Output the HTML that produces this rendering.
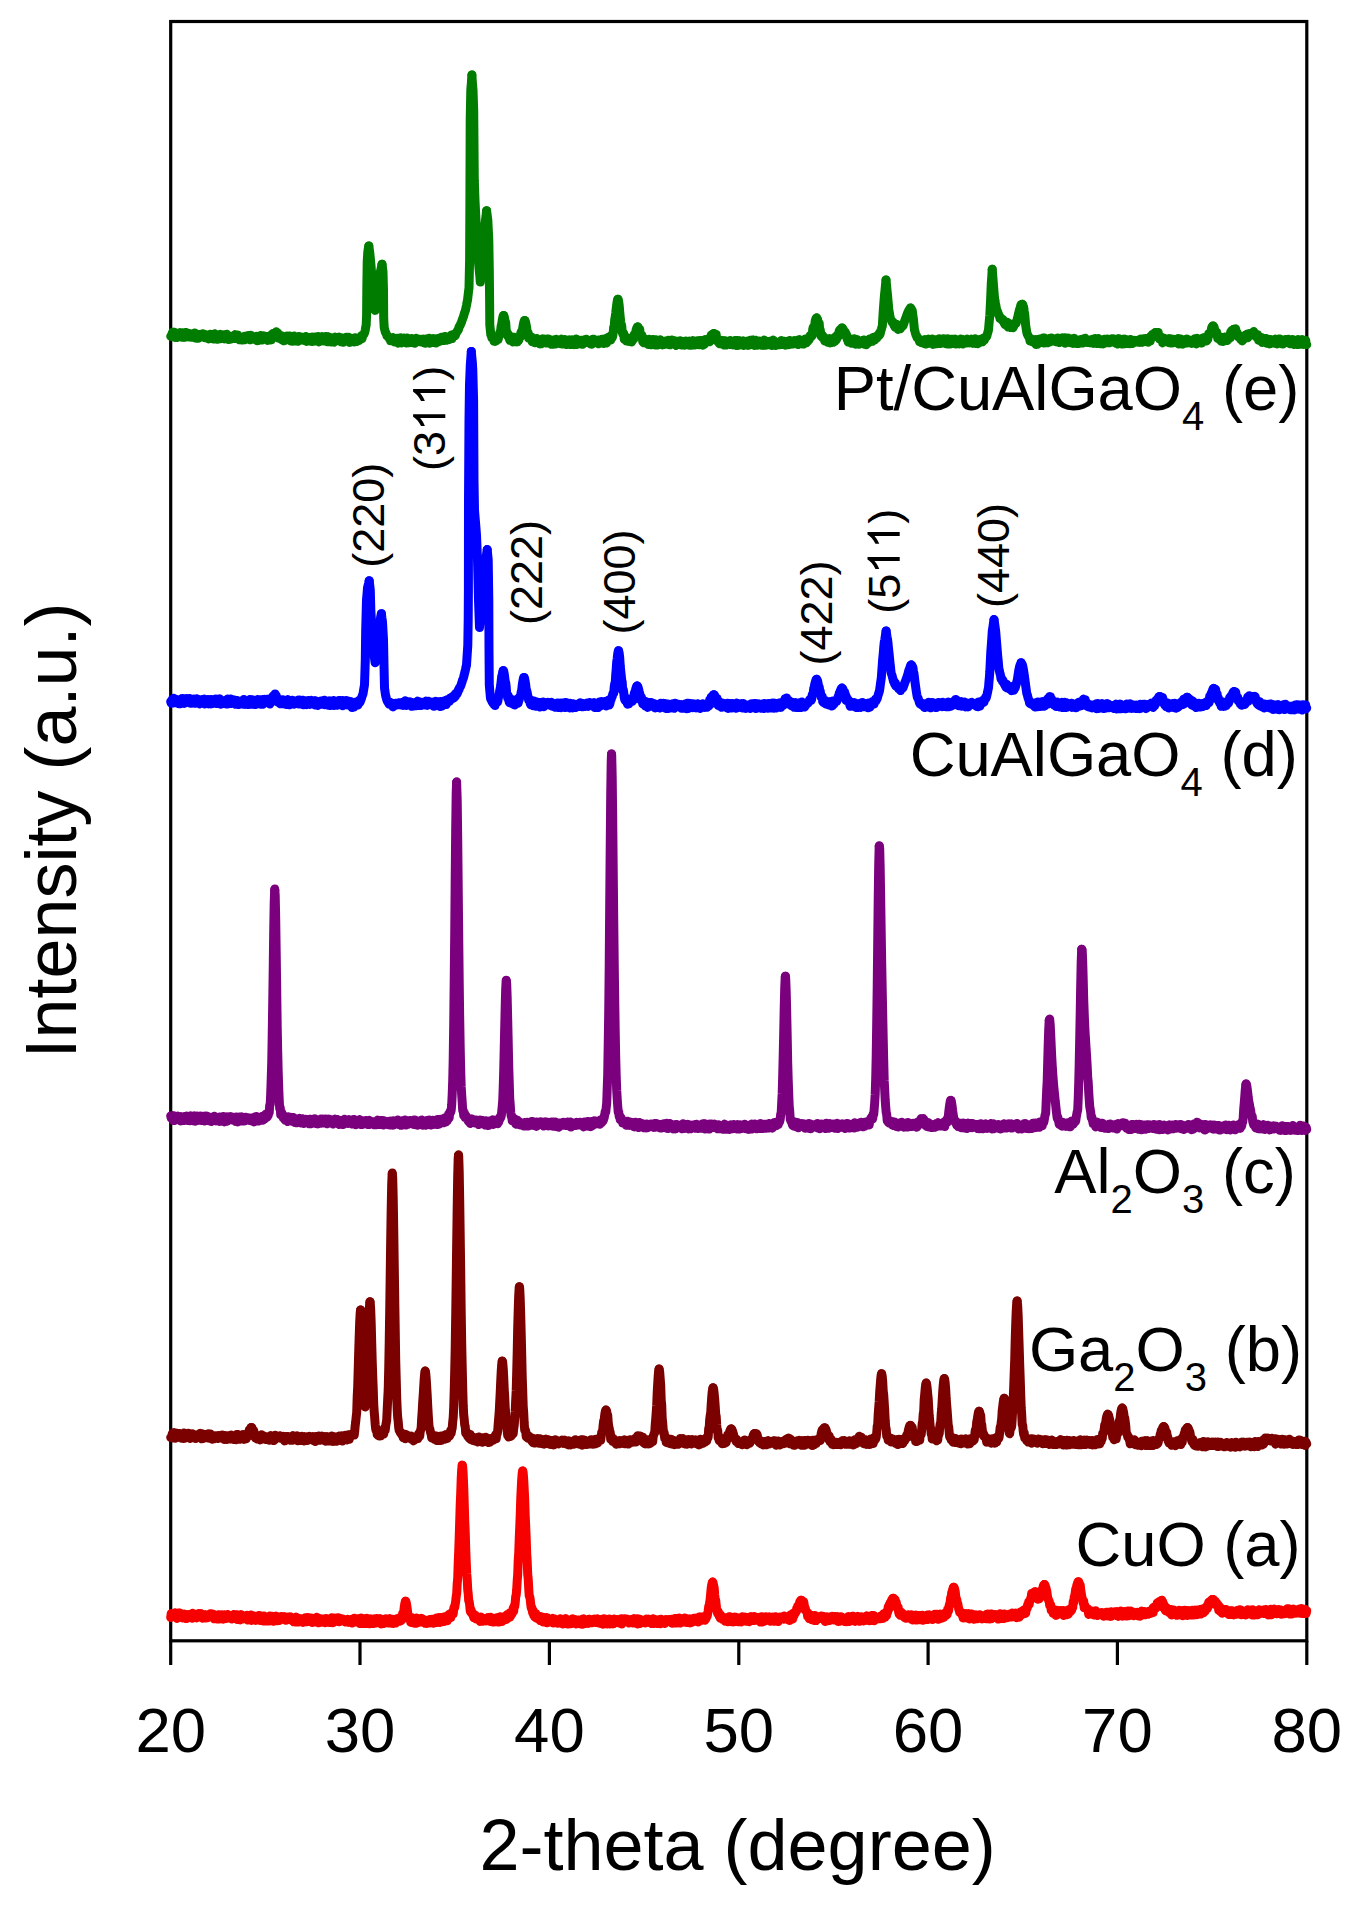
<!DOCTYPE html>
<html><head><meta charset="utf-8"><style>
html,body{margin:0;padding:0;background:#fff;}
svg{display:block;}
text{font-family:'Liberation Sans',sans-serif;fill:#000;font-kerning:none;}
</style></head><body>
<svg width="1363" height="1911" viewBox="0 0 1363 1911">
<rect width="1363" height="1911" fill="#fff"/>
<g stroke="#000" stroke-width="3.2" fill="none">
<rect x="170.7" y="21.5" width="1136.1" height="1619.3"/>
<line x1="170.7" y1="1640.8" x2="170.7" y2="1665"/><line x1="360.0" y1="1640.8" x2="360.0" y2="1665"/><line x1="549.4" y1="1640.8" x2="549.4" y2="1665"/><line x1="738.8" y1="1640.8" x2="738.8" y2="1665"/><line x1="928.1" y1="1640.8" x2="928.1" y2="1665"/><line x1="1117.4" y1="1640.8" x2="1117.4" y2="1665"/><line x1="1306.8" y1="1640.8" x2="1306.8" y2="1665"/>
</g>
<g fill="none" stroke-width="9.0" stroke-linejoin="round" stroke-linecap="round">
<path d="M170.7 336.3 171.2 336.4 171.7 334.7 172.2 333.5 172.7 332.2 173.2 334.1 173.7 334.2 174.2 332.2 174.7 332.3 175.2 337.6 175.7 335.7 176.2 333.4 176.7 334.5 177.2 337.5 177.7 337.1 178.2 336.9 178.7 334.3 179.2 334.9 179.7 336.0 180.2 332.6 180.7 335.3 181.2 333.8 181.7 337.2 182.2 332.7 182.7 336.1 183.2 337.2 183.7 333.6 184.2 337.4 184.7 337.3 185.2 332.5 185.7 336.4 186.2 332.5 186.7 335.3 187.2 335.0 187.7 333.7 188.2 334.4 188.7 337.1 189.2 334.4 189.7 333.5 190.2 336.6 190.7 335.2 191.2 337.2 191.7 334.0 192.2 334.5 192.7 337.2 193.2 335.6 193.7 335.6 194.2 334.1 194.7 332.9 195.2 338.1 195.7 333.4 196.2 337.6 196.7 335.0 197.2 338.3 197.7 335.2 198.2 338.2 198.7 336.1 199.2 334.4 199.7 337.2 200.2 336.8 200.7 336.9 201.2 335.7 201.7 334.4 202.2 336.7 202.7 333.8 203.2 337.1 203.7 336.8 204.2 335.3 204.7 337.7 205.2 334.4 205.7 335.5 206.2 337.8 206.7 335.5 207.2 337.4 207.7 336.8 208.2 338.7 208.7 339.0 209.2 337.5 209.7 338.0 210.2 334.3 210.7 337.5 211.2 338.3 211.7 335.8 212.2 336.7 212.7 336.3 213.2 339.0 213.7 335.4 214.2 335.9 214.7 333.7 215.2 336.1 215.7 337.3 216.2 339.0 216.7 338.9 217.2 335.6 217.7 339.3 218.2 334.9 218.7 338.5 219.2 334.8 219.7 336.2 220.2 334.3 220.7 338.7 221.2 338.6 221.7 334.8 222.2 337.0 222.7 335.5 223.2 336.8 223.7 337.2 224.2 334.7 224.7 338.9 225.2 335.7 225.7 336.7 226.2 334.5 226.7 334.2 227.2 335.3 227.7 336.1 228.2 339.5 228.7 339.3 229.2 337.0 229.7 336.9 230.2 338.1 230.7 339.2 231.2 336.3 231.7 338.8 232.2 336.7 232.7 337.8 233.2 338.6 233.7 337.3 234.2 338.4 234.7 338.4 235.2 334.6 235.7 334.8 236.2 335.4 236.7 335.8 237.2 335.8 237.7 334.9 238.2 335.9 238.7 338.1 239.2 339.7 239.7 336.7 240.2 336.8 240.7 337.1 241.2 338.6 241.7 339.2 242.2 340.1 242.7 337.0 243.2 338.8 243.7 336.8 244.2 339.5 244.7 336.2 245.2 339.8 245.7 337.8 246.2 339.1 246.7 338.0 247.2 336.8 247.7 337.8 248.2 335.4 248.7 335.4 249.2 338.1 249.7 337.8 250.2 339.8 250.7 335.3 251.2 338.3 251.7 337.9 252.2 338.5 252.7 339.3 253.2 338.1 253.7 338.4 254.2 338.0 254.7 338.7 255.2 336.6 255.7 338.3 256.2 339.0 256.7 336.3 257.2 340.8 257.7 339.4 258.2 340.6 258.7 336.9 259.2 337.8 259.7 336.8 260.2 335.6 260.7 335.4 261.2 336.7 261.7 340.1 262.2 336.2 262.7 339.2 263.2 336.7 263.7 335.7 264.2 336.4 264.7 339.1 265.2 338.1 265.7 338.4 266.2 337.8 266.7 336.8 267.2 338.0 267.7 340.4 268.2 336.3 268.7 339.3 269.2 336.5 269.7 336.1 270.2 336.8 270.7 335.3 271.2 339.9 271.7 336.4 272.2 335.0 272.7 333.6 273.2 333.3 273.7 333.5 274.2 333.9 274.7 334.3 275.2 335.9 275.7 335.2 276.2 331.8 276.7 334.4 277.2 336.8 277.7 333.0 278.2 337.9 278.7 335.9 279.2 338.5 279.7 336.3 280.2 338.3 280.7 337.8 281.2 335.7 281.7 339.5 282.2 339.9 282.7 338.1 283.2 337.6 283.7 340.8 284.2 337.6 284.7 340.5 285.2 337.9 285.7 337.7 286.2 337.7 286.7 336.0 287.2 337.2 287.7 337.0 288.2 336.1 288.7 338.8 289.2 338.2 289.7 335.9 290.2 336.7 290.7 340.9 291.2 336.6 291.7 337.9 292.2 341.2 292.7 336.5 293.2 338.2 293.7 340.4 294.2 336.0 294.7 336.3 295.2 341.1 295.7 339.8 296.2 337.4 296.7 338.6 297.2 337.3 297.7 341.0 298.2 341.3 298.7 336.4 299.2 338.9 299.7 337.0 300.2 338.3 300.7 340.2 301.2 340.0 301.7 337.1 302.2 337.9 302.7 338.4 303.2 338.2 303.7 339.9 304.2 340.5 304.7 338.0 305.2 338.6 305.7 336.5 306.2 338.2 306.7 341.4 307.2 339.0 307.7 339.3 308.2 339.6 308.7 339.3 309.2 340.7 309.7 337.6 310.2 338.0 310.7 341.2 311.2 339.0 311.7 341.6 312.2 337.0 312.7 340.6 313.2 338.9 313.7 338.9 314.2 341.2 314.7 337.0 315.2 339.2 315.7 337.7 316.2 338.2 316.7 340.9 317.2 338.6 317.7 340.7 318.2 336.4 318.7 341.9 319.2 341.7 319.7 340.2 320.2 337.5 320.7 340.1 321.2 337.5 321.7 338.5 322.2 336.6 322.7 336.8 323.2 337.3 323.7 337.5 324.2 341.1 324.7 337.8 325.2 341.1 325.7 336.5 326.2 336.8 326.7 336.8 327.2 341.7 327.7 341.1 328.2 336.6 328.7 341.7 329.2 337.8 329.7 338.0 330.2 339.8 330.7 337.7 331.2 342.0 331.7 338.6 332.2 339.8 332.7 339.8 333.2 338.2 333.7 340.7 334.2 342.2 334.7 340.0 335.2 337.1 335.7 341.2 336.2 340.4 336.7 339.4 337.2 340.3 337.7 338.1 338.2 338.4 338.7 339.6 339.2 337.1 339.7 340.0 340.2 337.7 340.7 338.1 341.2 341.8 341.7 340.0 342.2 338.1 342.7 340.7 343.2 342.3 343.7 341.8 344.2 341.3 344.7 338.7 345.2 340.1 345.7 340.1 346.2 337.3 346.7 340.7 347.2 339.8 347.7 339.8 348.2 341.0 348.7 337.3 349.2 338.1 349.7 342.4 350.0 342.3 350.5 341.5 351.0 338.9 351.5 338.3 352.0 339.7 352.5 341.7 353.0 341.5 353.5 339.7 354.0 341.0 354.5 341.9 355.0 337.7 355.5 340.3 356.0 341.3 356.5 341.5 357.0 338.3 357.5 339.5 358.0 338.8 358.5 338.1 359.0 340.7 359.5 339.2 360.0 338.8 360.5 337.2 361.0 338.6 361.5 335.6 362.0 338.8 362.5 336.5 363.0 335.0 363.4 334.6 363.9 334.2 364.3 333.5 364.8 332.2 365.3 329.8 365.7 327.3 366.2 324.9 366.6 315.1 366.8 290.0 367.2 262.0 367.8 252.2 368.3 248.7 368.8 245.9 369.4 250.1 370.0 254.8 370.6 261.4 371.2 267.9 371.6 273.9 372.1 279.3 372.5 284.9 372.9 289.9 373.4 295.1 373.8 300.0 374.2 303.1 374.7 306.8 375.1 310.4 375.6 307.0 376.0 303.7 376.5 299.9 377.0 296.5 377.5 292.6 378.0 288.5 378.5 285.1 378.9 282.1 379.4 278.4 379.9 275.2 380.3 271.9 380.9 269.6 381.4 267.1 382.0 264.2 382.5 267.9 383.0 271.9 383.5 290.2 383.7 318.3 384.2 327.3 384.6 329.2 385.1 331.1 385.5 332.5 386.0 333.2 386.5 334.2 387.0 336.0 387.5 336.3 388.0 336.7 388.5 336.9 389.0 338.2 389.5 338.7 390.0 338.5 390.5 340.7 391.0 340.7 391.5 339.1 392.0 338.6 392.5 339.4 393.0 337.6 393.5 339.9 394.0 338.1 394.5 341.9 395.0 339.8 395.5 339.1 396.0 340.2 396.2 340.6 396.7 340.5 397.2 338.2 397.7 340.8 398.2 343.2 398.7 341.7 399.2 340.3 399.7 340.1 400.2 342.5 400.7 337.7 401.2 338.8 401.7 343.0 402.2 341.4 402.7 342.3 403.2 340.7 403.7 337.9 404.2 340.7 404.7 341.3 405.2 338.2 405.7 340.4 406.2 343.0 406.7 338.1 407.2 338.0 407.7 338.4 408.2 341.6 408.7 342.8 409.2 338.7 409.7 342.5 410.2 339.1 410.7 340.8 411.2 342.1 411.7 338.5 412.2 340.5 412.7 342.7 413.2 339.8 413.7 342.3 414.2 340.4 414.7 343.2 415.2 340.1 415.7 342.5 416.2 338.3 416.7 339.8 417.2 338.7 417.7 340.2 418.2 340.2 418.7 339.3 419.2 340.3 419.7 341.8 420.2 341.2 420.7 339.3 421.2 342.0 421.7 341.9 422.2 340.3 422.7 340.6 423.2 339.0 423.7 342.7 424.2 340.0 424.7 339.6 425.2 343.2 425.7 339.7 426.2 339.1 426.7 340.2 427.2 340.9 427.7 341.5 428.2 340.3 428.7 341.9 429.2 338.2 429.7 343.2 430.2 340.6 430.7 340.6 431.2 340.6 431.7 339.6 432.2 342.6 432.7 340.6 433.2 338.6 433.7 340.0 434.2 340.8 434.7 340.1 435.2 338.7 435.7 343.1 436.2 338.9 436.7 342.2 437.2 340.5 437.7 340.9 438.2 341.9 438.7 338.2 439.2 340.9 439.7 340.7 440.0 341.3 440.5 340.4 441.0 337.8 441.5 337.3 442.0 338.5 442.5 340.5 443.0 340.3 443.5 338.5 444.0 339.7 444.5 340.5 445.0 336.4 445.5 338.9 446.0 340.0 446.5 340.3 447.0 337.0 447.5 338.3 448.0 337.6 448.5 337.0 449.0 339.7 449.5 338.4 450.0 338.3 450.5 336.6 451.0 338.1 451.5 335.0 452.0 338.5 452.5 336.1 453.0 334.4 453.5 335.2 454.0 335.9 454.5 336.0 455.0 335.8 455.5 335.0 456.0 333.2 456.5 332.1 457.0 332.0 457.5 330.6 458.0 329.8 458.5 329.6 459.0 327.1 459.5 326.0 460.0 325.8 460.5 324.6 461.0 323.2 461.5 322.3 462.0 320.6 462.5 319.2 463.0 317.9 463.5 316.5 464.0 314.8 464.5 312.9 465.0 311.6 465.5 310.2 466.0 307.7 466.5 305.3 467.0 302.4 467.5 300.2 468.0 296.1 468.5 291.7 469.0 288.1 469.6 260.3 469.9 199.9 470.2 119.9 470.8 89.9 471.4 82.7 471.9 75.0 472.4 82.8 473.0 89.8 473.7 109.9 474.3 180.2 475.0 200.3 475.5 210.3 476.0 220.2 476.5 230.1 477.0 237.9 477.5 245.8 478.0 253.9 478.5 262.2 478.9 267.0 479.4 272.0 479.9 276.9 480.3 282.1 480.9 275.4 481.4 268.7 482.0 262.3 482.5 256.3 483.0 250.0 483.5 243.9 484.0 238.0 484.5 231.7 485.0 226.0 485.5 219.8 486.1 215.6 486.6 210.8 487.2 215.3 487.8 219.8 488.3 230.0 488.8 239.8 489.3 269.7 489.6 300.0 489.8 325.0 490.3 329.8 490.8 334.7 491.4 335.8 491.9 337.9 492.4 338.1 493.0 338.7 493.5 338.4 494.0 341.3 494.5 340.6 495.0 341.4 495.2 339.3 495.7 341.0 496.2 340.9 496.7 337.0 497.2 336.9 497.7 337.5 498.2 339.5 498.7 336.6 499.2 335.7 499.7 332.7 500.2 332.2 500.7 330.1 501.2 325.8 501.7 324.2 502.2 320.5 502.7 317.8 503.2 316.0 503.6 315.5 504.2 316.6 504.7 318.8 505.2 321.7 505.7 322.5 506.2 330.0 506.7 331.7 507.2 333.1 507.7 336.1 508.2 334.0 508.7 336.1 509.2 338.2 509.7 340.3 510.2 339.0 510.7 337.0 511.2 336.7 511.7 336.9 512.2 341.0 512.7 341.9 513.2 337.8 513.7 341.6 514.2 337.3 514.7 341.7 515.2 341.0 515.7 339.7 516.2 339.6 516.7 338.1 517.2 341.9 517.7 338.1 518.2 337.8 518.7 340.3 519.2 338.7 519.7 337.7 520.2 337.1 520.7 333.3 521.2 331.8 521.7 334.8 522.2 331.1 522.7 328.2 523.2 325.0 523.7 322.7 524.2 321.1 524.7 320.5 525.2 321.1 525.7 322.8 526.2 325.1 526.7 328.1 527.2 332.5 527.7 332.1 528.2 333.1 528.7 338.3 529.2 335.8 529.7 337.8 530.2 338.5 530.7 336.6 531.2 337.4 531.7 337.1 532.2 341.7 532.7 339.6 533.2 341.5 533.7 340.3 534.2 340.6 534.7 342.8 535.2 340.3 535.7 338.7 536.2 341.9 536.7 338.4 537.2 341.2 537.7 340.4 538.2 340.8 538.7 342.5 539.2 343.2 539.7 343.9 540.2 342.9 540.7 343.1 541.2 343.8 541.7 340.8 542.2 340.5 542.7 338.8 543.2 341.2 543.7 339.0 544.2 339.9 544.7 341.0 545.2 341.0 545.7 343.0 546.2 341.4 546.7 342.7 547.2 338.9 547.7 342.8 548.2 343.1 548.7 338.9 549.2 340.8 549.7 342.4 550.2 339.6 550.7 343.4 551.2 344.3 551.7 343.3 552.2 342.4 552.7 343.3 553.2 344.2 553.7 344.3 554.2 340.8 554.7 342.6 555.2 339.5 555.7 344.1 556.2 339.3 556.7 340.6 557.2 342.2 557.7 340.2 558.2 341.3 558.7 341.0 559.2 342.7 559.7 341.9 560.2 343.7 560.7 342.5 561.2 343.1 561.7 339.1 562.2 342.8 562.7 344.1 563.2 339.8 563.7 343.4 564.2 343.4 564.7 339.5 565.2 342.5 565.7 340.8 566.2 341.1 566.7 344.6 567.2 342.3 567.7 341.7 568.2 343.5 568.7 341.3 569.2 339.8 569.7 344.6 570.2 340.0 570.7 344.1 571.2 344.6 571.7 341.7 572.2 339.8 572.7 341.7 573.2 342.1 573.7 343.5 574.2 344.7 574.7 340.5 575.2 339.3 575.7 344.6 576.2 339.1 576.7 344.5 577.2 344.1 577.7 344.2 578.2 341.4 578.7 340.2 579.2 342.5 579.7 341.5 580.2 343.1 580.7 340.2 581.2 341.8 581.7 344.2 582.2 342.4 582.7 344.3 583.2 343.3 583.7 339.9 584.2 342.7 584.7 340.1 585.2 339.5 585.7 342.5 586.2 339.2 586.7 339.4 587.2 341.3 587.7 340.1 588.2 342.8 588.7 340.6 589.2 340.4 589.7 342.2 590.2 342.0 590.7 343.8 591.2 343.7 591.7 344.3 592.2 339.7 592.7 339.3 593.2 343.2 593.7 341.2 594.2 339.3 594.7 341.9 595.2 340.8 595.7 340.1 596.2 342.7 596.7 343.0 597.2 340.3 597.7 342.6 598.2 340.1 598.7 343.8 599.2 341.0 599.7 341.4 600.2 339.7 600.7 341.3 601.2 340.2 601.7 343.0 602.2 339.3 602.7 341.5 603.2 340.7 603.7 343.5 604.2 341.9 604.7 341.3 605.2 338.9 605.7 338.6 606.2 341.3 606.7 342.9 607.2 338.0 607.7 339.8 608.2 339.3 608.7 337.1 609.2 340.2 609.7 338.9 610.2 338.6 610.7 340.0 611.2 338.1 611.7 335.0 612.2 337.9 612.7 336.1 613.2 332.8 613.7 327.0 614.2 326.8 614.7 319.6 615.2 317.0 615.7 313.3 616.2 308.8 616.7 304.7 617.2 301.3 617.7 299.5 617.9 299.3 618.2 299.7 618.7 301.8 619.2 305.5 619.7 311.8 620.2 316.9 620.7 321.6 621.2 324.7 621.7 325.5 622.2 331.9 622.7 333.7 623.2 333.7 623.7 333.1 624.2 339.2 624.7 335.8 625.2 336.2 625.7 338.8 626.2 340.9 626.7 337.9 627.2 337.8 627.7 341.2 628.2 340.1 628.7 340.2 629.2 340.4 629.7 341.6 630.2 341.3 630.7 338.4 631.2 338.7 631.7 342.0 632.2 340.7 632.7 338.5 633.2 336.5 633.7 338.9 634.2 334.3 634.7 334.0 635.2 333.3 635.7 332.6 636.2 329.6 636.7 328.2 637.2 327.2 637.7 326.9 638.2 327.3 638.7 328.3 639.2 329.8 639.7 329.0 640.2 335.8 640.7 334.6 641.2 334.9 641.7 335.0 642.2 335.8 642.7 341.7 643.2 341.2 643.7 342.8 644.2 342.5 644.7 340.4 645.2 339.3 645.7 341.4 646.2 339.9 646.7 339.6 647.2 341.9 647.7 342.1 648.2 344.5 648.7 343.5 649.2 339.2 649.7 340.1 650.2 342.3 650.7 343.2 651.2 344.8 651.7 342.4 652.2 342.0 652.7 339.5 653.2 341.9 653.7 344.3 654.2 339.8 654.7 342.4 655.2 344.9 655.7 344.9 656.2 339.7 656.7 341.3 657.2 340.7 657.7 345.1 658.2 344.1 658.7 341.2 659.2 341.8 659.7 343.5 660.2 339.8 660.7 340.7 661.2 344.2 661.7 341.5 662.2 341.1 662.7 344.9 663.2 343.8 663.7 344.6 664.2 344.2 664.7 342.7 665.2 340.9 665.7 343.7 666.2 342.9 666.7 343.9 667.2 343.6 667.7 344.3 668.2 340.2 668.7 340.8 669.2 344.8 669.7 343.7 670.2 344.8 670.7 340.2 671.2 342.8 671.7 340.0 672.2 340.8 672.7 340.2 673.2 341.0 673.7 341.4 674.2 340.4 674.7 343.6 675.2 343.3 675.7 343.8 676.2 345.5 676.7 341.6 677.2 341.4 677.7 341.7 678.2 344.6 678.7 343.7 679.2 344.2 679.7 341.3 680.2 340.8 680.7 342.7 681.2 345.1 681.7 341.5 682.2 344.3 682.7 344.0 683.2 342.1 683.7 343.9 684.2 345.2 684.7 341.2 685.2 341.5 685.7 342.2 686.2 341.1 686.7 342.3 687.2 344.1 687.7 344.8 688.2 343.7 688.7 343.1 689.2 345.2 689.7 341.1 690.2 343.9 690.7 342.1 691.2 345.2 691.7 341.1 692.2 341.4 692.7 340.6 693.2 342.5 693.7 343.8 694.2 341.6 694.7 345.0 695.2 344.4 695.7 341.5 696.2 343.3 696.7 343.6 697.2 340.7 697.7 343.6 698.2 343.4 698.7 344.8 699.2 341.6 699.7 340.6 700.2 342.9 700.7 344.6 701.2 340.5 701.7 341.0 702.2 340.4 702.7 345.3 703.2 344.0 703.7 340.2 704.2 344.4 704.7 342.0 705.2 339.6 705.7 339.8 706.2 340.7 706.7 339.4 707.2 340.0 707.7 339.2 708.2 339.3 708.7 338.7 709.2 340.1 709.7 341.7 710.2 340.8 710.7 338.6 711.2 335.0 711.7 339.0 712.2 335.4 712.7 334.5 713.2 333.8 713.7 333.5 714.2 333.6 714.7 334.2 715.2 335.0 715.7 338.1 716.2 334.5 716.7 340.6 717.2 340.4 717.7 341.6 718.2 340.2 718.7 342.4 719.2 343.5 719.7 343.7 720.2 340.5 720.7 340.1 721.2 342.9 721.7 341.9 722.2 344.3 722.7 342.1 723.2 340.5 723.7 341.8 724.2 345.1 724.7 343.6 725.2 340.7 725.7 340.8 726.2 342.0 726.7 345.1 727.2 342.8 727.7 341.4 728.2 341.1 728.7 341.3 729.2 342.9 729.7 341.1 730.2 340.5 730.7 344.6 731.2 343.6 731.7 343.3 732.2 341.4 732.7 342.3 733.2 344.9 733.7 341.5 734.2 342.4 734.7 340.6 735.2 342.2 735.7 340.5 736.2 344.3 736.7 345.6 737.2 340.5 737.7 342.1 738.2 345.4 738.7 340.7 739.2 344.6 739.7 340.7 740.2 342.6 740.7 344.4 741.2 344.5 741.7 344.6 742.2 341.9 742.7 343.1 743.2 340.8 743.7 345.6 744.2 344.2 744.7 342.3 745.2 342.8 745.7 343.3 746.2 342.1 746.7 341.9 747.2 345.2 747.7 341.0 748.2 345.4 748.7 343.2 749.2 342.7 749.7 342.7 750.2 340.2 750.7 341.9 751.2 342.7 751.7 340.3 752.2 340.1 752.7 340.1 753.2 343.5 753.7 340.1 754.2 345.4 754.7 343.6 755.2 344.1 755.7 340.3 756.2 342.9 756.7 341.2 757.2 345.2 757.7 342.1 758.2 341.2 758.7 342.5 759.2 341.9 759.7 340.9 760.2 344.4 760.7 341.3 761.2 345.2 761.7 344.2 762.2 344.9 762.7 344.2 763.2 345.0 763.7 345.4 764.2 340.1 764.7 341.5 765.2 345.1 765.7 343.1 766.2 345.2 766.7 342.7 767.2 342.0 767.7 344.7 768.2 341.5 768.7 342.3 769.2 344.7 769.7 342.2 770.2 343.7 770.7 340.9 771.2 341.2 771.7 345.5 772.2 341.1 772.7 341.0 773.2 340.1 773.7 340.5 774.2 342.3 774.7 343.5 775.2 345.0 775.7 345.6 776.2 342.0 776.7 342.8 777.2 342.3 777.7 342.6 778.2 344.8 778.7 342.3 779.2 344.2 779.7 344.8 780.2 342.3 780.7 341.9 781.2 340.5 781.7 343.7 782.2 344.4 782.7 343.5 783.2 341.5 783.7 343.9 784.2 341.2 784.7 344.4 785.2 345.2 785.7 341.7 786.2 343.3 786.7 342.4 787.2 341.7 787.7 344.8 788.2 341.6 788.7 344.3 789.2 344.0 789.7 340.4 790.2 344.4 790.7 341.9 791.2 341.8 791.7 342.2 792.2 341.9 792.7 342.1 793.2 343.9 793.7 341.4 794.2 340.5 794.7 343.8 795.2 342.0 795.7 342.6 796.2 340.5 796.7 343.3 797.2 342.9 797.7 343.0 798.2 344.6 798.7 339.8 799.2 342.3 799.7 339.6 800.2 341.3 800.7 342.8 801.2 343.7 801.7 340.7 802.2 344.1 802.7 344.1 803.2 344.1 803.7 341.3 804.2 342.2 804.7 341.3 805.2 338.9 805.7 339.9 806.2 342.9 806.7 339.1 807.2 340.4 807.7 341.4 808.2 339.6 808.7 340.2 809.2 339.6 809.7 336.6 810.2 335.4 810.7 337.2 811.2 336.8 811.7 335.0 812.2 335.9 812.7 329.5 813.2 327.2 813.7 329.3 814.2 327.4 814.7 325.6 815.2 320.9 815.7 319.3 816.2 318.3 816.6 318.0 817.2 318.6 817.7 319.8 818.2 323.5 818.7 325.3 819.2 323.3 819.7 330.4 820.2 329.7 820.7 333.3 821.2 336.3 821.7 335.9 822.2 334.9 822.7 337.8 823.2 337.6 823.7 336.8 824.2 337.2 824.7 341.0 825.2 339.4 825.7 339.7 826.2 339.5 826.7 341.0 827.2 341.3 827.7 342.3 828.2 339.6 828.7 341.3 829.2 340.9 829.7 338.6 830.2 342.9 830.7 341.5 831.2 340.7 831.7 340.9 832.2 340.9 832.7 340.2 833.2 340.6 833.7 342.2 834.2 339.5 834.7 341.4 835.2 336.9 835.7 338.2 836.2 340.1 836.7 338.9 837.2 335.1 837.7 335.7 838.2 335.1 838.7 336.1 839.2 330.9 839.7 329.9 840.2 329.5 840.7 329.4 841.2 328.6 841.7 328.1 842.0 328.0 842.2 328.0 842.7 328.5 843.2 329.3 843.7 330.0 844.2 331.7 844.7 332.5 845.2 331.9 845.7 335.4 846.2 333.8 846.7 335.4 847.2 339.4 847.7 340.1 848.2 342.0 848.7 341.2 849.2 339.6 849.7 338.8 850.2 339.0 850.7 339.5 851.2 343.3 851.7 340.7 852.2 341.4 852.7 341.4 853.2 339.2 853.7 342.0 854.2 338.7 854.7 342.3 855.2 340.1 855.7 344.2 856.2 342.4 856.7 341.7 857.2 339.6 857.7 340.5 858.2 340.5 858.7 344.2 859.2 341.9 859.7 341.9 860.2 341.7 860.7 341.0 861.2 342.8 861.7 341.7 862.2 342.2 862.7 343.1 863.2 342.7 863.7 340.1 864.2 344.2 864.7 340.1 865.2 342.3 865.7 344.3 866.2 344.7 866.7 341.2 867.2 342.3 867.7 342.8 868.0 343.1 868.5 342.2 869.0 339.7 869.5 339.1 870.0 340.1 870.5 341.7 871.0 341.4 871.5 339.7 872.0 340.6 872.5 341.3 873.0 337.6 873.5 339.4 874.0 340.0 874.5 340.0 875.0 337.0 875.5 337.9 876.0 337.0 876.5 336.3 877.0 338.1 877.5 336.7 878.0 336.2 878.5 334.6 879.0 335.7 879.5 332.9 880.0 334.3 880.5 332.4 880.9 330.6 881.4 329.2 881.8 327.7 882.3 326.2 882.8 318.2 883.3 310.2 883.9 302.4 884.5 294.9 885.0 290.1 885.5 284.9 886.0 279.9 886.5 285.0 887.0 290.2 887.5 294.7 887.9 299.7 888.4 304.8 888.8 309.9 889.4 312.9 889.9 316.3 890.5 318.9 891.0 319.6 891.5 320.5 892.0 321.9 892.5 322.5 893.0 322.0 893.5 323.9 894.0 325.3 894.5 325.8 895.0 327.1 895.5 325.3 896.0 327.4 896.5 327.3 897.0 324.4 897.5 327.7 898.0 329.4 898.5 325.9 899.0 326.6 899.5 326.2 900.0 328.5 900.5 328.8 901.0 326.1 901.5 325.9 902.0 326.5 902.5 326.2 903.0 325.8 903.5 324.5 904.0 323.1 904.5 321.5 905.0 320.0 905.5 318.7 906.0 317.6 906.5 316.0 907.0 314.6 907.5 313.2 908.0 312.0 908.5 311.0 909.0 310.0 909.5 310.7 910.0 309.9 910.5 307.9 911.0 308.6 911.4 309.0 911.8 310.1 912.3 310.7 912.9 315.5 913.5 319.8 914.0 325.2 914.5 329.9 915.0 331.6 915.5 333.5 916.0 335.1 916.5 335.7 917.0 337.6 917.5 338.0 918.0 337.9 918.5 338.8 919.0 339.2 919.5 341.7 920.0 340.2 920.5 340.3 921.0 339.9 921.5 342.8 922.0 342.1 922.5 342.8 923.0 340.6 923.5 340.0 924.0 340.4 924.5 343.7 925.0 339.6 925.2 341.3 925.7 340.2 926.2 344.1 926.7 342.9 927.2 339.5 927.7 339.8 928.2 339.1 928.7 343.3 929.2 343.0 929.7 340.7 930.2 339.8 930.7 340.3 931.2 342.1 931.7 339.6 932.2 339.0 932.7 340.4 933.2 344.4 933.7 339.6 934.2 342.5 934.7 344.0 935.2 343.7 935.7 342.4 936.2 341.4 936.7 342.9 937.2 343.7 937.7 340.9 938.2 341.9 938.7 341.7 939.2 338.8 939.7 343.6 940.2 343.5 940.7 343.6 941.2 339.7 941.7 340.0 942.2 341.5 942.7 340.4 943.2 339.6 943.7 338.7 944.2 339.7 944.7 339.6 945.2 341.5 945.7 343.7 946.2 339.0 946.7 338.9 947.2 344.1 947.7 338.7 948.2 339.8 948.7 342.8 949.2 342.0 949.7 341.0 950.2 344.0 950.7 339.3 951.2 341.9 951.7 343.3 952.2 343.6 952.7 339.2 953.2 341.8 953.7 340.0 954.2 340.6 954.7 339.3 955.2 339.1 955.7 344.1 956.2 340.6 956.7 341.2 957.2 342.4 957.7 343.6 958.2 343.2 958.7 342.0 959.2 343.9 959.7 340.1 960.2 343.2 960.7 339.0 961.2 342.7 961.7 342.8 962.2 342.5 962.7 342.2 963.2 344.0 963.7 339.6 964.2 341.3 964.7 340.2 965.2 341.2 965.7 342.8 966.2 343.0 966.7 341.0 967.2 339.0 967.7 339.5 968.2 342.0 968.7 342.2 969.2 342.9 969.7 340.6 970.2 341.8 970.7 340.1 971.2 342.7 971.7 339.1 972.2 340.7 972.7 343.4 973.2 342.3 973.7 341.3 974.2 341.2 974.7 339.1 975.2 338.7 975.7 343.4 976.2 339.7 976.7 341.7 977.2 339.6 977.7 343.7 978.0 343.6 978.5 342.7 979.0 340.2 979.5 339.6 980.0 340.6 980.5 342.2 981.0 341.9 981.5 340.2 982.0 341.1 982.5 341.8 983.0 338.3 983.5 339.7 984.0 340.2 984.5 340.0 985.0 337.2 985.5 337.8 986.0 336.9 986.5 336.8 987.0 335.5 987.5 333.5 988.0 331.8 988.5 329.8 988.9 325.1 989.4 319.7 989.8 315.3 990.2 307.5 990.6 299.8 991.3 283.0 991.8 276.3 992.2 269.3 992.8 276.4 993.3 283.2 993.9 290.7 994.5 297.9 995.0 300.6 995.5 303.6 996.0 306.2 996.5 309.0 997.0 310.6 997.5 311.5 998.0 312.9 998.5 314.4 999.0 315.7 999.5 316.0 1000.0 318.5 1000.5 317.8 1001.0 318.1 1001.5 318.8 1002.0 320.2 1002.5 320.4 1003.0 319.4 1003.5 321.4 1004.0 322.8 1004.5 323.3 1005.0 324.6 1005.5 322.7 1006.0 324.9 1006.5 324.7 1007.0 322.2 1007.5 325.3 1008.0 327.0 1008.5 323.8 1009.0 324.6 1009.5 324.3 1010.0 326.7 1010.5 327.6 1011.0 324.1 1011.5 324.7 1012.0 326.8 1012.5 327.3 1013.0 327.7 1013.5 326.6 1014.0 325.7 1014.5 323.7 1015.0 323.0 1015.5 322.7 1016.0 323.4 1016.5 322.0 1017.0 320.0 1017.5 317.9 1018.0 316.1 1018.5 313.8 1019.1 311.4 1019.6 309.3 1020.1 308.0 1020.5 306.5 1021.0 304.6 1021.6 304.5 1022.2 304.2 1022.7 304.3 1023.1 306.1 1023.6 306.8 1024.2 311.2 1024.8 314.9 1025.2 319.8 1025.6 325.0 1026.2 328.8 1026.8 332.4 1027.3 334.2 1027.9 335.3 1028.4 336.2 1029.0 337.6 1029.5 338.2 1030.0 341.0 1030.5 338.9 1031.0 339.2 1031.5 339.0 1032.0 341.7 1032.5 341.3 1033.0 342.1 1033.5 340.3 1034.0 339.7 1034.5 340.1 1035.0 343.4 1035.5 339.4 1036.0 344.4 1036.5 341.8 1037.0 342.7 1037.5 344.2 1038.0 343.8 1038.2 342.9 1038.7 342.6 1039.2 343.0 1039.7 338.9 1040.2 341.2 1040.7 339.0 1041.2 341.7 1041.7 342.4 1042.2 340.2 1042.7 339.3 1043.2 337.9 1043.7 343.1 1044.2 338.0 1044.7 341.6 1045.2 342.6 1045.7 339.7 1046.2 338.8 1046.7 339.8 1047.2 341.6 1047.7 342.8 1048.2 339.5 1048.7 340.4 1049.2 340.5 1049.7 338.8 1050.2 338.3 1050.7 341.7 1051.2 339.5 1051.7 338.0 1052.2 339.7 1052.7 338.7 1053.2 339.1 1053.7 338.9 1054.2 341.3 1054.7 339.6 1055.2 339.6 1055.7 341.8 1056.2 340.1 1056.7 341.3 1057.2 341.9 1057.7 337.9 1058.2 342.1 1058.7 341.8 1059.2 342.6 1059.7 340.5 1060.2 341.3 1060.7 338.8 1061.2 339.3 1061.7 338.1 1062.2 337.8 1062.7 339.0 1063.2 339.1 1063.7 339.1 1064.2 337.8 1064.7 337.8 1065.2 343.2 1065.7 341.9 1066.2 339.5 1066.7 338.8 1067.2 339.1 1067.7 339.4 1068.2 337.9 1068.7 341.3 1069.2 339.7 1069.7 338.6 1070.2 342.7 1070.7 342.4 1071.2 341.0 1071.7 342.2 1072.2 340.9 1072.7 339.1 1073.2 343.4 1073.7 341.0 1074.2 338.3 1074.7 338.7 1075.2 340.1 1075.7 342.3 1076.2 342.9 1076.7 343.6 1077.2 341.7 1077.7 342.9 1078.2 341.7 1078.7 343.2 1079.2 343.5 1079.7 340.7 1080.2 339.6 1080.7 340.7 1081.2 340.7 1081.7 339.3 1082.2 342.9 1082.7 343.1 1083.2 339.2 1083.7 340.2 1084.2 340.9 1084.7 338.5 1085.2 338.2 1085.7 341.5 1086.2 339.8 1086.7 342.5 1087.2 342.3 1087.7 340.1 1088.2 341.2 1088.7 340.8 1089.2 342.5 1089.7 340.1 1090.2 342.9 1090.7 342.1 1091.2 340.9 1091.7 340.1 1092.2 341.6 1092.7 343.1 1093.2 338.9 1093.7 343.4 1094.2 342.6 1094.7 339.6 1095.2 338.4 1095.7 341.4 1096.2 338.7 1096.7 343.6 1097.2 340.9 1097.7 340.6 1098.2 338.5 1098.7 341.3 1099.2 342.3 1099.7 341.6 1100.2 343.8 1100.7 342.6 1101.2 342.4 1101.7 341.0 1102.2 341.2 1102.7 341.6 1103.2 343.9 1103.7 343.3 1104.2 339.2 1104.7 339.3 1105.2 342.7 1105.7 340.2 1106.2 340.6 1106.7 339.5 1107.2 338.9 1107.7 339.8 1108.2 342.8 1108.7 342.0 1109.2 341.2 1109.7 342.7 1110.2 342.4 1110.7 339.8 1111.2 338.9 1111.7 338.8 1112.2 338.8 1112.7 341.8 1113.2 339.6 1113.7 342.4 1114.2 338.9 1114.7 342.1 1115.2 340.7 1115.7 340.4 1116.2 343.4 1116.7 342.9 1117.2 342.0 1117.7 344.1 1118.2 343.1 1118.7 338.6 1119.2 341.5 1119.7 341.6 1120.2 341.5 1120.7 343.1 1121.2 340.1 1121.7 342.3 1122.2 344.1 1122.7 339.3 1123.2 342.6 1123.7 342.3 1124.2 340.9 1124.7 343.8 1125.2 339.1 1125.7 340.2 1126.2 343.0 1126.7 343.6 1127.2 343.2 1127.7 340.5 1128.2 341.2 1128.7 340.0 1129.2 343.2 1129.7 343.8 1130.2 342.2 1130.7 339.5 1131.2 342.1 1131.7 343.3 1132.2 343.5 1132.7 341.3 1133.2 342.5 1133.7 342.7 1134.2 340.3 1134.7 342.4 1135.2 341.6 1135.7 341.4 1136.2 340.7 1136.7 341.0 1137.2 340.8 1137.7 342.2 1138.2 341.5 1138.7 341.7 1139.2 339.7 1139.7 342.4 1140.2 340.9 1140.7 339.0 1141.2 340.6 1141.7 339.6 1142.2 342.4 1142.7 339.0 1143.2 338.7 1143.7 340.2 1144.2 338.8 1144.7 341.6 1145.2 338.4 1145.7 338.5 1146.2 339.8 1146.7 339.8 1147.2 338.5 1147.7 341.8 1148.2 342.2 1148.7 339.8 1149.2 340.5 1149.7 337.9 1150.2 341.1 1150.7 336.3 1151.2 336.9 1151.7 338.1 1152.2 334.5 1152.7 336.4 1153.2 336.0 1153.7 333.9 1154.2 333.7 1154.7 333.1 1155.2 332.7 1155.7 332.5 1156.2 332.7 1156.7 333.1 1157.2 333.7 1157.7 334.9 1158.2 332.5 1158.7 335.8 1159.2 338.0 1159.7 339.2 1160.2 336.5 1160.7 338.6 1161.2 337.2 1161.7 339.8 1162.2 339.9 1162.7 342.9 1163.2 341.0 1163.7 341.8 1164.2 338.3 1164.7 341.2 1165.2 340.0 1165.7 341.3 1166.2 339.7 1166.7 339.8 1167.2 341.9 1167.7 340.7 1168.2 341.5 1168.7 342.7 1169.2 338.6 1169.7 339.3 1170.2 340.2 1170.7 338.7 1171.2 339.1 1171.7 343.1 1172.2 339.2 1172.7 341.3 1173.2 341.0 1173.7 341.5 1174.2 339.3 1174.7 340.2 1175.2 342.5 1175.7 339.5 1176.2 340.9 1176.7 342.6 1177.2 340.0 1177.7 339.2 1178.2 338.6 1178.7 344.1 1179.2 338.7 1179.7 339.8 1180.2 342.8 1180.7 339.3 1181.2 339.0 1181.7 342.9 1182.2 344.0 1182.7 344.1 1183.2 342.4 1183.7 341.7 1184.2 342.0 1184.7 342.8 1185.2 340.2 1185.7 342.5 1186.2 342.1 1186.7 338.9 1187.2 343.1 1187.7 341.8 1188.2 339.9 1188.7 342.8 1189.2 340.0 1189.7 341.1 1190.2 342.4 1190.7 340.8 1191.2 341.5 1191.7 343.5 1192.2 342.7 1192.7 340.8 1193.2 342.0 1193.7 341.5 1194.2 343.1 1194.7 338.7 1195.2 341.6 1195.7 343.1 1196.2 343.9 1196.7 339.4 1197.2 338.3 1197.7 343.1 1198.2 339.6 1198.7 339.7 1199.2 341.2 1199.7 341.7 1200.2 342.3 1200.7 340.1 1201.2 339.9 1201.7 343.0 1202.2 340.3 1202.7 338.0 1203.2 340.7 1203.7 340.1 1204.2 337.5 1204.7 338.8 1205.2 338.5 1205.7 341.1 1206.2 340.0 1206.7 340.9 1207.2 340.0 1207.7 339.5 1208.2 337.1 1208.7 333.7 1209.2 333.9 1209.7 333.0 1210.2 334.2 1210.7 332.2 1211.2 330.0 1211.7 327.6 1212.2 326.7 1212.7 326.1 1213.0 326.0 1213.2 326.0 1213.7 326.5 1214.2 327.4 1214.7 330.1 1215.2 331.1 1215.7 332.8 1216.2 332.3 1216.7 332.3 1217.2 334.7 1217.7 338.5 1218.2 335.8 1218.7 336.3 1219.2 339.3 1219.7 338.4 1220.2 337.2 1220.7 339.0 1221.2 341.3 1221.7 340.9 1222.2 339.5 1222.7 337.4 1223.2 341.5 1223.7 340.1 1224.2 338.3 1224.7 337.1 1225.2 337.6 1225.7 337.3 1226.2 339.4 1226.7 338.3 1227.2 340.6 1227.7 339.1 1228.2 339.5 1228.7 337.5 1229.2 337.3 1229.7 338.1 1230.2 337.9 1230.7 331.9 1231.2 334.9 1231.7 330.6 1232.2 332.2 1232.7 330.5 1233.2 329.7 1233.7 329.3 1234.0 329.2 1234.2 329.2 1234.7 329.6 1235.2 330.2 1235.7 328.7 1236.2 333.4 1236.7 335.2 1237.2 333.0 1237.7 336.4 1238.2 336.9 1238.7 335.8 1239.2 335.4 1239.7 336.7 1240.2 336.7 1240.7 339.4 1241.2 338.7 1241.7 339.8 1242.2 340.9 1242.7 340.2 1243.2 339.7 1243.7 338.2 1244.2 338.8 1244.7 336.7 1245.2 337.1 1245.7 334.9 1246.2 335.3 1246.7 336.5 1247.2 334.1 1247.7 337.7 1248.2 334.6 1248.7 335.2 1249.2 333.4 1249.7 334.6 1250.2 333.6 1250.7 333.4 1251.2 333.2 1251.7 333.2 1252.2 333.3 1252.7 333.4 1253.2 333.7 1253.7 331.5 1254.2 332.7 1254.7 335.4 1255.2 335.1 1255.7 336.5 1256.2 336.6 1256.7 337.3 1257.2 336.8 1257.7 334.7 1258.2 337.7 1258.7 340.4 1259.2 339.3 1259.7 337.5 1260.2 338.2 1260.7 338.8 1261.2 338.3 1261.7 337.5 1262.2 342.4 1262.7 342.1 1263.2 338.9 1263.7 341.6 1264.2 338.5 1264.7 338.9 1265.2 340.8 1265.7 342.4 1266.2 338.4 1266.7 343.3 1267.2 339.5 1267.7 339.4 1268.2 343.4 1268.7 339.6 1269.2 339.9 1269.7 343.9 1270.2 339.4 1270.7 339.8 1271.2 340.2 1271.7 341.1 1272.2 341.1 1272.7 340.1 1273.2 341.4 1273.7 340.0 1274.2 341.5 1274.7 342.1 1275.2 343.5 1275.7 339.1 1276.2 340.5 1276.7 341.9 1277.2 343.9 1277.7 339.2 1278.2 342.4 1278.7 341.4 1279.2 341.4 1279.7 339.0 1280.2 341.0 1280.7 340.4 1281.2 341.4 1281.7 340.4 1282.2 343.8 1282.7 343.2 1283.2 344.0 1283.7 340.6 1284.2 342.0 1284.7 342.4 1285.2 339.4 1285.7 339.8 1286.2 341.4 1286.7 341.7 1287.2 339.5 1287.7 341.3 1288.2 339.2 1288.7 339.7 1289.2 343.1 1289.7 342.7 1290.2 343.8 1290.7 343.2 1291.2 343.1 1291.7 342.3 1292.2 339.6 1292.7 343.0 1293.2 339.8 1293.7 342.9 1294.2 344.5 1294.7 343.8 1295.2 344.1 1295.7 340.9 1296.2 342.0 1296.7 341.9 1297.2 342.5 1297.7 344.6 1298.2 339.5 1298.7 341.2 1299.2 341.8 1299.7 342.3 1300.2 340.3 1300.7 341.9 1301.2 344.2 1301.7 340.5 1302.2 339.5 1302.7 341.9 1303.2 342.5 1303.7 344.4 1304.2 343.6 1304.7 341.9 1305.2 343.2 1305.7 340.4 1306.2 344.3 1306.7 344.6" stroke="#007d00"/>
<g fill="#007d00" stroke="none"><circle cx="503.6" cy="315.5" r="4.5"/><circle cx="524.7" cy="320.5" r="4.5"/><circle cx="617.9" cy="299.3" r="4.5"/><circle cx="637.7" cy="326.9" r="4.5"/><circle cx="713.8" cy="333.5" r="4.5"/><circle cx="816.6" cy="318.0" r="4.5"/><circle cx="842.0" cy="328.0" r="4.5"/><circle cx="1155.7" cy="332.5" r="4.5"/><circle cx="1213.0" cy="326.0" r="4.5"/><circle cx="1234.0" cy="329.2" r="4.5"/><circle cx="1251.7" cy="333.2" r="4.5"/><circle cx="368.8" cy="245.9" r="4.5"/><circle cx="382.0" cy="264.2" r="4.5"/><circle cx="471.9" cy="75.0" r="4.5"/><circle cx="486.6" cy="210.8" r="4.5"/><circle cx="886.0" cy="279.9" r="4.5"/><circle cx="910.5" cy="307.9" r="4.5"/><circle cx="992.2" cy="269.3" r="4.5"/><circle cx="1022.2" cy="304.2" r="4.5"/></g>
<path d="M170.7 701.6 171.2 703.2 171.7 702.5 172.2 699.4 172.7 699.8 173.2 703.1 173.7 698.2 174.2 702.8 174.7 702.6 175.2 700.8 175.7 699.9 176.2 699.8 176.7 699.6 177.2 700.7 177.7 701.0 178.2 701.3 178.7 703.8 179.2 702.7 179.7 701.7 180.2 703.8 180.7 699.5 181.2 699.2 181.7 701.7 182.2 698.5 182.7 698.5 183.2 701.2 183.7 700.9 184.2 703.4 184.7 701.8 185.2 701.2 185.7 701.1 186.2 699.7 186.7 698.4 187.2 699.4 187.7 702.2 188.2 699.5 188.7 700.4 189.2 698.4 189.7 703.0 190.2 699.3 190.7 699.9 191.2 703.3 191.7 701.3 192.2 703.2 192.7 702.0 193.2 702.6 193.7 698.9 194.2 701.5 194.7 701.3 195.2 703.3 195.7 700.5 196.2 701.8 196.7 698.8 197.2 700.7 197.7 700.3 198.2 699.3 198.7 703.1 199.2 700.6 199.7 704.0 200.2 701.8 200.7 701.9 201.2 702.1 201.7 702.3 202.2 699.4 202.7 701.0 203.2 699.9 203.7 700.8 204.2 699.1 204.7 704.0 205.2 699.8 205.7 702.4 206.2 700.3 206.7 703.5 207.2 702.3 207.7 699.4 208.2 703.4 208.7 703.9 209.2 703.7 209.7 701.8 210.2 699.5 210.7 699.7 211.2 703.9 211.7 701.8 212.2 699.7 212.7 703.6 213.2 702.3 213.7 701.9 214.2 700.8 214.7 701.0 215.2 700.1 215.7 698.9 216.2 703.6 216.7 701.4 217.2 701.8 217.7 700.6 218.2 703.0 218.7 698.9 219.2 700.9 219.7 698.9 220.2 699.5 220.7 704.2 221.2 702.5 221.7 701.2 222.2 701.7 222.7 703.7 223.2 700.8 223.7 702.1 224.2 702.7 224.7 700.8 225.2 701.8 225.7 703.1 226.2 704.0 226.7 699.7 227.2 704.1 227.7 698.9 228.2 703.1 228.7 703.4 229.2 699.7 229.7 701.3 230.2 703.5 230.7 699.0 231.2 702.4 231.7 703.4 232.2 701.8 232.7 703.0 233.2 700.2 233.7 700.1 234.2 701.0 234.7 700.0 235.2 700.9 235.7 704.3 236.2 702.2 236.7 700.9 237.2 700.5 237.7 704.3 238.2 701.5 238.7 704.5 239.2 701.9 239.7 702.0 240.2 704.1 240.7 703.2 241.2 702.3 241.7 701.5 242.2 704.0 242.7 701.4 243.2 704.2 243.7 699.5 244.2 701.5 244.7 702.0 245.2 704.4 245.7 700.5 246.2 703.6 246.7 702.9 247.2 703.1 247.7 702.7 248.2 704.6 248.7 701.0 249.2 701.4 249.7 700.3 250.2 699.4 250.7 700.4 251.2 704.3 251.7 703.9 252.2 699.8 252.7 702.6 253.2 701.9 253.7 702.5 254.2 702.9 254.7 700.9 255.2 704.6 255.7 701.8 256.2 702.7 256.7 702.8 257.2 700.2 257.7 699.6 258.2 701.5 258.7 703.5 259.2 703.8 259.7 703.3 260.2 699.8 260.7 704.3 261.2 703.7 261.7 704.1 262.2 702.1 262.7 704.3 263.2 699.5 263.7 699.4 264.2 699.3 264.7 700.6 265.2 700.6 265.7 700.2 266.2 702.3 266.7 699.3 267.2 702.4 267.7 700.0 268.2 702.8 268.7 699.1 269.2 700.6 269.7 704.0 270.2 701.6 270.7 702.9 271.2 701.7 271.7 701.0 272.2 698.1 272.7 699.6 273.2 695.9 273.7 699.4 274.2 699.6 274.7 698.6 275.0 694.0 275.2 695.6 275.7 695.9 276.2 695.4 276.7 699.1 277.2 700.8 277.7 698.8 278.2 702.4 278.7 702.5 279.2 699.1 279.7 702.9 280.2 703.8 280.7 700.1 281.2 702.3 281.7 702.7 282.2 702.6 282.7 699.8 283.2 703.0 283.7 702.9 284.2 704.0 284.7 703.9 285.2 701.2 285.7 703.5 286.2 704.3 286.7 704.5 287.2 700.4 287.7 699.6 288.2 703.1 288.7 700.7 289.2 702.7 289.7 704.8 290.2 701.7 290.7 701.0 291.2 702.1 291.7 703.3 292.2 700.2 292.7 701.7 293.2 700.4 293.7 703.3 294.2 704.3 294.7 701.7 295.2 701.7 295.7 702.7 296.2 700.9 296.7 701.1 297.2 701.5 297.7 702.2 298.2 700.1 298.7 703.9 299.2 702.9 299.7 701.4 300.2 700.1 300.7 704.0 301.2 700.5 301.7 700.5 302.2 700.5 302.7 700.2 303.2 704.8 303.7 701.3 304.2 701.5 304.7 704.4 305.2 703.3 305.7 700.8 306.2 702.2 306.7 704.7 307.2 701.9 307.7 703.8 308.2 700.4 308.7 703.9 309.2 704.2 309.7 704.5 310.2 703.6 310.7 701.9 311.2 700.2 311.7 702.8 312.2 704.1 312.7 700.9 313.2 701.4 313.7 702.9 314.2 704.1 314.7 704.9 315.2 700.6 315.7 700.9 316.2 704.4 316.7 703.5 317.2 704.0 317.7 705.5 318.2 705.2 318.7 704.7 319.2 704.3 319.7 702.2 320.2 703.5 320.7 701.0 321.2 704.2 321.7 704.2 322.2 704.0 322.7 702.5 323.2 702.1 323.7 702.3 324.2 700.2 324.7 704.7 325.2 703.0 325.7 702.2 326.2 703.1 326.7 704.1 327.2 702.2 327.7 704.7 328.2 705.2 328.7 702.2 329.2 700.8 329.7 704.3 330.2 705.6 330.7 700.9 331.2 704.1 331.7 704.7 332.2 705.2 332.7 700.8 333.2 700.6 333.7 705.6 334.2 700.8 334.7 701.1 335.2 703.3 335.7 702.6 336.2 704.3 336.7 701.2 337.2 705.3 337.7 701.4 338.2 704.5 338.7 700.5 339.2 702.8 339.7 700.4 340.2 701.9 340.7 701.9 341.2 704.2 341.7 702.7 342.2 700.5 342.7 705.8 343.2 705.2 343.7 705.3 344.2 701.6 344.7 702.4 345.2 701.5 345.7 700.9 346.2 700.4 346.7 703.0 347.2 700.9 347.7 701.2 348.2 705.1 348.7 703.0 349.2 701.3 349.7 704.0 350.2 701.7 350.7 703.2 351.2 701.8 351.7 703.2 352.0 707.5 352.5 702.5 353.0 702.8 353.5 704.5 354.0 707.0 354.5 702.6 355.0 703.5 355.5 702.7 356.0 703.3 356.5 701.8 357.0 704.5 357.5 701.8 358.0 705.0 358.5 701.3 359.0 701.5 359.5 700.1 360.0 702.3 360.5 700.9 361.0 699.6 361.5 698.3 362.0 696.5 362.5 695.2 363.0 693.9 363.5 690.7 364.0 687.7 364.5 684.7 364.9 672.6 365.3 660.0 365.7 630.3 366.1 614.8 366.5 599.9 367.0 594.3 367.5 587.8 368.1 585.5 368.6 583.5 369.2 580.8 369.8 585.7 370.3 590.3 370.8 609.8 371.4 620.3 372.0 629.8 372.5 636.7 373.0 643.5 373.5 650.2 374.0 654.1 374.6 658.9 375.1 662.7 375.6 659.9 376.1 656.7 376.5 652.9 377.0 649.9 377.5 645.5 378.0 641.1 378.5 636.3 379.0 632.2 379.5 627.7 380.0 622.4 380.5 618.3 380.9 615.8 381.4 613.7 381.9 617.9 382.5 621.9 383.0 631.1 383.5 639.8 384.0 665.2 384.5 687.9 385.0 691.4 385.5 695.0 386.0 697.1 386.5 698.8 387.0 700.7 387.5 701.2 388.0 702.6 388.5 702.7 389.0 704.2 389.5 702.8 390.0 702.3 390.5 704.0 391.0 703.7 391.5 703.1 392.0 704.0 392.5 705.8 393.0 706.9 393.5 704.9 394.0 705.6 394.2 703.7 394.7 705.1 395.2 703.2 395.7 704.1 396.2 705.2 396.7 704.4 397.2 704.2 397.7 702.9 398.2 703.7 398.7 702.8 399.2 704.8 399.7 702.7 400.2 703.2 400.7 704.9 401.2 703.4 401.7 702.5 402.2 705.3 402.7 702.8 403.2 705.4 403.7 705.0 404.2 703.1 404.7 704.6 405.2 700.8 405.7 702.8 406.2 705.5 406.7 703.9 407.2 703.8 407.7 704.4 408.2 704.5 408.7 703.9 409.2 703.0 409.7 701.7 410.2 702.3 410.7 702.3 411.2 703.1 411.7 706.3 412.2 702.7 412.7 703.2 413.2 702.8 413.7 704.0 414.2 706.0 414.7 705.7 415.2 702.8 415.7 702.2 416.2 705.7 416.7 703.5 417.2 704.6 417.7 701.1 418.2 705.6 418.7 702.5 419.2 703.5 419.7 701.9 420.2 703.1 420.7 705.4 421.2 705.4 421.7 703.4 422.2 705.1 422.7 703.3 423.2 702.9 423.7 703.9 424.2 701.9 424.7 702.6 425.2 704.8 425.7 705.1 426.2 701.1 426.7 704.9 427.2 705.4 427.7 703.3 428.2 701.2 428.7 704.7 429.2 702.2 429.7 704.5 430.2 703.0 430.7 704.4 431.2 702.3 431.7 703.6 432.2 703.8 432.7 704.4 433.2 702.0 433.7 706.3 434.2 702.5 434.7 702.6 435.2 702.4 435.7 701.3 436.2 703.3 436.7 705.3 437.2 704.9 437.7 702.0 438.2 701.7 438.7 702.8 439.2 705.3 439.7 703.7 440.0 706.5 440.5 701.5 441.0 701.8 441.5 703.5 442.0 706.0 442.5 701.6 443.0 702.5 443.5 701.7 444.0 702.3 444.5 700.8 445.0 703.6 445.5 700.8 446.0 704.6 446.5 700.6 447.0 700.9 447.5 699.5 448.0 702.3 448.5 700.5 449.0 700.8 449.5 701.3 450.0 698.1 450.5 698.8 451.0 699.2 451.5 697.4 452.0 697.6 452.5 696.7 453.0 698.5 453.5 697.0 454.0 697.9 454.5 694.8 455.0 695.0 455.5 696.4 456.0 693.2 456.5 693.0 457.0 693.9 457.5 692.7 458.0 691.7 458.5 689.5 459.0 689.8 459.5 687.6 460.0 687.1 460.5 686.3 461.0 685.2 461.5 683.3 462.0 682.2 462.5 680.2 463.0 679.1 463.5 677.7 464.0 675.7 464.5 673.7 465.0 671.6 465.5 669.5 466.0 667.0 466.5 665.2 466.9 658.7 467.4 651.4 467.8 645.3 468.2 619.9 468.4 590.0 468.5 499.9 469.0 420.1 469.5 384.8 469.9 375.2 470.3 364.9 470.8 358.3 471.3 351.5 471.8 357.1 472.3 361.8 472.8 370.0 473.2 385.3 473.6 400.2 474.0 480.3 474.5 510.1 475.0 516.4 475.5 522.4 476.0 528.6 476.5 535.1 477.0 547.5 477.5 559.9 478.0 580.0 478.5 600.2 479.0 614.1 479.5 627.5 480.0 622.7 480.5 618.1 481.0 612.9 481.5 607.8 482.0 602.2 482.5 596.3 483.0 590.6 483.5 585.0 484.0 579.5 484.5 573.3 485.0 568.0 485.5 562.2 486.1 557.5 486.6 553.8 487.2 549.6 487.7 554.9 488.2 559.7 488.8 600.3 489.0 649.7 489.3 684.9 489.9 691.8 490.5 698.3 491.0 699.6 491.5 700.1 492.0 701.7 492.5 702.2 493.0 703.2 493.5 702.7 494.0 704.7 494.5 702.6 495.0 705.5 495.2 703.5 495.7 700.4 496.2 703.0 496.7 700.0 497.2 700.5 497.7 701.9 498.2 698.5 498.7 696.2 499.2 694.4 499.7 690.8 500.2 688.6 500.7 685.5 501.2 681.0 501.7 676.3 502.2 675.0 502.7 672.0 503.2 670.6 503.7 671.2 504.2 673.6 504.7 677.2 505.2 681.2 505.7 682.8 506.2 686.7 506.7 694.1 507.2 694.3 507.7 698.2 508.2 695.7 508.7 699.8 509.2 702.2 509.7 702.8 510.2 698.5 510.7 701.7 511.2 701.1 511.7 703.5 512.2 699.8 512.7 701.0 513.2 704.1 513.7 702.2 514.2 702.1 514.7 705.0 515.2 701.3 515.7 699.7 516.2 701.5 516.7 700.0 517.2 699.3 517.7 701.7 518.2 703.3 518.7 700.5 519.2 699.9 519.7 696.8 520.2 696.5 520.7 695.4 521.2 691.9 521.7 690.2 522.2 685.5 522.7 682.1 523.2 679.4 523.7 677.8 524.0 677.5 524.2 677.6 524.7 679.0 525.2 681.6 525.7 685.0 526.2 689.3 526.7 690.5 527.2 692.5 527.7 695.3 528.2 698.1 528.7 700.3 529.2 700.7 529.7 699.0 530.2 703.6 530.7 704.7 531.2 700.4 531.7 701.5 532.2 701.3 532.7 705.3 533.2 705.8 533.7 701.0 534.2 702.8 534.7 702.1 535.2 703.7 535.7 706.3 536.2 701.7 536.7 702.3 537.2 704.1 537.7 704.4 538.2 705.7 538.7 704.0 539.2 702.4 539.7 703.6 540.2 707.1 540.7 705.9 541.2 702.4 541.7 706.3 542.2 703.5 542.7 706.2 543.2 701.9 543.7 706.7 544.2 702.8 544.7 704.4 545.2 705.6 545.7 704.8 546.2 702.9 546.7 702.7 547.2 703.6 547.7 702.3 548.2 703.2 548.7 702.7 549.2 704.6 549.7 704.0 550.2 705.3 550.7 703.6 551.2 702.3 551.7 703.9 552.2 706.3 552.7 703.5 553.2 704.4 553.7 706.4 554.2 704.4 554.7 707.1 555.2 707.3 555.7 703.9 556.2 706.3 556.7 703.6 557.2 703.0 557.7 704.7 558.2 705.6 558.7 707.5 559.2 703.1 559.7 706.2 560.2 704.9 560.7 703.0 561.2 707.7 561.7 706.2 562.2 703.0 562.7 707.3 563.2 702.9 563.7 702.8 564.2 704.1 564.7 707.5 565.2 702.5 565.7 707.4 566.2 705.7 566.7 702.7 567.2 705.5 567.7 704.9 568.2 705.5 568.7 706.4 569.2 706.1 569.7 707.9 570.2 703.2 570.7 706.9 571.2 704.6 571.7 706.7 572.2 707.3 572.7 707.9 573.2 703.8 573.7 704.9 574.2 707.6 574.7 707.6 575.2 704.4 575.7 707.6 576.2 704.6 576.7 704.4 577.2 706.6 577.7 705.0 578.2 704.9 578.7 704.5 579.2 704.8 579.7 703.1 580.2 702.7 580.7 706.6 581.2 705.5 581.7 706.1 582.2 706.8 582.7 703.6 583.2 703.6 583.7 703.9 584.2 704.0 584.7 706.6 585.2 704.4 585.7 704.1 586.2 705.9 586.7 703.4 587.2 702.9 587.7 706.2 588.2 706.5 588.7 703.9 589.2 705.8 589.7 702.5 590.2 704.5 590.7 705.5 591.2 703.7 591.7 704.2 592.2 705.6 592.7 705.5 593.2 703.0 593.7 706.1 594.2 702.6 594.7 707.6 595.2 703.2 595.7 703.5 596.2 703.2 596.7 707.6 597.2 703.6 597.7 705.4 598.2 707.5 598.7 707.3 599.2 702.1 599.7 704.8 600.2 705.2 600.7 705.7 601.2 703.6 601.7 703.5 602.2 701.6 602.7 701.7 603.2 704.6 603.7 701.8 604.2 702.4 604.7 703.1 605.2 701.5 605.7 701.2 606.2 706.0 606.7 703.1 607.2 701.7 607.7 704.3 608.2 700.2 608.7 701.2 609.2 705.0 609.7 704.2 610.2 702.4 610.7 698.8 611.2 699.4 611.7 696.9 612.2 696.8 612.7 694.3 613.2 692.9 613.7 693.3 614.2 687.2 614.7 683.7 615.2 683.4 615.7 675.0 616.2 669.3 616.7 661.9 617.2 658.6 617.7 653.9 618.2 651.2 618.5 650.7 618.7 650.9 619.2 653.2 619.7 657.5 620.2 665.5 620.7 670.7 621.2 675.5 621.7 680.1 622.2 681.9 622.7 690.7 623.2 689.3 623.7 692.2 624.2 697.3 624.7 699.5 625.2 700.5 625.7 699.5 626.2 698.6 626.7 698.3 627.2 703.2 627.7 704.2 628.2 700.3 628.7 703.9 629.2 701.4 629.7 700.8 630.2 701.8 630.7 698.9 631.2 701.0 631.7 699.1 632.2 701.3 632.7 699.3 633.2 700.2 633.7 699.0 634.2 694.1 634.7 692.0 635.2 693.7 635.7 689.3 636.2 687.5 636.7 686.3 637.2 685.9 637.7 686.4 638.2 687.7 638.7 689.5 639.2 691.6 639.7 693.4 640.2 698.2 640.7 700.0 641.2 696.8 641.7 698.2 642.2 700.7 642.7 703.9 643.2 703.3 643.7 704.4 644.2 703.9 644.7 702.2 645.2 705.8 645.7 701.5 646.2 705.5 646.7 702.8 647.2 704.4 647.7 707.4 648.2 705.0 648.7 702.4 649.2 704.5 649.7 705.9 650.2 702.6 650.7 703.7 651.2 702.5 651.7 705.4 652.2 704.6 652.7 705.3 653.2 704.2 653.7 706.2 654.2 703.6 654.7 707.7 655.2 708.0 655.7 705.4 656.2 705.3 656.7 707.5 657.2 704.4 657.7 707.2 658.2 704.4 658.7 706.8 659.2 704.7 659.7 706.2 660.2 708.0 660.7 703.2 661.2 707.4 661.7 705.9 662.2 705.0 662.7 704.9 663.2 703.3 663.7 704.4 664.2 706.4 664.7 703.5 665.2 706.7 665.7 708.4 666.2 708.5 666.7 708.0 667.2 707.5 667.7 704.0 668.2 708.5 668.7 704.2 669.2 707.9 669.7 708.0 670.2 706.5 670.7 706.0 671.2 704.2 671.7 706.0 672.2 704.7 672.7 703.8 673.2 703.8 673.7 707.6 674.2 708.3 674.7 703.9 675.2 703.2 675.7 704.6 676.2 703.9 676.7 704.2 677.2 706.4 677.7 705.5 678.2 705.6 678.7 704.3 679.2 706.9 679.7 704.8 680.2 705.4 680.7 705.8 681.2 708.2 681.7 704.6 682.2 707.2 682.7 704.9 683.2 708.2 683.7 705.4 684.2 706.0 684.7 708.1 685.2 706.9 685.7 703.7 686.2 703.9 686.7 708.7 687.2 703.3 687.7 704.8 688.2 708.5 688.7 703.2 689.2 704.1 689.7 704.3 690.2 703.6 690.7 705.8 691.2 706.5 691.7 704.9 692.2 703.7 692.7 707.7 693.2 707.6 693.7 706.3 694.2 703.9 694.7 706.1 695.2 706.6 695.7 705.5 696.2 707.9 696.7 705.2 697.2 705.9 697.7 703.7 698.2 706.2 698.7 707.3 699.2 707.1 699.7 704.4 700.2 708.5 700.7 706.9 701.2 705.3 701.7 705.2 702.2 707.2 702.7 703.8 703.2 706.3 703.7 706.7 704.2 705.5 704.7 707.5 705.2 705.1 705.7 705.0 706.2 703.9 706.7 707.3 707.2 703.7 707.7 705.6 708.2 703.6 708.7 706.1 709.2 705.6 709.7 699.8 710.2 704.4 710.7 701.2 711.2 697.1 711.7 698.2 712.2 697.0 712.7 695.9 713.2 695.1 713.7 694.7 714.2 694.9 714.7 695.5 715.2 696.6 715.7 700.2 716.2 698.0 716.7 700.5 717.2 698.4 717.7 701.4 718.2 705.4 718.7 701.3 719.2 706.0 719.7 705.2 720.2 703.5 720.7 706.4 721.2 703.8 721.7 707.3 722.2 702.9 722.7 703.2 723.2 706.8 723.7 705.2 724.2 703.5 724.7 705.6 725.2 704.4 725.7 705.9 726.2 707.0 726.7 707.7 727.2 703.2 727.7 706.2 728.2 708.4 728.7 705.5 729.2 707.3 729.7 703.5 730.2 707.9 730.7 706.3 731.2 708.0 731.7 707.4 732.2 707.9 732.7 703.4 733.2 707.0 733.7 704.2 734.2 704.5 734.7 704.9 735.2 706.4 735.7 706.6 736.2 708.3 736.7 703.1 737.2 704.2 737.7 705.1 738.2 707.7 738.7 706.2 739.2 706.0 739.7 707.3 740.2 706.8 740.7 704.7 741.2 703.6 741.7 705.7 742.2 708.0 742.7 706.4 743.2 703.4 743.7 705.6 744.2 705.3 744.7 706.4 745.2 706.4 745.7 708.4 746.2 705.0 746.7 705.4 747.2 706.5 747.7 708.1 748.2 707.1 748.7 705.7 749.2 707.7 749.7 705.8 750.2 708.5 750.7 704.7 751.2 703.8 751.7 707.7 752.2 704.8 752.7 707.8 753.2 706.5 753.7 705.9 754.2 703.6 754.7 707.5 755.2 703.4 755.7 708.5 756.2 708.0 756.7 704.8 757.2 703.8 757.7 708.0 758.2 705.8 758.7 703.8 759.2 705.9 759.7 704.4 760.2 705.3 760.7 706.6 761.2 708.2 761.7 707.5 762.2 703.9 762.7 705.7 763.2 705.8 763.7 708.6 764.2 703.5 764.7 705.9 765.2 708.1 765.7 705.2 766.2 704.5 766.7 706.1 767.2 704.8 767.7 708.2 768.2 703.4 768.7 704.1 769.2 703.4 769.7 706.9 770.2 704.6 770.7 708.0 771.2 707.9 771.7 708.1 772.2 704.3 772.7 702.9 773.2 705.0 773.7 708.2 774.2 707.1 774.7 703.1 775.2 706.7 775.7 707.9 776.2 708.1 776.7 706.7 777.2 707.5 777.7 707.3 778.2 704.5 778.7 703.0 779.2 706.4 779.7 703.0 780.2 704.2 780.7 707.4 781.2 704.7 781.7 704.2 782.2 706.1 782.7 701.9 783.2 705.4 783.7 704.3 784.2 700.7 784.7 699.9 785.2 698.4 785.7 702.6 786.2 698.6 786.7 697.9 787.2 703.3 787.7 702.3 788.2 703.2 788.7 704.1 789.2 700.7 789.7 701.4 790.2 704.1 790.7 701.8 791.2 704.6 791.7 706.0 792.2 705.7 792.7 705.6 793.2 702.4 793.7 703.6 794.2 707.3 794.7 703.0 795.2 705.3 795.7 702.6 796.2 707.5 796.7 703.2 797.2 704.6 797.7 705.3 798.2 706.3 798.7 707.5 799.2 706.3 799.7 704.1 800.2 702.5 800.7 706.0 801.2 707.5 801.7 702.1 802.2 706.3 802.7 702.9 803.2 704.4 803.7 704.6 804.2 705.1 804.7 707.1 805.2 705.3 805.7 703.5 806.2 705.1 806.7 703.6 807.2 703.1 807.7 702.5 808.2 702.9 808.7 701.3 809.2 700.6 809.7 699.5 810.2 700.3 810.7 698.6 811.2 700.4 811.7 699.1 812.2 694.7 812.7 694.4 813.2 693.9 813.7 688.6 814.2 687.3 814.7 684.3 815.2 682.4 815.7 680.7 816.2 679.6 816.6 679.3 817.2 679.9 817.7 681.3 818.2 684.0 818.7 687.5 819.2 686.8 819.7 691.3 820.2 691.0 820.7 694.4 821.2 697.1 821.7 695.9 822.2 696.4 822.7 701.5 823.2 702.4 823.7 702.3 824.2 700.9 824.7 703.2 825.2 700.4 825.7 703.9 826.2 703.6 826.7 704.0 827.2 703.2 827.7 702.0 828.2 704.9 828.7 703.5 829.2 705.1 829.7 703.0 830.2 701.5 830.7 704.0 831.2 704.4 831.7 706.0 832.2 705.8 832.7 701.0 833.2 704.9 833.7 701.8 834.2 704.0 834.7 702.0 835.2 701.2 835.7 701.7 836.2 701.3 836.7 701.4 837.2 700.2 837.7 699.4 838.2 696.5 838.7 696.8 839.2 693.4 839.7 693.3 840.2 691.0 840.7 689.9 841.2 688.8 841.7 688.2 842.0 688.1 842.2 688.2 842.7 688.7 843.2 689.7 843.7 693.2 844.2 691.7 844.7 691.9 845.2 696.3 845.7 694.9 846.2 700.5 846.7 697.3 847.2 699.6 847.7 701.2 848.2 699.8 848.7 701.4 849.2 701.6 849.7 704.4 850.2 706.3 850.7 703.0 851.2 705.6 851.7 702.1 852.2 704.7 852.7 704.0 853.2 703.2 853.7 706.3 854.2 706.0 854.7 702.6 855.2 703.5 855.7 706.5 856.2 707.5 856.7 705.4 857.2 706.9 857.7 707.6 858.2 706.3 858.7 705.8 859.2 703.4 859.7 704.3 860.2 705.7 860.7 707.4 861.2 703.9 861.7 704.5 862.2 702.4 862.7 706.2 863.2 704.8 863.7 706.8 864.2 703.6 864.7 706.0 865.2 706.1 865.7 705.0 866.2 703.4 866.7 704.6 867.2 706.6 867.7 703.5 868.0 707.8 868.5 703.1 869.0 703.3 869.5 704.7 870.0 707.0 870.5 702.7 871.0 703.5 871.5 702.6 872.0 703.0 872.5 701.5 873.0 704.0 873.5 701.4 874.0 704.0 874.5 700.6 875.0 700.5 875.5 699.1 876.0 700.9 876.5 699.2 877.0 699.0 877.5 697.5 878.0 695.5 878.5 694.0 879.0 692.5 879.5 690.7 880.0 687.5 880.4 684.2 880.8 681.4 881.3 678.0 881.7 672.3 882.2 665.8 882.6 659.9 883.2 654.3 883.7 647.8 884.3 641.9 884.8 639.6 885.2 636.8 885.6 634.0 886.1 631.0 886.5 633.6 887.0 636.8 887.5 639.1 887.9 642.0 888.4 647.5 889.0 652.8 889.5 657.8 890.0 662.9 890.5 667.1 891.0 672.1 891.5 674.0 892.0 675.3 892.5 677.3 893.0 679.2 893.5 681.4 894.0 681.1 894.5 683.6 895.0 684.7 895.5 683.1 896.0 686.2 896.5 685.4 897.0 686.8 897.5 686.4 898.0 687.9 898.5 686.4 899.0 689.1 899.5 687.8 900.0 688.8 900.5 690.6 901.0 687.2 901.5 687.8 902.0 688.8 902.5 687.7 903.0 687.9 903.5 686.3 904.0 685.2 904.5 683.6 905.0 682.2 905.5 681.1 906.0 679.6 906.5 678.2 907.0 677.0 907.5 675.4 908.0 673.7 908.5 671.6 909.0 669.9 909.5 669.1 910.1 667.1 910.6 665.4 911.2 665.0 911.7 665.5 912.1 665.6 912.5 666.8 913.0 668.0 913.4 670.9 913.9 673.2 914.3 676.2 914.9 681.2 915.5 685.7 916.0 689.4 916.5 692.7 917.0 695.6 917.5 697.7 918.0 697.9 918.5 699.4 919.0 701.2 919.5 702.8 920.0 703.9 920.5 702.7 921.0 704.5 921.5 703.1 922.0 703.9 922.5 703.9 923.0 706.0 923.5 703.8 924.0 706.6 924.5 707.5 925.0 705.9 925.5 705.5 926.0 703.4 926.5 705.2 927.0 706.0 927.2 707.1 927.7 704.2 928.2 703.3 928.7 702.3 929.2 703.0 929.7 707.0 930.2 705.8 930.7 707.8 931.2 702.6 931.7 704.3 932.2 706.7 932.7 705.9 933.2 702.6 933.7 704.5 934.2 705.8 934.7 706.1 935.2 704.7 935.7 703.3 936.2 707.6 936.7 704.8 937.2 706.2 937.7 705.2 938.2 702.6 938.7 703.5 939.2 702.5 939.7 703.2 940.2 703.3 940.7 704.5 941.2 703.9 941.7 704.2 942.2 706.7 942.7 702.2 943.2 702.7 943.7 706.6 944.2 705.1 944.7 704.5 945.2 703.5 945.7 705.1 946.2 703.2 946.7 706.8 947.2 706.6 947.7 703.7 948.2 702.0 948.7 706.8 949.2 703.4 949.7 705.4 950.2 706.4 950.7 705.9 951.2 706.1 951.7 703.8 952.2 705.5 952.7 703.0 953.2 701.6 953.7 702.4 954.2 701.2 954.7 703.3 955.2 703.4 955.7 699.4 956.2 699.6 956.7 701.0 957.2 701.8 957.7 704.9 958.2 705.2 958.7 705.7 959.2 704.7 959.7 704.7 960.2 702.6 960.7 703.4 961.2 701.5 961.7 706.2 962.2 703.2 962.7 702.2 963.2 703.5 963.7 703.6 964.2 705.9 964.7 701.9 965.2 703.2 965.7 706.9 966.2 706.7 966.7 705.5 967.2 705.1 967.7 703.2 968.2 706.9 968.7 706.2 969.2 704.8 969.7 702.9 970.2 703.2 970.7 704.1 971.2 703.8 971.7 702.3 972.2 704.3 972.7 704.5 973.2 703.6 973.7 704.1 974.2 703.8 974.7 704.1 975.2 705.5 975.7 704.8 976.2 703.1 976.7 706.4 977.2 704.9 977.7 704.5 978.0 706.8 978.5 702.1 979.0 702.3 979.5 703.7 980.0 706.0 980.5 701.7 981.0 702.5 981.5 701.6 982.0 702.0 982.5 700.5 983.0 702.9 983.5 700.6 984.0 702.2 984.5 699.2 985.0 698.8 985.5 697.4 986.0 698.4 986.5 696.9 987.0 694.8 987.5 692.6 988.0 689.9 988.5 687.8 988.9 682.6 989.4 677.1 989.8 671.7 990.3 661.7 990.8 652.1 991.3 645.0 991.8 638.3 992.3 630.8 992.9 627.1 993.4 623.7 994.0 619.6 994.6 623.2 995.1 627.1 995.7 631.3 996.2 637.6 996.7 643.9 997.2 649.8 997.7 656.3 998.3 661.8 998.8 668.0 999.3 670.6 999.9 673.2 1000.5 675.3 1001.0 678.9 1001.5 677.9 1002.0 680.2 1002.5 681.3 1003.0 680.3 1003.5 682.0 1004.0 683.1 1004.5 684.6 1005.0 683.5 1005.5 686.3 1006.0 687.3 1006.5 684.2 1007.0 688.0 1007.5 686.1 1008.0 687.3 1008.5 687.0 1009.0 688.5 1009.5 686.3 1010.0 689.3 1010.5 687.4 1011.0 688.3 1011.5 690.7 1012.0 686.5 1012.5 688.5 1013.0 690.3 1013.5 689.4 1014.0 690.1 1014.5 688.4 1015.0 688.4 1015.5 686.9 1016.0 685.1 1016.4 683.6 1016.8 681.7 1017.3 679.9 1017.8 676.6 1018.3 673.5 1018.8 670.3 1019.4 667.5 1020.0 665.2 1020.5 664.7 1021.1 662.7 1021.6 663.7 1022.1 664.0 1022.6 665.4 1023.1 667.8 1023.5 670.4 1024.0 673.0 1024.4 676.6 1024.9 679.5 1025.3 683.2 1025.8 686.5 1026.2 689.3 1026.7 693.0 1027.2 694.7 1027.6 695.9 1028.1 698.1 1028.5 699.1 1029.0 700.2 1029.5 703.0 1030.0 702.7 1030.5 703.8 1031.0 702.6 1031.5 704.4 1032.0 703.0 1032.5 703.8 1033.0 703.5 1033.5 705.6 1034.0 703.3 1034.5 706.1 1035.0 707.0 1035.5 705.3 1036.0 704.8 1036.5 702.6 1037.0 704.5 1037.2 706.8 1037.7 701.9 1038.2 702.6 1038.7 705.2 1039.2 704.7 1039.7 703.0 1040.2 706.6 1040.7 703.7 1041.2 704.7 1041.7 701.8 1042.2 706.3 1042.7 701.8 1043.2 703.4 1043.7 706.1 1044.2 706.3 1044.7 705.9 1045.2 705.3 1045.7 701.7 1046.2 700.3 1046.7 702.2 1047.2 699.6 1047.7 704.1 1048.2 698.2 1048.7 699.3 1049.2 698.1 1049.7 696.6 1050.2 699.1 1050.4 696.7 1050.7 701.4 1051.2 700.5 1051.7 699.2 1052.2 702.5 1052.7 702.8 1053.2 700.8 1053.7 704.3 1054.2 705.2 1054.7 703.9 1055.2 702.7 1055.7 706.0 1056.2 706.5 1056.7 703.3 1057.2 702.0 1057.7 706.5 1058.2 705.4 1058.7 703.1 1059.2 705.0 1059.7 703.6 1060.2 707.1 1060.7 703.9 1061.2 703.1 1061.7 702.3 1062.2 704.0 1062.7 707.6 1063.2 703.3 1063.7 704.7 1064.2 707.6 1064.7 702.2 1065.2 703.8 1065.7 706.8 1066.2 702.7 1066.7 707.4 1067.2 706.9 1067.7 703.1 1068.2 705.6 1068.7 705.4 1069.2 706.2 1069.7 704.0 1070.2 704.5 1070.7 703.7 1071.2 704.0 1071.7 703.3 1072.2 707.4 1072.7 707.3 1073.2 704.4 1073.7 706.2 1074.2 705.1 1074.7 703.9 1075.2 704.3 1075.7 707.7 1076.2 704.1 1076.7 705.4 1077.2 707.4 1077.7 703.7 1078.2 706.4 1078.7 702.3 1079.2 705.5 1079.7 705.7 1080.2 705.5 1080.7 705.9 1081.2 703.9 1081.7 705.0 1082.2 700.7 1082.7 701.7 1083.2 699.8 1083.4 699.1 1083.7 701.1 1084.2 702.9 1084.7 703.6 1085.2 699.8 1085.7 705.5 1086.2 702.0 1086.7 702.7 1087.2 706.1 1087.7 706.7 1088.2 706.1 1088.7 704.1 1089.2 705.0 1089.7 707.2 1090.2 704.6 1090.7 707.2 1091.2 707.1 1091.7 705.4 1092.2 707.9 1092.7 705.0 1093.2 707.1 1093.7 706.5 1094.2 704.8 1094.7 706.0 1095.2 706.4 1095.7 706.1 1096.2 703.7 1096.7 708.7 1097.2 708.6 1097.7 703.4 1098.2 708.5 1098.7 706.2 1099.2 703.9 1099.7 707.8 1100.2 705.7 1100.7 707.3 1101.2 707.9 1101.7 706.3 1102.2 703.6 1102.7 708.0 1103.2 707.3 1103.7 708.5 1104.2 704.9 1104.7 707.8 1105.2 708.3 1105.7 705.4 1106.2 705.8 1106.7 705.3 1107.2 703.5 1107.7 704.8 1108.2 705.4 1108.7 704.1 1109.2 707.8 1109.7 706.0 1110.2 706.8 1110.7 705.2 1111.2 705.6 1111.7 707.8 1112.2 706.2 1112.7 706.9 1113.2 706.0 1113.7 706.7 1114.2 708.6 1114.7 705.1 1115.2 706.5 1115.7 707.5 1116.2 704.1 1116.7 709.0 1117.2 706.4 1117.7 705.0 1118.2 707.9 1118.7 708.2 1119.2 707.1 1119.7 708.7 1120.2 704.1 1120.7 706.6 1121.2 707.8 1121.7 708.8 1122.2 707.2 1122.7 707.0 1123.2 705.8 1123.7 706.8 1124.2 706.7 1124.7 708.7 1125.2 708.3 1125.7 707.8 1126.2 708.8 1126.7 704.0 1127.2 707.9 1127.7 706.2 1128.2 707.8 1128.7 705.3 1129.2 706.2 1129.7 708.2 1130.2 703.8 1130.7 705.3 1131.2 706.4 1131.7 708.4 1132.2 705.1 1132.7 708.2 1133.2 705.0 1133.7 705.3 1134.2 706.7 1134.7 707.3 1135.2 708.5 1135.7 708.5 1136.2 705.0 1136.7 707.8 1137.2 707.1 1137.7 705.7 1138.2 707.9 1138.7 708.6 1139.2 706.2 1139.7 708.7 1140.2 704.3 1140.7 704.5 1141.2 707.8 1141.7 705.2 1142.2 706.8 1142.7 706.3 1143.2 704.3 1143.7 707.7 1144.2 707.6 1144.7 704.2 1145.2 704.9 1145.7 707.9 1146.2 708.5 1146.7 708.2 1147.2 706.1 1147.7 705.3 1148.2 705.7 1148.7 704.2 1149.2 705.9 1149.7 704.3 1150.2 703.9 1150.7 705.0 1151.2 703.1 1151.7 705.2 1152.2 706.3 1152.7 705.9 1153.2 707.4 1153.7 706.5 1154.2 704.7 1154.7 705.7 1155.2 702.5 1155.7 703.8 1156.2 700.2 1156.7 700.7 1157.2 702.3 1157.7 699.3 1158.2 697.9 1158.7 697.1 1159.2 696.7 1159.7 696.5 1160.2 696.7 1160.7 697.1 1161.2 697.8 1161.7 697.3 1162.2 702.1 1162.7 697.8 1163.2 700.2 1163.7 702.5 1164.2 703.9 1164.7 704.9 1165.2 703.2 1165.7 702.8 1166.2 706.6 1166.7 702.8 1167.2 702.7 1167.7 703.8 1168.2 705.4 1168.7 708.0 1169.2 706.9 1169.7 706.1 1170.2 705.9 1170.7 706.9 1171.2 706.6 1171.7 705.0 1172.2 703.6 1172.7 704.2 1173.2 707.5 1173.7 706.7 1174.2 707.6 1174.7 703.3 1175.2 708.1 1175.7 705.2 1176.2 708.2 1176.7 706.3 1177.2 706.0 1177.7 707.5 1178.2 706.3 1178.7 706.5 1179.2 703.5 1179.7 705.8 1180.2 704.2 1180.7 702.4 1181.2 702.4 1181.7 704.0 1182.2 702.3 1182.7 704.6 1183.2 700.3 1183.7 699.0 1184.2 703.7 1184.7 699.1 1185.2 699.4 1185.7 698.5 1186.2 697.9 1186.7 697.5 1187.2 697.3 1187.7 697.4 1188.2 697.9 1188.7 698.5 1189.2 699.6 1189.7 699.3 1190.2 699.4 1190.7 699.9 1191.2 701.4 1191.7 705.0 1192.2 700.8 1192.7 705.6 1193.2 705.3 1193.7 702.0 1194.2 702.5 1194.7 706.4 1195.2 706.2 1195.7 704.3 1196.2 707.5 1196.7 703.9 1197.2 705.2 1197.7 703.5 1198.2 706.4 1198.7 703.3 1199.2 703.8 1199.7 707.1 1200.2 705.6 1200.7 706.5 1201.2 706.9 1201.7 706.1 1202.2 703.8 1202.7 706.5 1203.2 703.2 1203.7 703.9 1204.2 704.8 1204.7 702.8 1205.2 702.5 1205.7 705.3 1206.2 705.5 1206.7 703.1 1207.2 702.7 1207.7 701.1 1208.2 702.1 1208.7 701.6 1209.2 702.5 1209.7 696.3 1210.2 699.8 1210.7 698.7 1211.2 693.5 1211.7 694.0 1212.2 691.1 1212.7 689.8 1213.2 688.8 1213.7 688.4 1214.2 688.6 1214.7 689.3 1215.2 690.5 1215.7 689.3 1216.2 695.5 1216.7 696.8 1217.2 694.2 1217.7 699.5 1218.2 700.5 1218.7 698.4 1219.2 701.5 1219.7 703.2 1220.2 701.9 1220.7 703.3 1221.2 706.3 1221.7 704.7 1222.2 704.1 1222.7 701.9 1223.2 702.3 1223.7 706.4 1224.2 705.8 1224.7 706.3 1225.2 704.8 1225.7 704.7 1226.2 704.3 1226.7 705.2 1227.2 702.6 1227.7 703.1 1228.2 702.5 1228.7 702.9 1229.2 699.7 1229.7 697.7 1230.2 697.0 1230.7 696.3 1231.2 698.9 1231.7 696.8 1232.2 695.7 1232.7 693.1 1233.2 692.2 1233.7 691.7 1234.0 691.6 1234.2 691.6 1234.7 692.0 1235.2 692.8 1235.7 692.0 1236.2 695.9 1236.7 696.3 1237.2 696.8 1237.7 697.4 1238.2 700.9 1238.7 699.6 1239.2 701.8 1239.7 700.6 1240.2 703.8 1240.7 701.9 1241.2 702.7 1241.7 705.3 1242.2 704.1 1242.7 704.2 1243.2 701.8 1243.7 704.4 1244.2 701.6 1244.7 704.6 1245.2 703.8 1245.7 702.0 1246.2 702.5 1246.7 700.5 1247.2 701.0 1247.7 697.1 1248.2 701.4 1248.7 699.9 1249.2 695.7 1249.7 695.9 1250.2 697.0 1250.7 696.7 1251.2 696.5 1251.7 696.5 1252.2 696.6 1252.7 696.8 1253.2 697.1 1253.7 697.4 1254.2 697.2 1254.7 696.2 1255.2 696.7 1255.7 700.4 1256.2 701.7 1256.7 703.0 1257.2 700.5 1257.7 704.3 1258.2 701.2 1258.7 705.2 1259.2 705.5 1259.7 701.6 1260.2 706.0 1260.7 705.4 1261.2 705.7 1261.7 706.7 1262.2 705.2 1262.7 705.3 1263.2 704.7 1263.7 707.6 1264.2 708.0 1264.7 703.9 1265.2 707.5 1265.7 704.8 1266.2 704.4 1266.7 704.5 1267.2 706.7 1267.7 705.1 1268.2 704.9 1268.7 704.2 1269.2 705.5 1269.7 708.1 1270.2 703.9 1270.7 706.5 1271.2 707.2 1271.7 704.1 1272.2 705.5 1272.7 709.0 1273.2 709.5 1273.7 708.7 1274.2 704.9 1274.7 708.3 1275.2 706.5 1275.7 705.0 1276.2 706.8 1276.7 709.2 1277.2 709.0 1277.7 706.3 1278.2 704.5 1278.7 709.2 1279.2 709.7 1279.7 707.0 1280.2 705.4 1280.7 707.2 1281.2 708.1 1281.7 706.9 1282.2 706.2 1282.7 705.6 1283.2 705.9 1283.7 704.5 1284.2 705.7 1284.7 709.6 1285.2 704.3 1285.7 708.4 1286.2 708.7 1286.7 706.6 1287.2 707.7 1287.7 705.6 1288.2 708.1 1288.7 708.3 1289.2 708.5 1289.7 707.1 1290.2 709.8 1290.7 709.2 1291.2 707.6 1291.7 708.2 1292.2 705.9 1292.7 709.7 1293.2 708.0 1293.7 709.4 1294.2 706.0 1294.7 709.9 1295.2 705.0 1295.7 707.4 1296.2 705.1 1296.7 705.5 1297.2 708.7 1297.7 704.8 1298.2 706.6 1298.7 705.6 1299.2 709.2 1299.7 705.0 1300.2 706.4 1300.7 709.3 1301.2 708.4 1301.7 708.4 1302.2 710.1 1302.7 704.7 1303.2 708.2 1303.7 708.7 1304.2 708.7 1304.7 708.5 1305.2 704.9 1305.7 705.0 1306.2 708.9 1306.7 708.0" stroke="#0000ff"/>
<g fill="#0000ff" stroke="none"><circle cx="503.3" cy="670.8" r="4.5"/><circle cx="524.0" cy="677.5" r="4.5"/><circle cx="618.5" cy="650.7" r="4.5"/><circle cx="637.2" cy="685.9" r="4.5"/><circle cx="713.8" cy="694.7" r="4.5"/><circle cx="816.6" cy="679.3" r="4.5"/><circle cx="842.0" cy="688.1" r="4.5"/><circle cx="1159.7" cy="696.5" r="4.5"/><circle cx="1187.2" cy="697.3" r="4.5"/><circle cx="1213.8" cy="688.4" r="4.5"/><circle cx="1234.0" cy="691.6" r="4.5"/><circle cx="1251.7" cy="696.5" r="4.5"/><circle cx="369.2" cy="580.8" r="4.5"/><circle cx="381.4" cy="613.7" r="4.5"/><circle cx="471.3" cy="351.5" r="4.5"/><circle cx="487.2" cy="549.6" r="4.5"/><circle cx="886.1" cy="631.0" r="4.5"/><circle cx="911.2" cy="665.0" r="4.5"/><circle cx="994.0" cy="619.6" r="4.5"/><circle cx="1021.1" cy="662.7" r="4.5"/></g>
<path d="M170.7 1115.9 171.2 1118.0 171.7 1118.6 172.2 1115.4 172.7 1116.1 173.2 1120.5 173.7 1115.7 174.2 1116.0 174.7 1120.6 175.2 1118.8 175.7 1117.4 176.2 1118.2 176.7 1119.1 177.2 1116.9 177.7 1116.1 178.2 1119.8 178.7 1119.1 179.2 1118.3 179.7 1120.0 180.2 1118.5 180.7 1120.9 181.2 1116.6 181.7 1118.6 182.2 1118.2 182.7 1117.5 183.2 1118.8 183.7 1116.8 184.2 1120.0 184.7 1120.4 185.2 1116.2 185.7 1118.2 186.2 1117.1 186.7 1116.0 187.2 1120.6 187.7 1118.0 188.2 1116.4 188.7 1119.4 189.2 1116.7 189.7 1120.7 190.2 1116.8 190.7 1115.8 191.2 1116.8 191.7 1117.6 192.2 1118.3 192.7 1120.8 193.2 1119.6 193.7 1117.6 194.2 1115.8 194.7 1116.6 195.2 1121.3 195.7 1118.3 196.2 1119.6 196.7 1116.1 197.2 1116.0 197.7 1120.5 198.2 1119.1 198.7 1117.5 199.2 1117.6 199.7 1116.3 200.2 1116.8 200.7 1116.0 201.2 1120.6 201.7 1118.5 202.2 1116.6 202.7 1120.0 203.2 1117.0 203.7 1116.3 204.2 1119.3 204.7 1120.9 205.2 1116.1 205.7 1120.5 206.2 1117.0 206.7 1116.5 207.2 1116.1 207.7 1117.6 208.2 1120.1 208.7 1118.8 209.2 1120.8 209.7 1117.2 210.2 1117.8 210.7 1117.5 211.2 1121.5 211.7 1121.3 212.2 1118.0 212.7 1118.5 213.2 1117.9 213.7 1120.3 214.2 1116.3 214.7 1116.5 215.2 1118.4 215.7 1117.5 216.2 1120.9 216.7 1120.3 217.2 1119.2 217.7 1119.9 218.2 1120.1 218.7 1120.6 219.2 1121.4 219.7 1117.1 220.2 1119.7 220.7 1117.0 221.2 1118.7 221.7 1120.7 222.2 1121.3 222.7 1120.5 223.2 1116.5 223.7 1118.3 224.2 1117.2 224.7 1121.9 225.2 1117.1 225.7 1117.7 226.2 1118.3 226.7 1116.7 227.2 1121.2 227.7 1119.9 228.2 1117.3 228.7 1119.2 229.2 1116.8 229.7 1119.8 230.2 1117.7 230.7 1116.6 231.2 1117.1 231.7 1119.5 232.2 1120.0 232.7 1118.2 233.2 1120.0 233.7 1118.4 234.2 1117.2 234.7 1118.2 235.2 1118.7 235.7 1121.6 236.2 1117.1 236.7 1117.0 237.2 1119.6 237.7 1121.9 238.2 1121.6 238.7 1120.4 239.2 1116.9 239.7 1121.0 240.2 1120.3 240.7 1117.3 241.2 1119.1 241.7 1116.8 242.2 1121.0 242.7 1120.5 243.2 1121.0 243.7 1120.8 244.2 1118.0 244.7 1120.9 245.2 1117.9 245.7 1117.3 246.2 1118.7 246.7 1119.3 247.2 1118.1 247.7 1119.9 248.2 1119.9 248.7 1117.8 249.2 1120.0 249.7 1118.5 250.2 1120.6 250.7 1118.1 251.2 1120.9 251.7 1118.8 252.2 1119.5 252.7 1120.2 253.2 1119.3 253.7 1117.8 254.2 1121.9 254.7 1116.9 255.2 1118.2 255.7 1119.4 256.2 1116.4 256.7 1117.1 257.2 1120.7 257.7 1120.5 258.2 1119.7 258.7 1121.1 259.2 1120.2 259.7 1117.6 260.2 1119.5 260.7 1117.7 261.2 1119.9 261.7 1117.7 262.2 1116.3 262.7 1120.2 263.2 1119.0 263.7 1119.1 264.2 1117.9 264.7 1118.9 265.2 1116.7 265.7 1117.1 266.2 1113.9 266.7 1116.2 267.2 1117.1 267.7 1115.8 268.2 1115.4 268.7 1112.4 269.2 1112.7 269.7 1105.3 270.2 1104.6 270.7 1093.6 271.2 1079.3 271.7 1063.3 272.2 1036.6 272.7 1004.1 273.2 969.9 273.7 931.7 274.2 902.9 274.7 889.1 275.2 895.2 275.7 918.9 276.2 953.1 276.7 990.4 277.2 1026.8 277.7 1051.5 278.2 1072.2 278.7 1087.7 279.2 1099.7 279.7 1108.7 280.2 1107.3 280.7 1114.9 281.2 1113.8 281.7 1112.5 282.2 1115.0 282.7 1114.4 283.2 1117.8 283.7 1117.3 284.2 1116.2 284.7 1116.4 285.2 1120.1 285.7 1119.8 286.2 1118.1 286.7 1118.2 287.2 1120.2 287.7 1121.6 288.2 1116.8 288.7 1117.4 289.2 1118.6 289.7 1119.6 290.2 1117.2 290.7 1117.2 291.2 1118.2 291.7 1119.2 292.2 1121.3 292.7 1120.6 293.2 1117.4 293.7 1117.6 294.2 1119.9 294.7 1122.3 295.2 1122.6 295.7 1119.6 296.2 1122.5 296.7 1122.8 297.2 1119.9 297.7 1121.9 298.2 1119.8 298.7 1118.6 299.2 1121.0 299.7 1118.3 300.2 1121.6 300.7 1122.4 301.2 1123.1 301.7 1120.5 302.2 1118.7 302.7 1123.1 303.2 1122.9 303.7 1123.5 304.2 1121.4 304.7 1121.9 305.2 1120.2 305.7 1119.2 306.2 1119.8 306.7 1122.3 307.2 1120.1 307.7 1122.1 308.2 1121.1 308.7 1120.8 309.2 1123.8 309.7 1119.3 310.2 1121.1 310.7 1119.3 311.2 1123.7 311.7 1121.2 312.2 1120.3 312.7 1119.4 313.2 1121.8 313.7 1120.7 314.2 1119.2 314.7 1118.7 315.2 1120.8 315.7 1121.9 316.2 1121.5 316.7 1123.7 317.2 1123.7 317.7 1123.9 318.2 1123.2 318.7 1121.4 319.2 1121.6 319.7 1120.9 320.2 1121.0 320.7 1119.0 321.2 1123.2 321.7 1120.2 322.2 1119.0 322.7 1121.4 323.2 1122.9 323.7 1121.3 324.2 1120.9 324.7 1122.6 325.2 1119.8 325.7 1119.0 326.2 1122.3 326.7 1121.9 327.2 1123.8 327.7 1121.3 328.2 1123.4 328.7 1119.1 329.2 1119.2 329.7 1122.4 330.2 1120.3 330.7 1119.4 331.2 1119.8 331.7 1121.2 332.2 1121.0 332.7 1122.2 333.2 1124.1 333.7 1121.2 334.2 1120.1 334.7 1122.4 335.2 1119.1 335.7 1121.3 336.2 1120.9 336.7 1121.3 337.2 1119.4 337.7 1122.3 338.2 1122.7 338.7 1123.4 339.2 1124.5 339.7 1121.2 340.2 1122.9 340.7 1121.7 341.2 1120.4 341.7 1124.2 342.2 1123.4 342.7 1124.5 343.2 1123.8 343.7 1124.4 344.2 1120.0 344.7 1119.3 345.2 1120.4 345.7 1121.6 346.2 1123.1 346.7 1121.7 347.2 1122.1 347.7 1123.5 348.2 1119.7 348.7 1123.1 349.2 1119.6 349.7 1120.7 350.2 1123.4 350.7 1123.1 351.2 1121.6 351.7 1121.0 352.2 1124.0 352.7 1120.9 353.2 1119.5 353.7 1120.7 354.2 1119.5 354.7 1123.9 355.2 1120.1 355.7 1124.8 356.2 1120.6 356.7 1121.1 357.2 1122.7 357.7 1121.1 358.2 1121.5 358.7 1120.0 359.2 1121.6 359.7 1119.6 360.2 1120.7 360.7 1124.5 361.2 1121.0 361.7 1121.0 362.2 1123.2 362.7 1124.4 363.2 1121.1 363.7 1121.6 364.2 1123.5 364.7 1123.9 365.2 1122.9 365.7 1120.5 366.2 1120.5 366.7 1123.7 367.2 1123.5 367.7 1124.5 368.2 1123.9 368.7 1121.9 369.2 1120.3 369.7 1124.5 370.2 1123.4 370.7 1122.8 371.2 1123.4 371.7 1121.7 372.2 1121.5 372.7 1122.8 373.2 1122.3 373.7 1123.5 374.2 1124.8 374.7 1124.3 375.2 1121.7 375.7 1121.7 376.2 1124.8 376.7 1121.8 377.2 1124.1 377.7 1120.1 378.2 1122.1 378.7 1122.5 379.2 1124.1 379.7 1124.5 380.2 1120.5 380.7 1123.1 381.2 1123.2 381.7 1120.5 382.2 1124.3 382.7 1122.7 383.2 1125.0 383.7 1120.7 384.2 1122.6 384.7 1121.5 385.2 1123.3 385.7 1123.1 386.2 1122.5 386.7 1121.5 387.2 1122.5 387.7 1121.8 388.2 1124.7 388.7 1122.3 389.2 1122.4 389.7 1121.2 390.2 1121.1 390.7 1125.1 391.2 1121.5 391.7 1124.6 392.2 1123.1 392.7 1125.2 393.2 1120.7 393.7 1125.0 394.2 1124.1 394.7 1122.9 395.2 1123.7 395.7 1123.8 396.2 1122.3 396.7 1123.3 397.2 1121.0 397.7 1119.9 398.2 1123.6 398.7 1122.4 399.2 1124.8 399.7 1121.3 400.2 1124.4 400.7 1125.3 401.2 1124.8 401.7 1125.2 402.2 1120.7 402.7 1120.7 403.2 1121.1 403.7 1121.8 404.2 1120.4 404.7 1120.6 405.2 1119.9 405.7 1125.0 406.2 1121.8 406.7 1123.3 407.2 1122.4 407.7 1124.0 408.2 1124.3 408.7 1122.0 409.2 1122.8 409.7 1120.4 410.2 1121.4 410.7 1121.1 411.2 1121.6 411.7 1121.6 412.2 1123.0 412.7 1121.7 413.2 1121.7 413.7 1124.5 414.2 1119.9 414.7 1119.9 415.2 1120.1 415.7 1124.7 416.2 1123.4 416.7 1123.9 417.2 1125.2 417.7 1121.0 418.2 1125.0 418.7 1121.2 419.2 1122.7 419.7 1123.6 420.2 1124.3 420.7 1121.2 421.2 1122.5 421.7 1120.0 422.2 1121.4 422.7 1125.3 423.2 1124.8 423.7 1123.0 424.2 1124.2 424.7 1124.8 425.2 1121.6 425.7 1125.2 426.2 1122.2 426.7 1120.6 427.2 1122.7 427.7 1123.0 428.2 1123.6 428.7 1123.4 429.2 1119.9 429.7 1123.2 430.2 1124.8 430.7 1123.3 431.2 1125.0 431.7 1122.4 432.2 1124.1 432.7 1120.3 433.2 1124.5 433.7 1121.9 434.2 1124.3 434.7 1121.2 435.2 1122.8 435.7 1124.0 436.2 1123.2 436.7 1122.7 437.2 1124.6 437.7 1119.6 438.2 1119.6 438.7 1122.0 439.2 1124.2 439.7 1122.6 440.2 1120.4 440.7 1119.2 441.2 1121.0 441.7 1121.1 442.2 1120.9 442.7 1121.6 443.2 1119.5 443.7 1122.7 444.2 1119.1 444.7 1117.9 445.2 1119.0 445.7 1122.0 446.2 1117.3 446.7 1117.5 447.2 1120.7 447.7 1116.9 448.2 1119.1 448.7 1113.9 449.2 1117.7 449.7 1112.9 450.2 1111.1 450.7 1112.0 451.2 1110.1 451.7 1104.5 452.2 1094.4 452.7 1080.9 453.2 1059.3 453.7 1025.3 454.2 981.3 454.7 934.9 455.2 878.6 455.7 828.2 456.2 792.8 456.6 782.1 457.2 799.8 457.7 838.5 458.2 887.3 458.7 936.7 459.2 981.2 459.5 1004.5 459.7 1018.5 460.2 1048.2 460.7 1070.6 461.2 1087.0 461.7 1095.0 462.2 1102.1 462.7 1110.6 463.2 1110.4 463.7 1115.6 464.2 1115.2 464.7 1113.6 465.2 1117.5 465.7 1117.5 466.2 1116.0 466.7 1117.6 467.2 1118.2 467.7 1118.8 468.2 1121.2 468.7 1118.4 469.2 1120.2 469.7 1121.4 470.2 1123.5 470.7 1119.0 471.2 1118.9 471.7 1119.7 472.2 1120.0 472.7 1119.8 473.2 1119.4 473.7 1120.3 474.2 1120.4 474.7 1121.9 475.2 1123.0 475.7 1121.4 476.2 1120.4 476.7 1120.1 477.2 1121.1 477.7 1120.6 478.2 1122.4 478.7 1124.6 479.2 1123.8 479.7 1120.9 480.2 1120.0 480.7 1120.2 481.2 1122.3 481.7 1121.9 482.2 1123.8 482.7 1120.4 483.2 1121.4 483.7 1123.8 484.2 1123.2 484.7 1122.9 485.2 1125.1 485.7 1120.7 486.2 1121.1 486.7 1123.2 487.2 1123.2 487.7 1125.5 488.2 1125.5 488.7 1123.3 489.2 1124.2 489.7 1123.9 490.2 1120.7 490.7 1123.3 491.2 1121.6 491.7 1121.9 492.2 1120.7 492.7 1119.8 493.2 1124.5 493.7 1123.6 494.2 1123.7 494.7 1121.1 495.2 1121.7 495.7 1120.2 496.2 1122.4 496.7 1123.6 497.2 1123.1 497.7 1123.7 498.2 1119.6 498.7 1121.8 499.2 1118.1 499.7 1119.9 500.2 1116.7 500.7 1117.9 501.2 1116.1 501.7 1111.9 502.2 1106.8 502.7 1100.9 503.2 1087.9 503.7 1071.4 504.2 1049.7 504.7 1027.9 505.2 1006.6 505.7 988.7 506.2 980.2 506.7 983.9 507.2 998.7 507.7 1019.9 508.2 1041.8 508.7 1065.5 509.2 1081.1 509.7 1098.2 510.2 1104.3 510.7 1112.4 511.2 1116.1 511.7 1115.7 512.2 1120.8 512.7 1118.7 513.2 1118.1 513.7 1118.3 514.2 1120.9 514.7 1122.2 515.2 1120.5 515.7 1123.9 516.2 1120.9 516.7 1124.3 517.2 1119.9 517.7 1121.3 518.2 1120.9 518.7 1122.6 519.2 1122.2 519.7 1122.5 520.2 1125.1 520.7 1123.7 521.2 1123.9 521.7 1122.7 522.2 1125.1 522.7 1123.5 523.2 1124.9 523.7 1125.9 524.2 1124.2 524.7 1123.3 525.2 1122.4 525.7 1126.0 526.2 1125.2 526.7 1125.4 527.2 1122.2 527.7 1123.5 528.2 1126.0 528.7 1122.5 529.2 1125.7 529.7 1124.1 530.2 1122.4 530.7 1123.3 531.2 1121.6 531.7 1125.0 532.2 1125.3 532.7 1121.4 533.2 1122.9 533.7 1125.6 534.2 1122.4 534.7 1124.3 535.2 1125.8 535.7 1124.5 536.2 1122.0 536.7 1126.4 537.2 1125.5 537.7 1124.5 538.2 1123.3 538.7 1124.7 539.2 1123.6 539.7 1122.1 540.2 1122.1 540.7 1121.7 541.2 1122.4 541.7 1122.8 542.2 1125.0 542.7 1124.7 543.2 1124.8 543.7 1126.1 544.2 1122.0 544.7 1123.7 545.2 1122.0 545.7 1123.9 546.2 1122.0 546.7 1121.9 547.2 1122.2 547.7 1123.8 548.2 1125.9 548.7 1123.2 549.2 1125.8 549.7 1122.9 550.2 1123.2 550.7 1124.3 551.2 1122.0 551.7 1124.1 552.2 1124.9 552.7 1126.3 553.2 1122.0 553.7 1126.1 554.2 1124.9 554.7 1124.9 555.2 1122.0 555.7 1126.6 556.2 1123.2 556.7 1124.8 557.2 1124.7 557.7 1126.8 558.2 1125.1 558.7 1127.3 559.2 1123.0 559.7 1125.4 560.2 1125.0 560.7 1124.6 561.2 1125.3 561.7 1124.8 562.2 1123.6 562.7 1125.3 563.2 1122.2 563.7 1124.4 564.2 1124.3 564.7 1123.0 565.2 1124.9 565.7 1125.5 566.2 1122.5 566.7 1123.4 567.2 1122.1 567.7 1125.1 568.2 1122.2 568.7 1123.1 569.2 1124.3 569.7 1124.3 570.2 1122.0 570.7 1127.1 571.2 1123.1 571.7 1125.2 572.2 1123.0 572.7 1125.1 573.2 1123.8 573.7 1123.6 574.2 1124.4 574.7 1125.1 575.2 1125.1 575.7 1125.6 576.2 1123.3 576.7 1122.3 577.2 1123.2 577.7 1123.6 578.2 1125.1 578.7 1124.1 579.2 1123.5 579.7 1122.3 580.2 1125.0 580.7 1122.3 581.2 1124.6 581.7 1125.5 582.2 1125.2 582.7 1122.5 583.2 1123.6 583.7 1126.9 584.2 1122.1 584.7 1125.4 585.2 1124.0 585.7 1125.0 586.2 1123.7 586.7 1122.2 587.2 1124.6 587.7 1121.5 588.2 1126.2 588.7 1125.8 589.2 1123.4 589.7 1124.3 590.2 1124.2 590.7 1126.7 591.2 1121.4 591.7 1122.8 592.2 1123.3 592.7 1125.4 593.2 1125.0 593.7 1123.2 594.2 1120.8 594.7 1124.3 595.2 1122.8 595.7 1121.1 596.2 1123.9 596.7 1122.7 597.2 1121.7 597.7 1121.4 598.2 1122.6 598.7 1120.9 599.2 1121.4 599.7 1124.2 600.2 1121.3 600.7 1119.8 601.2 1120.9 601.7 1122.6 602.2 1121.8 602.7 1120.2 603.2 1120.7 603.7 1119.1 604.2 1117.6 604.7 1114.9 605.2 1111.5 605.7 1112.2 606.2 1107.7 606.7 1103.0 607.2 1088.7 607.7 1074.8 608.2 1045.4 608.7 1013.1 609.2 966.1 609.7 904.9 610.2 848.6 610.7 796.0 611.2 761.5 611.5 753.9 611.7 755.0 612.2 777.1 612.7 818.9 613.2 868.6 613.7 917.4 614.2 961.1 614.5 984.5 614.7 999.0 615.2 1031.1 615.7 1057.2 616.2 1075.8 616.7 1090.5 617.2 1098.8 617.7 1105.8 618.2 1112.1 618.7 1111.8 619.2 1116.5 619.7 1115.6 620.2 1119.8 620.7 1117.1 621.2 1118.2 621.7 1119.1 622.2 1121.4 622.7 1123.1 623.2 1123.1 623.7 1123.4 624.2 1123.3 624.7 1122.8 625.2 1121.9 625.7 1121.2 626.2 1125.2 626.7 1122.9 627.2 1124.4 627.7 1121.2 628.2 1123.0 628.7 1121.7 629.2 1123.2 629.7 1125.4 630.2 1123.3 630.7 1125.3 631.2 1122.3 631.7 1123.8 632.2 1124.0 632.7 1124.6 633.2 1123.1 633.7 1125.8 634.2 1126.9 634.7 1126.5 635.2 1122.2 635.7 1124.8 636.2 1124.1 636.7 1125.4 637.2 1122.7 637.7 1126.3 638.2 1124.6 638.7 1127.6 639.2 1122.5 639.7 1124.7 640.2 1125.1 640.7 1127.1 641.2 1126.7 641.7 1123.5 642.2 1124.2 642.7 1126.7 643.2 1124.9 643.7 1124.1 644.2 1127.8 644.7 1127.4 645.2 1124.6 645.7 1125.7 646.2 1127.9 646.7 1123.9 647.2 1127.8 647.7 1127.7 648.2 1126.8 648.7 1126.6 649.2 1126.6 649.7 1125.9 650.2 1126.1 650.7 1123.9 651.2 1126.0 651.7 1126.6 652.2 1125.6 652.7 1126.7 653.2 1125.5 653.7 1127.4 654.2 1127.0 654.7 1123.4 655.2 1127.3 655.7 1124.6 656.2 1123.4 656.7 1123.7 657.2 1124.8 657.7 1126.0 658.2 1124.9 658.7 1124.2 659.2 1127.4 659.7 1125.2 660.2 1128.0 660.7 1124.5 661.2 1127.0 661.7 1125.1 662.2 1127.9 662.7 1126.7 663.2 1126.9 663.7 1123.7 664.2 1127.4 664.7 1125.2 665.2 1127.3 665.7 1127.9 666.2 1123.9 666.7 1123.3 667.2 1127.5 667.7 1128.6 668.2 1128.3 668.7 1125.7 669.2 1127.9 669.7 1123.4 670.2 1123.6 670.7 1126.5 671.2 1126.2 671.7 1127.9 672.2 1124.6 672.7 1125.9 673.2 1128.9 673.7 1125.0 674.2 1125.6 674.7 1126.7 675.2 1128.9 675.7 1124.4 676.2 1127.2 676.7 1125.7 677.2 1125.6 677.7 1124.8 678.2 1126.0 678.7 1126.6 679.2 1125.6 679.7 1126.3 680.2 1127.0 680.7 1128.2 681.2 1126.6 681.7 1125.6 682.2 1128.8 682.7 1124.4 683.2 1123.7 683.7 1128.6 684.2 1125.0 684.7 1124.3 685.2 1125.7 685.7 1125.4 686.2 1125.5 686.7 1128.3 687.2 1125.2 687.7 1124.3 688.2 1124.8 688.7 1128.9 689.2 1126.0 689.7 1125.6 690.2 1127.9 690.7 1128.8 691.2 1126.4 691.7 1128.2 692.2 1125.1 692.7 1125.6 693.2 1126.8 693.7 1124.9 694.2 1125.2 694.7 1124.7 695.2 1125.1 695.7 1128.3 696.2 1128.1 696.7 1124.3 697.2 1125.6 697.7 1127.7 698.2 1128.5 698.7 1126.8 699.2 1127.8 699.7 1125.0 700.2 1128.1 700.7 1128.3 701.2 1126.0 701.7 1125.0 702.2 1123.9 702.7 1127.3 703.2 1127.3 703.7 1123.8 704.2 1126.7 704.7 1129.0 705.2 1123.9 705.7 1124.5 706.2 1124.1 706.7 1126.2 707.2 1126.0 707.7 1128.7 708.2 1124.2 708.7 1124.9 709.2 1129.1 709.7 1123.9 710.2 1125.3 710.7 1126.0 711.2 1123.9 711.7 1125.5 712.2 1127.2 712.7 1127.3 713.2 1127.3 713.7 1127.5 714.2 1127.3 714.7 1124.1 715.2 1127.6 715.7 1127.2 716.2 1125.1 716.7 1126.3 717.2 1125.2 717.7 1128.8 718.2 1125.5 718.7 1124.8 719.2 1128.4 719.7 1128.2 720.2 1128.7 720.7 1127.8 721.2 1126.3 721.7 1126.6 722.2 1127.1 722.7 1127.3 723.2 1129.3 723.7 1125.5 724.2 1128.3 724.7 1124.1 725.2 1125.1 725.7 1129.3 726.2 1125.4 726.7 1126.9 727.2 1129.2 727.7 1127.7 728.2 1126.8 728.7 1128.0 729.2 1129.5 729.7 1129.3 730.2 1125.1 730.7 1124.8 731.2 1125.7 731.7 1124.9 732.2 1128.3 732.7 1128.7 733.2 1124.8 733.7 1124.4 734.2 1125.8 734.7 1127.9 735.2 1128.3 735.7 1126.6 736.2 1127.6 736.7 1129.1 737.2 1128.9 737.7 1124.6 738.2 1128.0 738.7 1128.3 739.2 1129.1 739.7 1126.3 740.2 1124.8 740.7 1126.6 741.2 1126.0 741.7 1126.1 742.2 1128.4 742.7 1127.6 743.2 1127.7 743.7 1127.6 744.2 1124.7 744.7 1124.2 745.2 1126.1 745.7 1128.7 746.2 1127.5 746.7 1128.3 747.2 1127.4 747.7 1128.3 748.2 1129.4 748.7 1127.8 749.2 1128.7 749.7 1129.3 750.2 1128.0 750.7 1128.4 751.2 1124.3 751.7 1124.0 752.2 1129.0 752.7 1125.1 753.2 1125.5 753.7 1124.5 754.2 1127.3 754.7 1123.9 755.2 1128.2 755.7 1125.4 756.2 1127.9 756.7 1128.8 757.2 1127.6 757.7 1126.1 758.2 1127.2 758.7 1128.4 759.2 1127.6 759.7 1125.0 760.2 1123.6 760.7 1128.5 761.2 1127.1 761.7 1123.9 762.2 1126.6 762.7 1126.8 763.2 1125.1 763.7 1128.4 764.2 1124.8 764.7 1124.2 765.2 1125.1 765.7 1125.3 766.2 1128.3 766.7 1127.0 767.2 1124.0 767.7 1125.4 768.2 1123.8 768.7 1127.1 769.2 1127.9 769.7 1123.6 770.2 1125.8 770.7 1124.3 771.2 1124.5 771.7 1127.0 772.2 1128.2 772.7 1124.2 773.2 1125.6 773.7 1124.1 774.2 1122.6 774.7 1125.5 775.2 1122.8 775.7 1125.6 776.2 1125.7 776.7 1122.1 777.2 1124.4 777.7 1121.8 778.2 1124.5 778.7 1121.3 779.2 1122.7 779.7 1121.4 780.2 1119.2 780.7 1114.2 781.2 1112.8 781.7 1102.5 782.2 1093.4 782.7 1075.9 783.2 1055.6 783.7 1033.7 784.2 1008.6 784.7 988.5 785.2 977.3 785.4 976.2 785.7 978.6 786.2 992.0 786.7 1013.2 787.2 1036.4 787.7 1063.0 788.2 1079.7 788.7 1094.0 789.2 1106.2 789.7 1110.7 790.2 1119.0 790.7 1120.5 791.2 1121.6 791.7 1120.6 792.2 1124.2 792.7 1125.3 793.2 1125.0 793.7 1126.1 794.2 1121.7 794.7 1125.6 795.2 1126.5 795.7 1124.5 796.2 1122.4 796.7 1125.2 797.2 1123.6 797.7 1122.5 798.2 1127.7 798.7 1127.2 799.2 1126.1 799.7 1126.8 800.2 1126.5 800.7 1125.4 801.2 1123.5 801.7 1124.5 802.2 1125.7 802.7 1126.2 803.2 1124.6 803.7 1123.7 804.2 1124.9 804.7 1124.1 805.2 1128.3 805.7 1124.3 806.2 1125.3 806.7 1126.1 807.2 1124.5 807.7 1125.9 808.2 1126.2 808.7 1123.4 809.2 1128.5 809.7 1126.2 810.2 1124.0 810.7 1128.7 811.2 1124.1 811.7 1127.3 812.2 1125.9 812.7 1124.7 813.2 1125.4 813.7 1125.9 814.2 1125.3 814.7 1124.6 815.2 1125.6 815.7 1125.7 816.2 1127.1 816.7 1124.4 817.2 1123.5 817.7 1127.9 818.2 1123.6 818.7 1126.8 819.2 1126.3 819.7 1128.7 820.2 1124.3 820.7 1128.2 821.2 1124.0 821.7 1124.2 822.2 1126.9 822.7 1124.2 823.2 1126.5 823.7 1127.0 824.2 1123.9 824.7 1127.7 825.2 1125.6 825.7 1128.6 826.2 1123.3 826.7 1123.7 827.2 1126.7 827.7 1124.7 828.2 1125.5 828.7 1128.3 829.2 1125.1 829.7 1123.5 830.2 1124.0 830.7 1126.3 831.2 1127.5 831.7 1127.4 832.2 1125.8 832.7 1124.5 833.2 1123.9 833.7 1124.4 834.2 1124.3 834.7 1128.2 835.2 1125.4 835.7 1123.8 836.2 1126.7 836.7 1125.7 837.2 1123.3 837.7 1128.6 838.2 1128.4 838.7 1124.6 839.2 1127.7 839.7 1125.6 840.2 1126.8 840.7 1126.7 841.2 1127.1 841.7 1125.5 842.2 1123.8 842.7 1127.5 843.2 1125.5 843.7 1125.5 844.2 1127.2 844.7 1126.8 845.2 1128.5 845.7 1125.1 846.2 1126.5 846.7 1123.4 847.2 1123.5 847.7 1124.3 848.2 1124.4 848.7 1125.3 849.2 1124.1 849.7 1128.1 850.2 1125.2 850.7 1124.9 851.2 1127.8 851.7 1127.2 852.2 1127.0 852.7 1127.8 853.2 1126.8 853.7 1124.3 854.2 1128.0 854.7 1122.7 855.2 1127.6 855.7 1124.9 856.2 1124.4 856.7 1125.1 857.2 1124.6 857.7 1127.2 858.2 1126.8 858.7 1126.5 859.2 1123.5 859.7 1124.6 860.2 1122.5 860.7 1126.2 861.2 1122.2 861.7 1124.1 862.2 1122.7 862.7 1126.5 863.2 1126.8 863.7 1123.2 864.2 1126.4 864.7 1122.3 865.2 1125.2 865.7 1122.5 866.2 1123.4 866.7 1124.2 867.2 1122.5 867.7 1121.4 868.2 1123.4 868.7 1124.2 869.2 1125.0 869.7 1120.9 870.2 1120.1 870.7 1118.6 871.2 1118.7 871.7 1117.0 872.2 1117.4 872.7 1118.9 873.2 1113.9 873.7 1114.6 874.2 1108.9 874.7 1102.5 875.2 1094.2 875.7 1078.7 876.2 1056.3 876.7 1023.8 877.2 987.8 877.7 943.8 878.2 900.2 878.7 864.7 879.2 845.7 879.7 848.3 880.2 869.4 880.7 900.4 881.2 933.1 881.7 963.1 882.2 989.6 882.5 1004.5 882.7 1014.3 883.2 1038.2 883.7 1060.1 884.2 1080.7 884.7 1090.1 885.2 1100.1 885.7 1106.9 886.2 1112.4 886.7 1114.5 887.2 1120.6 887.7 1120.6 888.2 1122.4 888.7 1121.0 889.2 1122.9 889.7 1122.8 890.2 1120.8 890.7 1123.2 891.2 1121.4 891.7 1122.7 892.2 1124.9 892.7 1121.7 893.2 1121.7 893.7 1125.6 894.2 1123.6 894.7 1122.1 895.2 1123.0 895.7 1122.9 896.2 1126.4 896.7 1124.1 897.2 1126.7 897.7 1124.3 898.2 1127.0 898.7 1126.9 899.2 1125.0 899.7 1126.3 900.2 1123.5 900.7 1122.6 901.2 1125.4 901.7 1122.3 902.2 1124.7 902.7 1125.6 903.2 1126.4 903.7 1127.2 904.2 1123.3 904.7 1127.1 905.2 1125.0 905.7 1125.8 906.2 1124.9 906.7 1127.1 907.2 1124.0 907.7 1122.4 908.2 1127.0 908.7 1126.1 909.2 1126.4 909.7 1123.1 910.2 1123.6 910.7 1125.9 911.2 1126.6 911.7 1126.1 912.2 1125.8 912.7 1126.1 913.2 1123.3 913.7 1124.9 914.2 1124.2 914.7 1126.5 915.2 1125.2 915.7 1126.3 916.2 1126.1 916.7 1127.2 917.2 1126.8 917.7 1122.1 918.2 1125.2 918.7 1123.2 919.2 1121.2 919.7 1122.7 920.2 1124.1 920.7 1123.1 921.2 1118.6 921.7 1118.7 922.2 1121.3 922.7 1123.0 923.2 1118.5 923.7 1119.2 924.2 1123.3 924.7 1123.6 925.2 1125.3 925.7 1122.3 926.2 1124.4 926.7 1126.4 927.2 1124.2 927.7 1124.5 928.2 1122.6 928.7 1126.9 929.2 1125.0 929.7 1124.7 930.2 1126.2 930.7 1127.4 931.2 1127.5 931.7 1124.6 932.2 1126.1 932.7 1124.8 933.2 1127.4 933.7 1127.1 934.2 1126.4 934.7 1127.3 935.2 1125.5 935.7 1125.9 936.2 1123.6 936.7 1126.6 937.2 1124.2 937.7 1125.8 938.2 1122.6 938.7 1124.8 939.2 1126.0 939.7 1126.0 940.2 1125.6 940.7 1123.8 941.2 1126.0 941.7 1126.0 942.2 1125.5 942.7 1124.2 943.2 1122.9 943.7 1125.0 944.2 1122.0 944.7 1126.6 945.2 1123.1 945.7 1122.2 946.2 1122.4 946.7 1119.4 947.2 1122.3 947.7 1120.7 948.2 1117.1 948.7 1112.4 949.2 1108.3 949.7 1104.6 950.2 1101.7 950.7 1100.2 951.2 1100.9 951.7 1103.3 952.2 1106.8 952.7 1110.9 953.2 1114.3 953.7 1117.8 954.2 1120.0 954.7 1120.9 955.2 1122.5 955.7 1121.0 956.2 1123.5 956.7 1125.2 957.2 1123.0 957.7 1123.5 958.2 1126.6 958.7 1123.0 959.2 1123.4 959.7 1127.0 960.2 1123.2 960.7 1124.3 961.2 1127.7 961.7 1125.0 962.2 1127.3 962.7 1127.1 963.2 1122.9 963.7 1124.1 964.2 1128.0 964.7 1124.7 965.2 1125.2 965.7 1128.2 966.2 1123.6 966.7 1128.5 967.2 1126.7 967.7 1126.6 968.2 1123.1 968.7 1126.6 969.2 1127.7 969.7 1125.3 970.2 1123.5 970.7 1123.9 971.2 1123.6 971.7 1125.5 972.2 1127.7 972.7 1123.5 973.2 1125.4 973.7 1125.4 974.2 1125.4 974.7 1126.2 975.2 1126.2 975.7 1124.4 976.2 1127.7 976.7 1126.1 977.2 1125.2 977.7 1128.6 978.2 1127.2 978.7 1124.2 979.2 1128.7 979.7 1126.5 980.2 1125.2 980.7 1124.6 981.2 1123.7 981.7 1124.7 982.2 1124.9 982.7 1125.2 983.2 1128.8 983.7 1126.6 984.2 1124.4 984.7 1125.4 985.2 1125.7 985.7 1123.8 986.2 1125.9 986.7 1126.2 987.2 1128.4 987.7 1125.8 988.2 1127.2 988.7 1127.1 989.2 1124.3 989.7 1126.5 990.2 1125.9 990.7 1124.3 991.2 1123.5 991.7 1128.9 992.2 1123.9 992.7 1128.3 993.2 1125.4 993.7 1123.8 994.2 1128.8 994.7 1127.1 995.2 1125.6 995.7 1128.1 996.2 1127.3 996.7 1125.7 997.2 1127.4 997.7 1127.5 998.2 1124.4 998.7 1127.4 999.2 1128.5 999.7 1127.2 1000.2 1127.9 1000.7 1128.9 1001.2 1127.9 1001.7 1126.0 1002.2 1126.5 1002.7 1127.7 1003.2 1126.9 1003.7 1123.8 1004.2 1123.7 1004.7 1124.9 1005.2 1128.0 1005.7 1124.6 1006.2 1125.2 1006.7 1128.0 1007.2 1124.1 1007.7 1125.0 1008.2 1124.8 1008.7 1123.7 1009.2 1127.6 1009.7 1125.2 1010.2 1125.7 1010.7 1125.3 1011.2 1123.8 1011.7 1128.1 1012.2 1124.2 1012.7 1125.0 1013.2 1127.4 1013.7 1125.4 1014.2 1126.2 1014.7 1125.2 1015.2 1126.5 1015.7 1125.2 1016.2 1125.9 1016.7 1123.4 1017.2 1123.5 1017.7 1126.2 1018.2 1128.0 1018.7 1129.0 1019.2 1127.9 1019.7 1126.3 1020.2 1127.0 1020.7 1127.1 1021.2 1127.4 1021.7 1128.9 1022.2 1125.3 1022.7 1125.8 1023.2 1127.7 1023.7 1124.5 1024.2 1123.8 1024.7 1128.3 1025.2 1123.4 1025.7 1128.3 1026.2 1128.4 1026.7 1124.2 1027.2 1127.5 1027.7 1124.8 1028.2 1124.7 1028.7 1128.7 1029.2 1128.1 1029.7 1127.4 1030.2 1125.6 1030.7 1128.6 1031.2 1126.3 1031.7 1128.5 1032.2 1127.0 1032.7 1123.2 1033.2 1127.4 1033.7 1127.6 1034.2 1127.8 1034.7 1126.3 1035.2 1123.0 1035.7 1127.6 1036.2 1125.0 1036.7 1123.7 1037.2 1123.6 1037.7 1123.5 1038.2 1126.9 1038.7 1122.6 1039.2 1127.2 1039.7 1122.0 1040.2 1125.8 1040.7 1122.8 1041.2 1124.2 1041.7 1122.0 1042.2 1125.8 1042.7 1121.2 1043.2 1122.4 1043.7 1122.4 1044.2 1120.4 1044.7 1117.2 1045.2 1114.6 1045.7 1113.3 1046.2 1101.2 1046.7 1089.9 1047.2 1081.0 1047.7 1062.2 1048.2 1045.0 1048.7 1029.9 1049.2 1020.5 1049.7 1019.1 1050.2 1024.8 1050.7 1034.7 1051.2 1045.8 1051.7 1056.3 1052.2 1065.3 1052.5 1070.1 1052.7 1073.0 1053.2 1079.7 1053.7 1085.8 1054.2 1091.0 1054.7 1095.7 1055.2 1100.9 1055.7 1105.1 1056.2 1110.0 1056.7 1114.2 1057.2 1118.2 1057.7 1116.7 1058.2 1119.9 1058.7 1121.6 1059.2 1124.1 1059.7 1124.1 1060.2 1124.1 1060.7 1124.7 1061.2 1123.7 1061.7 1125.9 1062.2 1126.2 1062.7 1124.8 1063.2 1122.3 1063.7 1124.1 1064.2 1123.3 1064.7 1122.9 1065.2 1123.5 1065.7 1126.4 1066.2 1123.8 1066.7 1124.2 1067.2 1123.9 1067.7 1122.8 1068.2 1124.9 1068.7 1124.0 1069.2 1126.8 1069.7 1124.9 1070.2 1126.8 1070.7 1126.0 1071.2 1123.8 1071.7 1120.9 1072.2 1121.8 1072.7 1121.0 1073.2 1124.1 1073.7 1120.4 1074.2 1122.8 1074.7 1120.5 1075.2 1120.7 1075.7 1121.3 1076.2 1117.4 1076.7 1114.6 1077.2 1111.9 1077.7 1110.0 1078.2 1098.9 1078.7 1083.8 1079.2 1064.1 1079.7 1039.3 1080.2 1013.7 1080.7 985.3 1081.2 961.8 1081.7 949.2 1082.2 950.1 1082.7 962.1 1083.2 979.5 1083.7 999.0 1084.2 1012.9 1084.7 1025.1 1085.2 1034.6 1085.5 1039.5 1085.7 1042.6 1086.2 1050.3 1086.7 1058.4 1087.2 1066.4 1087.7 1077.5 1088.2 1082.2 1088.7 1092.1 1089.2 1099.2 1089.7 1106.4 1090.2 1109.2 1090.7 1112.2 1091.2 1117.6 1091.7 1116.5 1092.2 1119.5 1092.7 1121.2 1093.2 1123.9 1093.7 1122.5 1094.2 1123.7 1094.7 1124.7 1095.2 1125.0 1095.7 1126.9 1096.2 1124.3 1096.7 1125.1 1097.2 1122.1 1097.7 1123.2 1098.2 1123.7 1098.7 1123.6 1099.2 1125.4 1099.7 1123.7 1100.2 1125.9 1100.7 1127.4 1101.2 1123.3 1101.7 1124.3 1102.2 1125.8 1102.7 1123.3 1103.2 1123.9 1103.7 1126.4 1104.2 1125.5 1104.7 1128.3 1105.2 1126.5 1105.7 1127.6 1106.2 1125.3 1106.7 1125.5 1107.2 1128.2 1107.7 1126.9 1108.2 1128.6 1108.7 1124.9 1109.2 1124.2 1109.7 1127.4 1110.2 1124.3 1110.7 1124.0 1111.2 1125.8 1111.7 1127.5 1112.2 1125.7 1112.7 1127.9 1113.2 1126.2 1113.7 1125.3 1114.2 1126.7 1114.7 1127.1 1115.2 1124.5 1115.7 1127.0 1116.2 1124.6 1116.7 1129.0 1117.2 1126.5 1117.7 1124.5 1118.2 1123.5 1118.7 1124.2 1119.2 1124.6 1119.7 1125.7 1120.2 1125.8 1120.7 1125.8 1121.2 1124.0 1121.7 1124.9 1122.0 1124.4 1122.2 1123.0 1122.7 1122.7 1123.2 1124.0 1123.7 1126.0 1124.2 1123.2 1124.7 1126.4 1125.2 1123.2 1125.7 1124.4 1126.2 1127.3 1126.7 1128.2 1127.2 1128.1 1127.7 1127.7 1128.2 1125.3 1128.7 1129.5 1129.2 1127.3 1129.7 1129.1 1130.2 1129.2 1130.7 1125.4 1131.2 1129.5 1131.7 1124.5 1132.2 1127.6 1132.7 1125.5 1133.2 1124.6 1133.7 1127.3 1134.2 1125.3 1134.7 1128.5 1135.2 1126.7 1135.7 1125.6 1136.2 1124.2 1136.7 1128.0 1137.2 1127.7 1137.7 1128.7 1138.2 1126.3 1138.7 1129.3 1139.2 1124.3 1139.7 1129.3 1140.2 1128.5 1140.7 1124.8 1141.2 1129.7 1141.7 1124.7 1142.2 1128.4 1142.7 1125.6 1143.2 1128.1 1143.7 1128.9 1144.2 1124.9 1144.7 1126.1 1145.2 1129.3 1145.7 1126.9 1146.2 1125.1 1146.7 1124.8 1147.2 1125.0 1147.7 1124.9 1148.2 1126.3 1148.7 1128.6 1149.2 1126.8 1149.7 1124.8 1150.2 1126.3 1150.7 1127.0 1151.2 1126.8 1151.7 1127.9 1152.2 1128.1 1152.7 1128.5 1153.2 1127.3 1153.7 1124.5 1154.2 1128.6 1154.7 1128.7 1155.2 1128.4 1155.7 1126.8 1156.2 1129.3 1156.7 1124.9 1157.2 1128.5 1157.7 1127.7 1158.2 1128.3 1158.7 1124.7 1159.2 1129.8 1159.7 1124.5 1160.2 1125.4 1160.7 1127.3 1161.2 1127.6 1161.7 1125.4 1162.2 1126.0 1162.7 1129.5 1163.2 1126.2 1163.7 1126.9 1164.2 1125.0 1164.7 1127.6 1165.2 1128.3 1165.7 1128.6 1166.2 1125.7 1166.7 1126.5 1167.2 1128.1 1167.7 1129.9 1168.2 1128.7 1168.7 1125.6 1169.2 1124.8 1169.7 1126.3 1170.2 1127.4 1170.7 1126.0 1171.2 1128.9 1171.7 1125.9 1172.2 1125.1 1172.7 1127.8 1173.2 1128.7 1173.7 1125.6 1174.2 1126.3 1174.7 1125.9 1175.2 1124.6 1175.7 1128.3 1176.2 1124.7 1176.7 1127.9 1177.2 1128.0 1177.7 1127.4 1178.2 1124.7 1178.7 1124.7 1179.2 1127.3 1179.7 1127.2 1180.2 1124.5 1180.7 1124.5 1181.2 1128.8 1181.7 1126.3 1182.2 1128.5 1182.7 1125.6 1183.2 1125.9 1183.7 1129.5 1184.2 1125.6 1184.7 1126.7 1185.2 1127.2 1185.7 1128.4 1186.2 1126.2 1186.7 1128.1 1187.2 1125.7 1187.7 1128.2 1188.2 1124.5 1188.7 1125.5 1189.2 1124.7 1189.7 1124.9 1190.2 1128.5 1190.7 1126.9 1191.2 1128.7 1191.7 1129.7 1192.2 1125.2 1192.7 1128.3 1193.2 1129.3 1193.7 1125.3 1194.2 1123.7 1194.7 1125.5 1195.2 1125.6 1195.7 1125.9 1196.2 1124.9 1196.7 1123.1 1197.2 1122.2 1197.7 1123.3 1198.2 1124.3 1198.7 1123.1 1199.2 1124.2 1199.7 1127.9 1200.2 1125.7 1200.7 1124.3 1201.2 1127.6 1201.7 1126.0 1202.2 1127.0 1202.7 1126.5 1203.2 1125.0 1203.7 1128.5 1204.2 1127.6 1204.7 1130.0 1205.2 1124.5 1205.7 1127.7 1206.2 1126.9 1206.7 1126.9 1207.2 1128.6 1207.7 1125.9 1208.2 1126.8 1208.7 1125.3 1209.2 1127.7 1209.7 1127.0 1210.2 1124.8 1210.7 1125.9 1211.2 1126.8 1211.7 1127.6 1212.2 1125.1 1212.7 1128.0 1213.2 1129.2 1213.7 1126.4 1214.2 1125.0 1214.7 1125.4 1215.2 1128.9 1215.7 1127.6 1216.2 1125.4 1216.7 1125.5 1217.2 1129.3 1217.7 1128.4 1218.2 1128.5 1218.7 1125.4 1219.2 1130.1 1219.7 1126.0 1220.2 1126.6 1220.7 1125.9 1221.2 1129.9 1221.7 1128.1 1222.2 1127.7 1222.7 1126.9 1223.2 1128.6 1223.7 1127.2 1224.2 1127.2 1224.7 1125.4 1225.2 1129.2 1225.7 1124.9 1226.2 1129.6 1226.7 1129.7 1227.2 1127.5 1227.7 1125.5 1228.2 1125.7 1228.7 1125.3 1229.2 1128.4 1229.7 1126.5 1230.2 1130.0 1230.7 1126.4 1231.2 1126.3 1231.7 1128.2 1232.2 1129.3 1232.7 1127.3 1233.2 1125.0 1233.7 1125.3 1234.2 1128.3 1234.7 1128.6 1235.2 1129.8 1235.7 1127.4 1236.2 1128.5 1236.7 1127.8 1237.2 1127.1 1237.7 1128.4 1238.2 1124.9 1238.7 1124.5 1239.2 1125.3 1239.7 1125.5 1240.2 1128.4 1240.7 1127.3 1241.2 1126.3 1241.7 1126.1 1242.2 1121.6 1242.7 1122.3 1243.2 1118.1 1243.7 1108.9 1244.2 1103.6 1244.7 1097.3 1245.2 1090.6 1245.7 1085.7 1246.0 1084.2 1246.2 1083.8 1246.7 1085.1 1247.2 1088.6 1247.7 1092.6 1248.2 1097.2 1248.7 1100.8 1249.2 1103.8 1249.5 1105.3 1249.7 1106.3 1250.2 1108.5 1250.7 1110.8 1251.2 1115.1 1251.7 1115.7 1252.2 1116.0 1252.7 1121.4 1253.2 1123.3 1253.7 1125.0 1254.2 1123.3 1254.7 1124.0 1255.2 1126.1 1255.7 1127.9 1256.2 1125.3 1256.7 1125.5 1257.2 1126.1 1257.7 1124.1 1258.2 1128.8 1258.7 1126.7 1259.2 1126.9 1259.7 1127.8 1260.2 1128.9 1260.7 1128.4 1261.2 1126.3 1261.7 1126.1 1262.2 1126.4 1262.7 1127.5 1263.2 1129.1 1263.7 1124.6 1264.2 1128.0 1264.7 1129.4 1265.2 1127.8 1265.7 1126.8 1266.2 1127.4 1266.7 1127.6 1267.2 1128.2 1267.7 1125.2 1268.2 1129.2 1268.7 1127.9 1269.2 1126.3 1269.7 1129.9 1270.2 1127.0 1270.7 1129.2 1271.2 1126.5 1271.7 1127.9 1272.2 1125.9 1272.7 1126.4 1273.2 1126.7 1273.7 1125.7 1274.2 1129.1 1274.7 1127.4 1275.2 1126.8 1275.7 1128.2 1276.2 1126.2 1276.7 1127.4 1277.2 1128.1 1277.7 1128.4 1278.2 1127.3 1278.7 1129.1 1279.2 1129.8 1279.7 1130.3 1280.2 1128.1 1280.7 1130.4 1281.2 1130.2 1281.7 1128.6 1282.2 1125.7 1282.7 1128.6 1283.2 1128.0 1283.7 1128.9 1284.2 1126.5 1284.7 1130.5 1285.2 1126.9 1285.7 1130.6 1286.2 1126.5 1286.7 1127.7 1287.2 1128.8 1287.7 1126.5 1288.2 1127.3 1288.7 1128.7 1289.2 1129.2 1289.7 1130.2 1290.2 1128.1 1290.7 1130.4 1291.2 1126.6 1291.7 1128.5 1292.2 1129.3 1292.7 1125.5 1293.2 1129.5 1293.7 1129.6 1294.2 1128.2 1294.7 1130.2 1295.2 1129.0 1295.7 1127.1 1296.2 1129.6 1296.7 1128.0 1297.2 1128.9 1297.7 1130.6 1298.2 1129.0 1298.7 1129.4 1299.2 1129.7 1299.7 1126.2 1300.2 1125.3 1300.7 1125.5 1301.2 1127.7 1301.7 1130.5 1302.2 1127.6 1302.7 1130.3 1303.2 1126.8 1303.7 1125.9 1304.2 1127.4 1304.7 1129.9 1305.2 1130.5 1305.7 1128.1 1306.2 1127.3 1306.7 1129.5" stroke="#7b007e"/>
<g fill="#7b007e" stroke="none"><circle cx="274.8" cy="890.3" r="4.5"/><circle cx="456.6" cy="782.1" r="4.5"/><circle cx="459.5" cy="1004.5" r="4.5"/><circle cx="506.3" cy="980.9" r="4.5"/><circle cx="611.5" cy="753.9" r="4.5"/><circle cx="614.5" cy="984.5" r="4.5"/><circle cx="785.4" cy="976.2" r="4.5"/><circle cx="879.3" cy="846.2" r="4.5"/><circle cx="882.5" cy="1004.5" r="4.5"/><circle cx="950.8" cy="1100.4" r="4.5"/><circle cx="1049.3" cy="1020.3" r="4.5"/><circle cx="1052.5" cy="1070.1" r="4.5"/><circle cx="1081.7" cy="949.2" r="4.5"/><circle cx="1085.5" cy="1039.5" r="4.5"/><circle cx="1246.0" cy="1084.2" r="4.5"/><circle cx="1249.5" cy="1105.3" r="4.5"/></g>
<path d="M170.7 1437.4 171.2 1437.3 171.7 1437.1 172.2 1434.0 172.7 1433.0 173.2 1437.9 173.7 1436.1 174.2 1432.6 174.7 1437.7 175.2 1438.2 175.7 1434.3 176.2 1437.2 176.7 1433.2 177.2 1435.2 177.7 1437.3 178.2 1435.0 178.7 1435.6 179.2 1433.4 179.7 1437.3 180.2 1435.6 180.7 1434.2 181.2 1437.2 181.7 1438.3 182.2 1435.9 182.7 1437.0 183.2 1438.4 183.7 1433.1 184.2 1436.3 184.7 1438.3 185.2 1433.6 185.7 1434.2 186.2 1436.0 186.7 1437.0 187.2 1436.1 187.7 1436.1 188.2 1433.3 188.7 1437.2 189.2 1434.8 189.7 1433.5 190.2 1438.4 190.7 1436.8 191.2 1435.6 191.7 1437.2 192.2 1435.8 192.7 1433.8 193.2 1436.5 193.7 1437.3 194.2 1437.3 194.7 1436.3 195.2 1438.4 195.7 1438.5 196.2 1438.1 196.7 1435.3 197.2 1434.7 197.7 1436.2 198.2 1436.9 198.7 1434.2 199.2 1436.4 199.7 1435.8 200.2 1433.3 200.7 1435.7 201.2 1435.6 201.7 1438.8 202.2 1433.7 202.7 1438.6 203.2 1438.5 203.7 1436.8 204.2 1434.5 204.7 1437.9 205.2 1434.4 205.7 1435.3 206.2 1437.2 206.7 1435.9 207.2 1436.1 207.7 1435.2 208.2 1433.7 208.7 1435.6 209.2 1438.2 209.7 1438.2 210.2 1434.0 210.7 1436.7 211.2 1435.6 211.7 1435.9 212.2 1439.2 212.7 1438.2 213.2 1436.5 213.7 1436.5 214.2 1438.8 214.7 1435.8 215.2 1438.1 215.7 1437.8 216.2 1437.9 216.7 1436.3 217.2 1437.6 217.7 1438.5 218.2 1435.5 218.7 1438.1 219.2 1436.5 219.7 1436.8 220.2 1436.5 220.7 1436.0 221.2 1438.1 221.7 1436.1 222.2 1434.9 222.7 1438.3 223.2 1436.2 223.7 1437.2 224.2 1439.5 224.7 1437.6 225.2 1436.9 225.7 1435.6 226.2 1438.0 226.7 1439.4 227.2 1438.0 227.7 1438.4 228.2 1435.8 228.7 1435.8 229.2 1436.1 229.7 1436.8 230.2 1439.1 230.7 1436.7 231.2 1435.1 231.7 1437.1 232.2 1435.6 232.7 1437.7 233.2 1436.1 233.7 1439.5 234.2 1436.6 234.7 1437.4 235.2 1437.5 235.7 1436.5 236.2 1439.7 236.7 1434.4 237.2 1438.4 237.7 1435.7 238.2 1434.6 238.7 1435.2 239.2 1438.4 239.7 1439.3 240.2 1438.6 240.7 1435.8 241.2 1437.0 241.7 1434.9 242.2 1436.6 242.7 1435.7 243.2 1434.4 243.7 1435.8 244.2 1439.4 244.7 1437.1 245.2 1435.6 245.7 1434.6 246.2 1438.9 246.7 1434.1 247.2 1433.4 247.7 1433.3 248.2 1436.1 248.7 1436.0 249.2 1430.0 249.7 1431.5 250.2 1429.3 250.7 1428.1 251.2 1427.5 251.4 1427.4 251.7 1427.5 252.2 1428.3 252.7 1429.6 253.2 1431.9 253.7 1430.5 254.2 1432.9 254.7 1435.7 255.2 1437.8 255.7 1435.9 256.2 1435.9 256.7 1437.5 257.2 1439.1 257.7 1435.5 258.2 1437.8 258.7 1437.9 259.2 1437.2 259.7 1436.6 260.2 1439.9 260.7 1439.2 261.2 1435.5 261.7 1434.7 262.2 1436.1 262.7 1437.1 263.2 1435.7 263.7 1436.7 264.2 1438.6 264.7 1438.9 265.2 1439.4 265.7 1439.4 266.2 1436.7 266.7 1437.8 267.2 1439.0 267.7 1438.3 268.2 1438.1 268.7 1439.5 269.2 1440.2 269.7 1440.0 270.2 1436.5 270.7 1435.6 271.2 1436.6 271.7 1439.5 272.2 1436.8 272.7 1439.2 273.2 1438.3 273.7 1440.6 274.2 1435.7 274.7 1439.7 275.2 1435.3 275.7 1438.7 276.2 1438.1 276.7 1436.5 277.2 1436.6 277.7 1437.3 278.2 1437.8 278.7 1436.0 279.2 1437.6 279.7 1435.7 280.2 1438.0 280.7 1438.2 281.2 1437.4 281.7 1438.0 282.2 1438.4 282.7 1438.2 283.2 1436.3 283.7 1436.5 284.2 1436.8 284.7 1440.9 285.2 1438.1 285.7 1439.3 286.2 1436.4 286.7 1438.2 287.2 1437.8 287.7 1436.5 288.2 1436.6 288.7 1436.7 289.2 1439.5 289.7 1439.5 290.2 1440.2 290.7 1437.3 291.2 1438.3 291.7 1439.5 292.2 1438.6 292.7 1440.3 293.2 1435.6 293.7 1439.4 294.2 1436.2 294.7 1438.4 295.2 1437.7 295.7 1438.0 296.2 1439.8 296.7 1436.0 297.2 1435.8 297.7 1440.8 298.2 1438.3 298.7 1437.8 299.2 1436.4 299.7 1438.4 300.2 1439.3 300.7 1440.6 301.2 1437.8 301.7 1436.3 302.2 1439.9 302.7 1437.3 303.2 1439.6 303.7 1440.1 304.2 1441.1 304.7 1436.6 305.2 1437.2 305.7 1437.9 306.2 1440.3 306.7 1438.2 307.2 1438.2 307.7 1440.4 308.2 1436.4 308.7 1436.4 309.2 1436.3 309.7 1438.6 310.2 1437.0 310.7 1437.8 311.2 1438.6 311.7 1438.8 312.2 1438.0 312.7 1436.6 313.2 1440.4 313.7 1440.7 314.2 1439.0 314.7 1437.5 315.2 1441.5 315.7 1436.5 316.2 1440.8 316.7 1439.4 317.2 1437.4 317.7 1439.2 318.2 1439.0 318.7 1436.0 319.2 1438.5 319.7 1440.3 320.2 1439.5 320.7 1436.7 321.2 1437.1 321.7 1439.9 322.2 1436.1 322.7 1439.8 323.2 1439.0 323.7 1438.1 324.2 1438.3 324.7 1438.7 325.2 1436.6 325.7 1441.2 326.2 1438.4 326.7 1439.7 327.2 1436.6 327.7 1440.9 328.2 1439.9 328.7 1437.4 329.2 1441.1 329.7 1440.9 330.2 1438.6 330.7 1437.6 331.2 1440.6 331.7 1436.0 332.2 1441.3 332.7 1441.4 333.2 1436.4 333.7 1441.3 334.2 1437.6 334.7 1440.5 335.2 1440.8 335.7 1436.9 336.2 1437.8 336.7 1441.3 337.2 1440.3 337.7 1439.8 338.2 1437.2 338.7 1440.0 339.2 1436.1 339.7 1437.3 340.2 1437.2 340.7 1436.1 341.2 1438.3 341.7 1435.8 342.2 1441.1 342.7 1438.3 343.2 1439.8 343.7 1438.4 344.2 1436.1 344.7 1437.9 345.2 1435.3 345.7 1436.8 346.2 1438.6 346.7 1436.0 347.2 1440.0 347.7 1438.3 348.2 1434.8 348.7 1436.9 349.2 1439.3 349.7 1435.6 350.2 1434.6 350.7 1435.2 351.2 1436.1 351.7 1435.3 352.2 1434.0 352.7 1434.8 353.2 1434.3 353.7 1434.7 354.2 1435.1 354.7 1431.3 355.2 1425.5 355.7 1421.9 356.2 1416.9 356.7 1412.4 357.2 1396.9 357.7 1386.9 358.2 1369.9 358.7 1352.0 359.2 1336.7 359.7 1322.2 360.2 1312.7 360.6 1310.0 361.2 1315.1 361.7 1326.3 362.2 1341.3 362.7 1355.9 363.2 1373.1 363.7 1385.3 364.2 1397.1 364.7 1405.5 365.2 1406.9 365.7 1401.4 366.2 1400.6 366.7 1387.9 367.2 1373.6 367.7 1358.1 368.2 1339.8 368.7 1325.4 369.2 1311.4 369.7 1303.1 370.0 1301.8 370.2 1302.5 370.7 1309.9 371.2 1323.4 371.7 1342.7 372.2 1360.6 372.7 1375.7 373.2 1388.1 373.7 1404.1 374.2 1411.9 374.7 1417.7 375.2 1424.4 375.7 1429.1 376.2 1430.9 376.7 1429.1 377.2 1434.6 377.7 1432.8 378.2 1435.5 378.7 1433.1 379.2 1436.0 379.7 1435.7 380.2 1431.2 380.7 1435.9 381.2 1434.6 381.7 1433.9 382.2 1430.4 382.7 1433.6 383.2 1433.3 383.7 1434.0 384.2 1430.6 384.7 1427.8 385.2 1430.2 385.7 1426.2 386.2 1422.9 386.7 1420.3 387.2 1409.7 387.7 1399.3 388.2 1390.0 388.7 1369.5 389.2 1343.6 389.7 1311.1 390.2 1276.0 390.7 1239.3 391.2 1208.5 391.7 1184.1 392.2 1173.0 392.7 1177.9 393.2 1197.6 393.7 1227.6 394.2 1262.2 394.7 1297.3 395.2 1328.9 395.7 1359.9 396.2 1378.1 396.7 1397.9 397.2 1409.6 397.7 1417.7 398.2 1421.3 398.7 1427.6 399.2 1430.4 399.7 1431.2 400.2 1432.5 400.7 1433.2 401.2 1433.3 401.7 1434.7 402.2 1434.9 402.7 1434.1 403.2 1437.6 403.7 1435.1 404.2 1434.0 404.7 1437.2 405.2 1438.7 405.7 1434.8 406.2 1434.5 406.7 1436.3 407.2 1436.2 407.7 1435.6 408.2 1436.4 408.7 1437.3 409.2 1436.3 409.7 1438.1 410.2 1437.5 410.7 1437.4 411.2 1435.9 411.7 1439.5 412.2 1438.8 412.7 1438.4 413.2 1437.1 413.7 1440.9 414.2 1439.4 414.7 1439.9 415.2 1438.3 415.7 1438.6 416.2 1438.9 416.7 1436.4 417.2 1436.1 417.7 1438.7 418.2 1435.8 418.7 1433.6 419.2 1435.2 419.7 1436.2 420.2 1431.8 420.7 1429.7 421.2 1427.6 421.7 1418.0 422.2 1411.4 422.7 1402.3 423.2 1395.2 423.7 1386.9 424.2 1378.8 424.7 1373.2 425.2 1371.1 425.7 1373.2 426.2 1378.9 426.7 1387.0 427.2 1395.2 427.7 1405.3 428.2 1414.0 428.7 1422.2 429.2 1428.0 429.7 1428.6 430.2 1430.8 430.7 1433.1 431.2 1434.3 431.7 1438.0 432.2 1437.7 432.7 1435.3 433.2 1438.4 433.7 1438.8 434.2 1438.0 434.7 1439.5 435.2 1435.9 435.7 1439.4 436.2 1436.0 436.7 1440.5 437.2 1438.7 437.7 1440.5 438.2 1436.6 438.7 1436.9 439.2 1440.4 439.7 1436.2 440.2 1437.5 440.7 1440.0 441.2 1440.4 441.7 1436.3 442.2 1435.8 442.7 1438.9 443.2 1436.5 443.7 1436.8 444.2 1435.3 444.7 1436.8 445.2 1439.2 445.7 1437.7 446.2 1434.4 446.7 1434.4 447.2 1438.6 447.7 1436.8 448.2 1433.9 448.7 1435.9 449.2 1436.4 449.7 1435.9 450.2 1434.1 450.7 1430.3 451.2 1432.9 451.7 1430.0 452.2 1428.1 452.7 1421.9 453.2 1417.6 453.7 1407.7 454.2 1391.3 454.7 1371.3 455.2 1348.9 455.7 1315.8 456.2 1280.9 456.7 1242.1 457.2 1206.8 457.7 1176.4 458.2 1158.2 458.5 1155.1 458.7 1156.5 459.2 1171.7 459.7 1200.1 460.2 1235.8 460.7 1271.7 461.2 1312.4 461.7 1343.9 462.2 1366.4 462.7 1387.8 463.2 1405.3 463.7 1414.9 464.2 1419.1 464.7 1424.9 465.2 1426.3 465.7 1433.1 466.2 1433.9 466.7 1432.0 467.2 1433.8 467.7 1436.3 468.2 1435.7 468.7 1433.8 469.2 1438.0 469.7 1438.0 470.2 1434.5 470.7 1439.5 471.2 1437.6 471.7 1438.4 472.2 1439.2 472.7 1440.5 473.2 1438.5 473.7 1437.3 474.2 1438.3 474.7 1441.0 475.2 1439.8 475.7 1439.4 476.2 1439.6 476.7 1439.3 477.2 1441.9 477.7 1442.0 478.2 1438.7 478.7 1436.9 479.2 1437.8 479.7 1438.4 480.2 1439.3 480.7 1440.8 481.2 1440.8 481.7 1439.8 482.2 1442.3 482.7 1437.7 483.2 1439.5 483.7 1441.7 484.2 1441.0 484.7 1440.2 485.2 1441.1 485.7 1437.2 486.2 1441.2 486.7 1440.1 487.2 1441.9 487.7 1438.1 488.2 1439.3 488.7 1442.5 489.2 1438.8 489.7 1440.8 490.2 1442.1 490.7 1439.9 491.2 1439.6 491.7 1439.6 492.2 1438.0 492.7 1439.3 493.2 1440.3 493.7 1438.8 494.2 1437.6 494.7 1437.7 495.2 1435.6 495.7 1434.5 496.2 1438.7 496.7 1434.2 497.2 1434.0 497.7 1430.6 498.2 1424.0 498.7 1418.2 499.2 1412.5 499.7 1402.4 500.2 1392.9 500.7 1381.8 501.2 1371.6 501.7 1364.3 502.2 1360.9 502.7 1362.3 503.2 1368.1 503.7 1377.0 504.2 1388.8 504.7 1396.6 505.2 1407.6 505.7 1413.6 506.2 1423.3 506.7 1426.5 507.2 1431.1 507.7 1435.6 508.2 1435.1 508.7 1437.0 509.2 1433.1 509.7 1435.1 510.2 1436.6 510.7 1434.3 511.2 1436.1 511.7 1434.6 512.2 1434.7 512.7 1431.5 513.2 1433.5 513.7 1428.6 514.2 1425.3 514.7 1418.9 515.2 1411.5 515.7 1400.0 516.2 1390.7 516.7 1372.4 517.2 1352.5 517.7 1328.1 518.2 1311.0 518.7 1295.7 519.2 1287.5 519.4 1286.8 519.7 1288.5 520.2 1298.4 520.7 1314.9 521.2 1333.9 521.7 1354.1 522.2 1376.0 522.7 1390.6 523.2 1406.3 523.7 1412.7 524.2 1423.1 524.7 1430.2 525.2 1429.5 525.7 1431.1 526.2 1436.7 526.7 1434.8 527.2 1437.6 527.7 1435.1 528.2 1438.2 528.7 1438.2 529.2 1436.3 529.7 1438.1 530.2 1439.2 530.7 1439.8 531.2 1438.9 531.7 1440.9 532.2 1441.6 532.7 1438.1 533.2 1442.8 533.7 1439.8 534.2 1441.3 534.7 1443.1 535.2 1441.9 535.7 1440.5 536.2 1442.4 536.7 1440.1 537.2 1438.5 537.7 1442.2 538.2 1440.6 538.7 1443.3 539.2 1438.7 539.7 1442.6 540.2 1441.2 540.7 1438.9 541.2 1441.0 541.7 1443.3 542.2 1443.8 542.7 1442.4 543.2 1442.8 543.7 1443.9 544.2 1444.2 544.7 1441.8 545.2 1439.2 545.7 1442.7 546.2 1439.3 546.7 1439.4 547.2 1441.9 547.7 1442.5 548.2 1439.7 548.7 1442.8 549.2 1443.3 549.7 1444.3 550.2 1441.7 550.7 1444.6 551.2 1440.4 551.7 1442.4 552.2 1440.6 552.7 1441.3 553.2 1440.7 553.7 1444.9 554.2 1444.6 554.7 1442.6 555.2 1439.8 555.7 1440.6 556.2 1440.3 556.7 1441.0 557.2 1441.9 557.7 1441.6 558.2 1441.9 558.7 1443.9 559.2 1441.8 559.7 1442.4 560.2 1442.2 560.7 1440.9 561.2 1442.8 561.7 1440.5 562.2 1440.1 562.7 1442.8 563.2 1443.4 563.7 1440.2 564.2 1442.4 564.7 1440.2 565.2 1441.5 565.7 1443.3 566.2 1443.3 566.7 1442.0 567.2 1444.3 567.7 1444.4 568.2 1440.8 568.7 1444.9 569.2 1441.0 569.7 1444.8 570.2 1443.0 570.7 1445.0 571.2 1441.6 571.7 1444.4 572.2 1441.6 572.7 1443.6 573.2 1443.9 573.7 1444.3 574.2 1443.2 574.7 1442.1 575.2 1439.7 575.7 1443.7 576.2 1442.9 576.7 1440.3 577.2 1443.6 577.7 1441.8 578.2 1443.4 578.7 1442.2 579.2 1444.1 579.7 1443.7 580.2 1444.6 580.7 1444.6 581.2 1439.7 581.7 1443.1 582.2 1445.2 582.7 1439.8 583.2 1443.9 583.7 1441.2 584.2 1442.8 584.7 1440.1 585.2 1443.3 585.7 1444.4 586.2 1443.8 586.7 1443.6 587.2 1444.6 587.7 1442.8 588.2 1440.8 588.7 1442.5 589.2 1444.1 589.7 1441.3 590.2 1441.8 590.7 1444.1 591.2 1439.8 591.7 1439.8 592.2 1441.4 592.7 1444.2 593.2 1440.0 593.7 1442.4 594.2 1443.1 594.7 1439.6 595.2 1443.9 595.7 1443.6 596.2 1439.2 596.7 1441.6 597.2 1441.3 597.7 1443.0 598.2 1438.8 598.7 1440.3 599.2 1438.3 599.7 1440.4 600.2 1437.2 600.7 1440.3 601.2 1436.2 601.7 1432.5 602.2 1431.7 602.7 1430.1 603.2 1424.7 603.7 1420.5 604.2 1420.2 604.7 1415.0 605.2 1412.1 605.7 1410.4 606.0 1410.1 606.2 1410.2 606.7 1411.6 607.2 1414.3 607.7 1415.1 608.2 1422.0 608.7 1426.0 609.2 1428.2 609.7 1431.7 610.2 1432.2 610.7 1439.4 611.2 1436.1 611.7 1439.2 612.2 1438.8 612.7 1441.4 613.2 1439.6 613.7 1438.9 614.2 1441.6 614.7 1440.3 615.2 1442.7 615.7 1440.7 616.2 1444.2 616.7 1442.4 617.2 1442.0 617.7 1442.0 618.2 1442.5 618.7 1442.4 619.2 1442.3 619.7 1440.5 620.2 1443.8 620.7 1441.6 621.2 1440.8 621.7 1442.9 622.2 1443.1 622.7 1441.5 623.2 1443.5 623.7 1440.6 624.2 1439.8 624.7 1440.7 625.2 1443.8 625.7 1440.2 626.2 1443.2 626.7 1442.7 627.2 1442.8 627.7 1441.4 628.2 1441.8 628.7 1444.1 629.2 1441.7 629.7 1439.8 630.2 1442.1 630.7 1439.8 631.2 1440.3 631.7 1440.7 632.2 1442.2 632.7 1442.3 633.2 1441.5 633.7 1439.3 634.2 1439.6 634.7 1441.9 635.2 1438.3 635.7 1442.1 636.2 1440.5 636.7 1439.6 637.2 1440.8 637.7 1435.7 638.2 1437.6 638.7 1435.9 639.2 1437.5 639.6 1436.5 640.2 1436.5 640.7 1436.1 641.2 1439.4 641.7 1438.3 642.2 1437.1 642.7 1437.2 643.2 1442.5 643.7 1442.8 644.2 1441.8 644.7 1442.7 645.2 1443.9 645.7 1442.8 646.2 1440.5 646.7 1442.9 647.2 1442.2 647.7 1439.8 648.2 1441.8 648.7 1443.9 649.2 1443.8 649.7 1440.3 650.2 1443.3 650.7 1439.3 651.2 1439.7 651.7 1438.5 652.2 1438.9 652.7 1441.6 653.2 1436.3 653.7 1434.9 654.2 1433.3 654.7 1433.0 655.2 1425.2 655.7 1419.5 656.2 1412.5 656.7 1405.3 657.2 1393.0 657.7 1384.1 658.2 1375.9 658.7 1370.4 659.1 1369.0 659.7 1372.2 660.2 1378.9 660.7 1385.2 661.2 1400.1 661.7 1405.0 662.2 1418.3 662.7 1423.0 663.2 1429.6 663.7 1433.4 664.2 1432.7 664.7 1438.3 665.2 1437.0 665.7 1437.1 666.2 1442.4 666.7 1438.9 667.2 1442.8 667.7 1439.4 668.2 1442.4 668.7 1442.9 669.2 1440.6 669.7 1441.3 670.2 1443.8 670.7 1440.1 671.2 1439.2 671.7 1443.4 672.2 1444.2 672.7 1441.3 673.2 1440.3 673.7 1440.5 674.2 1442.1 674.7 1444.7 675.2 1443.7 675.7 1443.8 676.2 1441.4 676.7 1440.9 677.2 1442.9 677.7 1444.3 678.2 1442.6 678.7 1444.3 679.2 1441.1 679.7 1440.3 680.2 1438.5 680.7 1439.4 681.2 1441.9 681.7 1442.1 681.9 1439.1 682.2 1439.8 682.7 1438.5 683.2 1440.5 683.7 1440.5 684.2 1443.7 684.7 1443.2 685.2 1444.0 685.7 1439.8 686.2 1441.0 686.7 1444.2 687.2 1440.7 687.7 1441.4 688.2 1440.1 688.7 1439.6 689.2 1443.0 689.7 1441.7 690.2 1441.5 690.7 1441.8 691.2 1444.0 691.7 1440.1 692.2 1439.7 692.7 1440.0 693.2 1439.9 693.7 1443.3 694.2 1442.4 694.7 1440.0 695.2 1441.5 695.7 1439.9 696.2 1442.5 696.7 1443.6 697.2 1440.2 697.7 1444.2 698.2 1443.8 698.7 1444.9 699.2 1442.1 699.7 1442.3 700.2 1439.3 700.7 1444.2 701.2 1443.5 701.7 1442.6 702.2 1443.2 702.7 1440.1 703.2 1443.2 703.7 1442.5 704.2 1439.6 704.7 1442.4 705.2 1441.0 705.7 1441.6 706.2 1437.9 706.7 1441.0 707.2 1437.3 707.7 1438.3 708.2 1436.8 708.7 1428.5 709.2 1428.0 709.7 1419.6 710.2 1415.5 710.7 1412.9 711.2 1404.4 711.7 1397.2 712.2 1392.0 712.7 1388.7 713.1 1387.8 713.7 1389.7 714.2 1393.9 714.7 1399.5 715.2 1406.0 715.7 1414.1 716.2 1416.5 716.7 1425.1 717.2 1431.1 717.7 1430.2 718.2 1437.7 718.7 1438.7 719.2 1440.6 719.7 1437.1 720.2 1440.0 720.7 1441.8 721.2 1442.2 721.7 1439.3 722.2 1443.7 722.7 1439.0 723.2 1442.3 723.7 1443.6 724.2 1443.0 724.7 1443.3 725.2 1440.6 725.7 1442.8 726.2 1442.4 726.7 1440.1 727.2 1439.4 727.7 1435.0 728.2 1434.9 728.7 1437.4 729.2 1434.0 729.7 1431.4 730.2 1430.1 730.7 1429.2 731.2 1428.9 731.7 1429.3 732.2 1430.2 732.7 1431.6 733.2 1433.3 733.7 1434.9 734.2 1437.9 734.7 1439.0 735.2 1438.2 735.7 1438.5 736.2 1441.5 736.7 1439.4 737.2 1440.4 737.7 1441.8 738.2 1443.4 738.7 1441.5 739.2 1441.3 739.7 1443.3 740.2 1443.5 740.7 1442.8 741.2 1443.9 741.7 1442.0 742.2 1444.8 742.7 1443.2 743.2 1441.0 743.7 1440.9 744.2 1443.6 744.7 1439.9 745.2 1442.6 745.7 1443.4 746.2 1441.9 746.7 1444.7 747.2 1444.2 747.7 1442.5 748.2 1442.0 748.7 1442.8 749.2 1442.9 749.7 1443.3 750.2 1439.9 750.7 1439.4 751.2 1439.8 751.7 1439.9 752.2 1438.2 752.7 1439.0 753.2 1435.3 753.7 1434.4 754.2 1433.7 754.7 1433.5 755.2 1433.7 755.7 1434.4 756.2 1435.3 756.7 1433.8 757.2 1434.9 757.7 1438.9 758.2 1438.0 758.7 1441.8 759.2 1441.3 759.7 1443.1 760.2 1443.2 760.7 1441.9 761.2 1444.0 761.7 1441.4 762.2 1444.3 762.7 1442.8 763.2 1444.9 763.7 1443.0 764.2 1441.6 764.7 1444.7 765.2 1444.2 765.7 1444.5 766.2 1443.1 766.7 1444.7 767.2 1440.9 767.7 1442.7 768.2 1440.6 768.7 1444.1 769.2 1441.4 769.7 1442.4 770.2 1442.5 770.7 1442.1 771.2 1442.4 771.7 1443.3 772.2 1441.7 772.7 1442.0 773.2 1440.8 773.7 1441.0 774.2 1440.7 774.7 1442.0 775.2 1440.7 775.7 1441.2 776.2 1445.2 776.7 1443.4 777.2 1443.9 777.7 1444.7 778.2 1440.9 778.7 1441.9 779.2 1442.6 779.7 1445.0 780.2 1443.6 780.7 1444.4 781.2 1443.0 781.7 1441.8 782.2 1442.9 782.7 1441.3 783.2 1443.8 783.7 1443.1 784.2 1441.0 784.7 1442.6 785.2 1439.9 785.7 1443.1 786.2 1439.2 786.7 1440.9 787.2 1440.1 787.7 1438.3 788.2 1440.7 788.7 1438.1 789.2 1438.4 789.7 1440.1 790.2 1443.8 790.7 1439.2 791.2 1440.2 791.7 1441.0 792.2 1443.5 792.7 1443.3 793.2 1445.0 793.7 1442.6 794.2 1442.3 794.7 1445.3 795.2 1442.5 795.7 1441.3 796.2 1441.0 796.7 1441.1 797.2 1443.2 797.7 1442.3 798.2 1440.4 798.7 1442.4 799.2 1440.3 799.7 1444.1 800.2 1443.8 800.7 1444.3 801.2 1445.2 801.7 1444.0 802.2 1440.6 802.7 1440.8 803.2 1444.6 803.7 1442.6 804.2 1445.3 804.7 1440.5 805.2 1445.0 805.7 1440.4 806.2 1444.4 806.7 1441.7 807.2 1443.9 807.7 1440.2 808.2 1441.2 808.7 1444.0 809.2 1441.6 809.7 1440.6 810.2 1442.4 810.7 1444.0 811.2 1442.7 811.7 1440.4 812.2 1445.5 812.7 1440.2 813.2 1443.3 813.7 1442.5 814.2 1443.1 814.7 1444.5 815.2 1442.5 815.7 1440.1 816.2 1443.4 816.7 1440.8 817.2 1441.8 817.7 1439.7 818.2 1439.4 818.7 1440.3 819.2 1438.9 819.7 1437.8 820.2 1440.6 820.7 1437.6 821.2 1433.6 821.7 1431.5 822.2 1430.0 822.7 1429.5 823.2 1429.6 823.7 1428.5 824.2 1427.9 824.6 1427.7 825.2 1428.1 825.7 1428.9 826.2 1430.0 826.7 1432.0 827.2 1435.3 827.7 1434.1 828.2 1438.0 828.7 1439.6 829.2 1436.0 829.7 1439.1 830.2 1441.9 830.7 1440.2 831.2 1439.4 831.7 1442.5 832.2 1444.3 832.7 1441.2 833.2 1443.8 833.7 1444.8 834.2 1442.7 834.7 1444.4 835.2 1442.8 835.7 1442.6 836.2 1443.3 836.7 1442.3 837.2 1444.5 837.7 1443.7 838.2 1443.7 838.7 1444.5 839.2 1442.2 839.7 1443.4 840.2 1444.4 840.7 1444.8 841.2 1443.9 841.7 1441.1 842.2 1443.0 842.7 1440.6 843.2 1441.6 843.7 1441.0 844.2 1440.7 844.7 1441.1 845.2 1440.9 845.7 1444.3 846.2 1442.7 846.7 1442.1 847.2 1441.4 847.7 1444.2 848.2 1442.2 848.7 1443.6 849.2 1441.5 849.7 1440.7 850.2 1444.2 850.7 1444.1 851.2 1444.1 851.7 1444.6 852.2 1442.6 852.7 1441.3 853.2 1445.0 853.7 1442.4 854.2 1444.5 854.7 1440.1 855.2 1439.5 855.7 1439.7 856.2 1443.8 856.7 1441.9 857.2 1441.4 857.7 1441.6 858.2 1441.9 858.7 1438.4 859.2 1436.2 859.7 1439.5 860.2 1440.1 860.7 1439.6 861.2 1437.2 861.7 1440.6 862.2 1440.2 862.7 1441.9 863.2 1441.9 863.7 1443.7 864.2 1440.3 864.7 1441.1 865.2 1439.5 865.7 1442.9 866.2 1441.8 866.7 1444.4 867.2 1440.2 867.7 1442.8 868.2 1444.3 868.7 1442.0 869.2 1442.6 869.7 1444.5 870.2 1443.9 870.7 1439.0 871.2 1442.1 871.7 1440.6 872.2 1441.1 872.7 1439.7 873.2 1443.5 873.7 1441.3 874.2 1439.3 874.7 1440.3 875.2 1436.5 875.7 1439.0 876.2 1437.1 876.7 1433.0 877.2 1426.4 877.7 1424.3 878.2 1414.4 878.7 1407.6 879.2 1401.6 879.7 1391.9 880.2 1385.6 880.7 1379.0 881.2 1374.8 881.6 1373.7 882.2 1376.1 882.7 1381.4 883.2 1391.0 883.7 1394.7 884.2 1402.6 884.7 1410.2 885.2 1420.4 885.7 1427.2 886.2 1429.1 886.7 1435.9 887.2 1437.1 887.7 1436.0 888.2 1440.1 888.7 1439.0 889.2 1438.0 889.7 1437.6 890.2 1438.4 890.7 1439.1 891.2 1442.0 891.7 1440.1 892.2 1439.7 892.7 1441.2 893.2 1439.1 893.7 1442.2 894.2 1440.3 894.7 1442.1 895.2 1442.0 895.7 1443.4 896.2 1440.7 896.7 1443.6 897.2 1439.4 897.7 1444.6 898.2 1440.7 898.7 1439.2 899.2 1440.9 899.7 1443.4 900.2 1440.1 900.7 1439.8 901.2 1443.4 901.7 1442.9 902.2 1441.2 902.7 1443.5 903.2 1442.7 903.7 1438.7 904.2 1439.6 904.7 1440.7 905.2 1438.9 905.7 1437.7 906.2 1437.4 906.7 1435.0 907.2 1437.6 907.7 1434.9 908.2 1431.2 908.7 1429.0 909.2 1427.2 909.7 1425.9 910.2 1425.3 910.7 1425.5 911.2 1426.5 911.7 1428.1 912.2 1427.2 912.7 1432.0 913.2 1432.0 913.7 1437.1 914.2 1434.4 914.7 1438.2 915.2 1438.0 915.7 1441.5 916.2 1438.6 916.7 1441.5 917.2 1437.3 917.7 1438.6 918.2 1437.5 918.7 1437.7 919.2 1439.3 919.7 1440.3 920.2 1434.4 920.7 1434.0 921.2 1434.7 921.7 1429.4 922.2 1423.5 922.7 1421.6 923.2 1414.3 923.7 1411.2 924.2 1399.4 924.7 1394.5 925.2 1388.6 925.7 1384.6 926.2 1383.1 926.7 1384.5 927.2 1388.5 927.7 1394.4 928.2 1398.6 928.7 1408.1 929.2 1415.5 929.7 1420.5 930.2 1426.9 930.7 1428.4 931.2 1433.8 931.7 1433.9 932.2 1439.1 932.7 1438.1 933.2 1437.3 933.7 1438.2 934.2 1436.5 934.7 1439.0 935.2 1436.8 935.7 1437.7 936.2 1438.8 936.7 1440.8 937.2 1436.7 937.7 1439.9 938.2 1436.1 938.7 1432.8 939.2 1433.9 939.7 1427.5 940.2 1424.0 940.7 1423.2 941.2 1414.0 941.7 1408.7 942.2 1400.2 942.7 1392.0 943.2 1385.4 943.7 1380.6 944.2 1378.5 944.7 1379.4 945.2 1383.3 945.7 1389.3 946.2 1398.9 946.7 1405.3 947.2 1411.3 947.7 1418.3 948.2 1424.9 948.7 1427.2 949.2 1432.4 949.7 1436.9 950.2 1437.8 950.7 1436.2 951.2 1439.9 951.7 1437.9 952.2 1440.7 952.7 1437.8 953.2 1442.2 953.7 1441.3 954.2 1441.6 954.7 1441.8 955.2 1440.0 955.7 1438.6 956.2 1442.6 956.7 1442.6 957.2 1440.2 957.7 1442.9 958.2 1440.8 958.7 1441.0 959.2 1441.3 959.7 1440.7 960.2 1440.8 960.7 1443.7 961.2 1438.9 961.7 1440.7 962.2 1442.2 962.7 1442.6 963.2 1440.2 963.7 1441.7 964.2 1440.6 964.7 1443.1 965.2 1442.6 965.7 1438.8 966.2 1440.7 966.7 1443.3 967.2 1442.3 967.7 1443.9 968.2 1442.6 968.7 1439.4 969.2 1439.3 969.7 1443.8 970.2 1438.8 970.7 1439.4 971.2 1440.9 971.7 1440.2 972.2 1438.7 972.7 1440.8 973.2 1440.8 973.7 1439.3 974.2 1439.8 974.7 1435.7 975.2 1430.6 975.7 1431.9 976.2 1427.8 976.7 1422.0 977.2 1419.9 977.7 1416.5 978.2 1413.6 978.7 1411.7 979.1 1411.2 979.7 1412.3 980.2 1414.6 980.7 1415.4 981.2 1423.5 981.7 1424.5 982.2 1429.3 982.7 1433.7 983.2 1435.5 983.7 1433.8 984.2 1436.6 984.7 1436.5 985.2 1436.6 985.7 1437.5 986.2 1439.5 986.7 1442.2 987.2 1438.8 987.7 1438.4 988.2 1440.9 988.7 1439.0 989.2 1440.5 989.7 1439.2 990.2 1440.3 990.7 1441.4 991.2 1443.2 991.7 1442.1 992.2 1438.8 992.7 1439.8 993.2 1439.7 993.7 1439.6 994.2 1440.9 994.7 1443.2 995.2 1441.4 995.7 1442.1 996.2 1437.4 996.7 1442.1 997.2 1437.6 997.7 1438.9 998.2 1437.4 998.7 1438.6 999.2 1436.6 999.7 1431.9 1000.2 1427.1 1000.7 1427.7 1001.2 1422.4 1001.7 1419.0 1002.2 1410.9 1002.7 1406.8 1003.2 1402.5 1003.7 1399.5 1004.2 1398.3 1004.7 1399.2 1005.2 1401.9 1005.7 1405.9 1006.2 1411.4 1006.7 1414.3 1007.2 1417.4 1007.7 1421.9 1008.2 1429.1 1008.7 1427.3 1009.2 1432.8 1009.7 1433.7 1010.2 1428.7 1010.7 1428.6 1011.2 1427.9 1011.7 1425.9 1012.2 1418.9 1012.7 1409.3 1013.2 1399.0 1013.7 1387.4 1014.2 1373.5 1014.7 1360.4 1015.2 1340.4 1015.7 1324.9 1016.2 1311.6 1016.7 1303.1 1017.1 1300.9 1017.7 1305.9 1018.2 1316.6 1018.7 1332.8 1019.2 1348.1 1019.7 1364.5 1020.2 1378.3 1020.7 1394.5 1021.2 1407.7 1021.7 1414.5 1022.2 1424.9 1022.7 1425.2 1023.2 1431.2 1023.7 1434.7 1024.2 1432.9 1024.7 1438.0 1025.2 1436.9 1025.7 1437.2 1026.2 1438.4 1026.7 1440.8 1027.2 1439.9 1027.7 1439.9 1028.2 1442.1 1028.7 1438.9 1029.2 1440.3 1029.7 1439.6 1030.2 1440.3 1030.7 1442.5 1031.2 1438.7 1031.7 1443.3 1032.2 1442.4 1032.7 1439.0 1033.2 1439.8 1033.7 1440.4 1034.2 1439.1 1034.7 1440.2 1035.2 1442.3 1035.7 1440.4 1036.2 1440.7 1036.7 1441.9 1037.2 1443.3 1037.7 1442.0 1038.2 1439.1 1038.7 1441.4 1039.2 1439.2 1039.7 1439.5 1040.2 1440.5 1040.7 1439.4 1041.2 1440.4 1041.7 1440.6 1042.2 1440.0 1042.7 1443.7 1043.2 1442.8 1043.7 1439.9 1044.2 1443.4 1044.7 1439.8 1045.2 1439.5 1045.7 1443.5 1046.2 1440.6 1046.7 1439.7 1047.2 1440.5 1047.7 1442.3 1048.2 1443.6 1048.7 1443.5 1049.2 1444.4 1049.7 1443.8 1050.2 1444.3 1050.7 1441.2 1051.2 1442.8 1051.7 1439.9 1052.2 1441.2 1052.7 1441.7 1053.2 1444.3 1053.7 1444.6 1054.2 1442.8 1054.7 1442.1 1055.2 1443.4 1055.7 1443.3 1056.2 1441.4 1056.7 1444.6 1057.2 1442.6 1057.7 1443.9 1058.2 1441.6 1058.7 1443.2 1059.2 1442.0 1059.7 1443.0 1060.2 1443.9 1060.7 1439.6 1061.2 1440.0 1061.7 1440.7 1062.2 1443.7 1062.7 1441.7 1063.2 1445.0 1063.7 1441.0 1064.2 1440.5 1064.7 1441.7 1065.2 1442.5 1065.7 1444.3 1066.2 1445.1 1066.7 1441.0 1067.2 1440.3 1067.7 1443.3 1068.2 1443.1 1068.7 1444.8 1069.2 1440.4 1069.7 1444.7 1070.2 1443.6 1070.7 1442.5 1071.2 1444.2 1071.7 1443.4 1072.2 1444.3 1072.7 1442.5 1073.2 1440.6 1073.7 1442.8 1074.2 1440.6 1074.7 1443.9 1075.2 1444.4 1075.7 1444.1 1076.2 1441.2 1076.7 1444.5 1077.2 1441.0 1077.7 1442.4 1078.2 1443.0 1078.7 1444.8 1079.2 1443.3 1079.7 1442.2 1080.2 1439.7 1080.7 1439.8 1081.2 1444.8 1081.7 1444.7 1082.2 1443.4 1082.7 1443.7 1083.2 1441.8 1083.7 1442.8 1084.2 1444.6 1084.7 1440.1 1085.2 1442.0 1085.7 1444.6 1086.2 1443.3 1086.7 1443.3 1087.2 1440.1 1087.7 1442.1 1088.2 1441.4 1088.7 1440.8 1089.2 1442.8 1089.7 1440.6 1090.2 1444.4 1090.7 1441.9 1091.2 1443.2 1091.7 1441.1 1092.2 1440.5 1092.7 1444.9 1093.2 1441.7 1093.7 1443.4 1094.2 1441.6 1094.7 1443.5 1095.2 1444.8 1095.7 1442.7 1096.2 1442.0 1096.7 1441.0 1097.2 1439.4 1097.7 1442.6 1098.2 1440.4 1098.7 1439.4 1099.2 1443.9 1099.7 1443.8 1100.2 1439.1 1100.7 1441.7 1101.2 1441.4 1101.7 1437.6 1102.2 1438.7 1102.7 1433.5 1103.2 1432.6 1103.7 1432.5 1104.2 1429.4 1104.7 1425.0 1105.2 1424.1 1105.7 1422.5 1106.2 1418.8 1106.7 1416.6 1107.2 1415.0 1107.7 1414.3 1108.2 1414.6 1108.7 1415.8 1109.2 1417.7 1109.7 1420.0 1110.2 1425.5 1110.7 1427.7 1111.2 1429.3 1111.7 1430.5 1112.2 1432.3 1112.7 1437.3 1113.2 1433.3 1113.7 1438.2 1114.2 1439.8 1114.7 1437.6 1115.2 1436.1 1115.7 1435.2 1116.2 1438.8 1116.7 1435.2 1117.2 1433.6 1117.7 1433.6 1118.2 1430.3 1118.7 1423.7 1119.2 1420.9 1119.7 1421.7 1120.2 1417.3 1120.7 1412.9 1121.2 1410.3 1121.7 1408.7 1122.2 1408.1 1122.7 1408.7 1123.2 1410.5 1123.7 1413.1 1124.2 1417.3 1124.7 1417.9 1125.2 1421.7 1125.7 1425.4 1126.2 1432.0 1126.7 1434.0 1127.2 1434.3 1127.7 1437.0 1128.2 1436.3 1128.7 1437.0 1129.2 1439.6 1129.7 1440.5 1130.2 1443.8 1130.7 1440.5 1131.2 1443.5 1131.7 1442.8 1132.2 1440.4 1132.7 1441.6 1133.2 1441.1 1133.7 1443.0 1134.2 1439.8 1134.7 1442.8 1135.2 1444.7 1135.7 1443.3 1136.2 1441.7 1136.7 1443.6 1137.2 1442.0 1137.7 1443.5 1138.2 1445.3 1138.7 1442.6 1139.2 1444.8 1139.7 1442.2 1140.2 1445.3 1140.7 1441.9 1141.2 1445.7 1141.7 1441.2 1142.2 1441.5 1142.7 1443.6 1143.2 1442.5 1143.7 1440.9 1144.2 1442.0 1144.7 1441.4 1145.2 1440.5 1145.7 1441.3 1146.2 1445.6 1146.7 1443.3 1147.2 1444.1 1147.7 1440.6 1148.2 1442.4 1148.7 1443.5 1149.2 1443.6 1149.7 1445.6 1150.2 1444.0 1150.7 1445.6 1151.2 1443.9 1151.7 1441.7 1152.2 1440.7 1152.7 1445.6 1153.2 1440.6 1153.7 1442.0 1154.2 1442.5 1154.7 1443.1 1155.2 1444.3 1155.7 1442.5 1156.2 1444.6 1156.7 1441.8 1157.2 1441.4 1157.7 1443.6 1158.2 1442.3 1158.7 1438.8 1159.2 1438.3 1159.7 1438.4 1160.2 1434.3 1160.7 1434.5 1161.2 1430.5 1161.7 1431.9 1162.2 1429.0 1162.7 1427.7 1163.2 1426.9 1163.7 1426.6 1164.2 1426.9 1164.7 1427.7 1165.2 1429.0 1165.7 1432.5 1166.2 1432.6 1166.7 1432.2 1167.2 1436.3 1167.7 1436.5 1168.2 1441.1 1168.7 1442.0 1169.2 1443.2 1169.7 1443.0 1170.2 1443.1 1170.7 1441.9 1171.2 1442.3 1171.7 1445.3 1172.2 1444.9 1172.7 1442.0 1173.2 1441.7 1173.7 1443.3 1174.2 1441.7 1174.7 1445.1 1175.2 1445.7 1175.7 1442.3 1176.2 1445.1 1176.7 1444.0 1177.2 1443.2 1177.7 1440.5 1178.2 1442.9 1178.7 1441.6 1179.2 1440.4 1179.7 1441.8 1180.2 1439.7 1180.7 1444.6 1181.2 1439.3 1181.7 1441.2 1182.2 1442.6 1182.7 1437.1 1183.2 1437.2 1183.7 1437.4 1184.2 1433.7 1184.7 1434.9 1185.2 1430.2 1185.7 1429.4 1186.2 1429.3 1186.7 1428.3 1187.2 1427.7 1187.5 1427.6 1187.7 1427.6 1188.2 1428.2 1188.7 1429.2 1189.2 1432.6 1189.7 1431.5 1190.2 1434.0 1190.7 1438.0 1191.2 1439.0 1191.7 1440.8 1192.2 1442.0 1192.7 1439.2 1193.2 1442.1 1193.7 1444.4 1194.2 1442.0 1194.7 1445.5 1195.2 1442.7 1195.7 1445.0 1196.2 1446.1 1196.7 1444.3 1197.2 1445.2 1197.7 1446.2 1198.2 1446.0 1198.7 1445.2 1199.2 1445.8 1199.7 1445.6 1200.2 1442.5 1200.7 1445.0 1201.2 1443.1 1201.7 1442.5 1202.2 1443.8 1202.7 1446.8 1203.2 1441.6 1203.7 1444.6 1204.2 1441.7 1204.7 1446.4 1205.2 1444.8 1205.7 1446.9 1206.2 1445.4 1206.7 1442.3 1207.2 1446.2 1207.7 1441.7 1208.2 1442.4 1208.7 1444.1 1209.2 1442.8 1209.7 1444.7 1210.2 1445.5 1210.7 1444.1 1211.2 1443.4 1211.7 1441.9 1212.2 1443.1 1212.7 1445.5 1213.2 1442.3 1213.7 1442.1 1214.2 1443.5 1214.7 1442.3 1215.2 1442.1 1215.7 1444.7 1216.2 1446.0 1216.7 1442.2 1217.2 1446.5 1217.7 1442.1 1218.2 1442.0 1218.7 1446.6 1219.2 1443.6 1219.7 1445.9 1220.2 1443.8 1220.7 1442.3 1221.2 1444.7 1221.7 1445.8 1222.2 1444.8 1222.7 1443.4 1223.2 1445.8 1223.7 1446.7 1224.2 1445.5 1224.7 1446.8 1225.2 1444.6 1225.7 1444.8 1226.2 1446.2 1226.7 1442.5 1227.2 1445.1 1227.7 1444.4 1228.2 1443.4 1228.7 1446.1 1229.2 1443.8 1229.7 1446.7 1230.2 1444.9 1230.7 1447.2 1231.2 1443.5 1231.7 1442.6 1232.2 1444.6 1232.7 1442.9 1233.2 1442.9 1233.7 1446.2 1234.2 1443.6 1234.7 1443.9 1235.2 1447.2 1235.7 1442.3 1236.2 1444.2 1236.7 1446.9 1237.2 1445.1 1237.7 1443.3 1238.2 1443.1 1238.7 1444.8 1239.2 1446.2 1239.7 1446.9 1240.2 1443.4 1240.7 1446.0 1241.2 1442.3 1241.7 1445.2 1242.2 1442.3 1242.7 1445.3 1243.2 1446.0 1243.7 1442.1 1244.2 1446.0 1244.7 1443.5 1245.2 1446.2 1245.7 1444.6 1246.2 1442.7 1246.7 1442.2 1247.2 1442.2 1247.7 1445.7 1248.2 1443.8 1248.7 1444.6 1249.2 1443.0 1249.7 1442.0 1250.2 1443.4 1250.7 1446.7 1251.2 1443.1 1251.7 1442.8 1252.2 1445.7 1252.7 1442.7 1253.2 1443.2 1253.7 1443.3 1254.2 1446.7 1254.7 1442.1 1255.2 1441.5 1255.7 1442.7 1256.2 1443.8 1256.7 1443.0 1257.2 1445.8 1257.7 1446.5 1258.2 1441.5 1258.7 1445.4 1259.2 1441.9 1259.7 1444.4 1260.2 1442.8 1260.7 1441.7 1261.2 1443.7 1261.7 1443.3 1262.2 1445.0 1262.7 1440.3 1263.2 1444.2 1263.7 1444.0 1264.2 1442.9 1264.7 1441.7 1265.2 1438.0 1265.7 1438.8 1266.2 1440.8 1266.7 1439.1 1267.2 1439.5 1267.7 1438.1 1268.2 1438.9 1268.4 1439.3 1268.7 1438.4 1269.2 1439.1 1269.7 1440.7 1270.2 1440.9 1270.7 1440.6 1271.2 1440.2 1271.7 1438.2 1272.2 1440.5 1272.7 1441.1 1273.2 1441.4 1273.7 1441.5 1274.2 1440.6 1274.7 1438.7 1275.2 1441.9 1275.7 1444.2 1276.2 1442.3 1276.7 1439.1 1277.2 1439.7 1277.7 1440.2 1278.2 1439.2 1278.7 1439.7 1279.2 1440.0 1279.7 1440.8 1280.2 1439.7 1280.7 1442.1 1281.2 1444.1 1281.7 1443.5 1282.2 1439.2 1282.7 1439.4 1283.2 1440.5 1283.7 1441.2 1284.2 1444.2 1284.7 1444.1 1285.0 1441.2 1285.2 1439.8 1285.7 1441.3 1286.2 1441.2 1286.7 1440.2 1287.2 1444.1 1287.7 1441.9 1288.2 1442.5 1288.7 1443.6 1289.2 1439.3 1289.7 1441.3 1290.2 1442.9 1290.7 1441.7 1291.2 1443.6 1291.7 1441.0 1292.2 1442.9 1292.7 1444.4 1293.2 1443.8 1293.7 1441.3 1294.2 1443.5 1294.7 1442.5 1295.2 1442.4 1295.7 1444.4 1296.2 1444.5 1296.7 1443.8 1297.2 1441.3 1297.7 1442.7 1298.2 1444.4 1298.7 1440.0 1299.2 1440.9 1299.7 1442.8 1300.2 1440.2 1300.7 1440.4 1301.2 1442.3 1301.7 1444.4 1302.2 1443.4 1302.7 1443.5 1303.2 1443.1 1303.7 1444.4 1304.2 1441.3 1304.7 1441.3 1305.2 1445.4 1305.7 1441.7 1306.2 1442.6 1306.7 1443.9" stroke="#7b0000"/>
<g fill="#7b0000" stroke="none"><circle cx="251.4" cy="1427.4" r="4.5"/><circle cx="360.6" cy="1310.0" r="4.5"/><circle cx="370.0" cy="1301.8" r="4.5"/><circle cx="392.3" cy="1174.0" r="4.5"/><circle cx="425.2" cy="1371.1" r="4.5"/><circle cx="458.5" cy="1155.1" r="4.5"/><circle cx="502.3" cy="1361.2" r="4.5"/><circle cx="519.4" cy="1286.8" r="4.5"/><circle cx="606.0" cy="1410.1" r="4.5"/><circle cx="659.1" cy="1369.0" r="4.5"/><circle cx="713.1" cy="1387.8" r="4.5"/><circle cx="731.2" cy="1428.9" r="4.5"/><circle cx="754.7" cy="1433.5" r="4.5"/><circle cx="824.6" cy="1427.7" r="4.5"/><circle cx="881.6" cy="1373.7" r="4.5"/><circle cx="910.3" cy="1425.4" r="4.5"/><circle cx="926.2" cy="1383.1" r="4.5"/><circle cx="944.3" cy="1378.7" r="4.5"/><circle cx="979.1" cy="1411.2" r="4.5"/><circle cx="1004.2" cy="1398.3" r="4.5"/><circle cx="1017.1" cy="1300.9" r="4.5"/><circle cx="1107.8" cy="1414.4" r="4.5"/><circle cx="1122.2" cy="1408.1" r="4.5"/><circle cx="1163.7" cy="1426.6" r="4.5"/><circle cx="1187.5" cy="1427.6" r="4.5"/></g>
<path d="M170.7 1617.4 171.2 1613.6 171.7 1615.8 172.2 1614.7 172.7 1613.9 173.2 1614.9 173.7 1615.1 174.2 1616.2 174.7 1616.9 175.2 1612.8 175.7 1614.2 176.2 1616.2 176.7 1613.3 177.2 1618.4 177.7 1617.5 178.2 1613.0 178.7 1616.0 179.2 1616.3 179.7 1612.9 180.2 1613.9 180.7 1613.8 181.2 1615.5 181.7 1616.1 182.2 1615.5 182.7 1618.1 183.2 1617.5 183.7 1615.2 184.2 1614.1 184.7 1615.0 185.2 1617.8 185.7 1615.0 186.2 1618.6 186.7 1616.2 187.2 1614.4 187.7 1616.8 188.2 1616.8 188.7 1616.0 189.2 1614.7 189.7 1616.7 190.2 1615.8 190.7 1616.8 191.2 1616.2 191.7 1613.9 192.2 1618.3 192.7 1613.3 193.2 1615.0 193.7 1614.2 194.2 1615.2 194.7 1616.7 195.2 1616.4 195.7 1617.3 196.2 1616.0 196.7 1618.0 197.2 1615.3 197.7 1616.4 198.2 1616.2 198.7 1613.5 199.2 1614.7 199.7 1613.9 200.2 1614.8 200.7 1613.5 201.2 1615.1 201.7 1615.5 202.2 1617.1 202.7 1618.2 203.2 1615.8 203.7 1617.0 204.2 1616.4 204.7 1614.8 205.2 1614.6 205.7 1616.1 206.2 1618.0 206.7 1616.9 207.2 1617.5 207.7 1617.7 208.2 1617.1 208.7 1615.0 209.2 1616.1 209.7 1616.5 210.2 1613.7 210.7 1615.3 211.2 1615.7 211.7 1613.8 212.2 1616.9 212.7 1616.8 213.2 1614.2 213.7 1615.1 214.2 1618.8 214.7 1616.2 215.2 1615.2 215.7 1618.6 216.2 1616.4 216.7 1617.3 217.2 1618.9 217.7 1616.9 218.2 1614.7 218.7 1617.9 219.2 1619.1 219.7 1616.2 220.2 1617.6 220.7 1618.8 221.2 1614.8 221.7 1618.3 222.2 1616.6 222.7 1617.1 223.2 1619.2 223.7 1618.6 224.2 1614.8 224.7 1616.4 225.2 1617.8 225.7 1618.6 226.2 1615.0 226.7 1618.0 227.2 1617.0 227.7 1614.5 228.2 1617.0 228.7 1616.6 229.2 1616.6 229.7 1615.7 230.2 1616.2 230.7 1618.5 231.2 1616.1 231.7 1619.0 232.2 1618.2 232.7 1618.5 233.2 1616.5 233.7 1615.3 234.2 1614.4 234.7 1616.6 235.2 1617.0 235.7 1616.6 236.2 1615.0 236.7 1614.7 237.2 1619.4 237.7 1616.7 238.2 1619.4 238.7 1619.2 239.2 1617.8 239.7 1619.4 240.2 1619.9 240.7 1618.2 241.2 1614.6 241.7 1618.2 242.2 1617.4 242.7 1619.1 243.2 1616.7 243.7 1618.6 244.2 1616.8 244.7 1618.0 245.2 1617.3 245.7 1616.0 246.2 1616.6 246.7 1615.2 247.2 1618.3 247.7 1619.9 248.2 1618.2 248.7 1615.9 249.2 1617.9 249.7 1616.4 250.2 1617.1 250.7 1615.0 251.2 1620.4 251.7 1618.0 252.2 1618.2 252.7 1615.6 253.2 1615.8 253.7 1620.0 254.2 1619.9 254.7 1618.9 255.2 1619.1 255.7 1620.4 256.2 1619.0 256.7 1618.6 257.2 1616.1 257.7 1616.6 258.2 1616.5 258.7 1615.6 259.2 1617.6 259.7 1615.6 260.2 1620.5 260.7 1618.9 261.2 1617.3 261.7 1616.9 262.2 1619.6 262.7 1620.5 263.2 1621.1 263.7 1616.0 264.2 1618.0 264.7 1621.0 265.2 1618.9 265.7 1620.1 266.2 1617.8 266.7 1620.5 267.2 1621.0 267.7 1617.2 268.2 1617.6 268.7 1618.0 269.2 1621.1 269.7 1616.1 270.2 1619.2 270.7 1619.0 271.2 1620.1 271.7 1616.3 272.2 1616.7 272.7 1620.3 273.2 1621.2 273.7 1618.9 274.2 1618.8 274.7 1619.9 275.2 1617.1 275.7 1620.6 276.2 1616.1 276.7 1619.5 277.2 1620.8 277.7 1616.8 278.2 1618.1 278.7 1617.6 279.2 1620.5 279.7 1617.1 280.2 1618.4 280.7 1619.4 281.2 1616.4 281.7 1618.3 282.2 1617.2 282.7 1617.8 283.2 1617.2 283.7 1618.5 284.2 1616.5 284.7 1617.7 285.2 1617.6 285.7 1620.2 286.2 1620.2 286.7 1618.7 287.2 1617.0 287.7 1619.4 288.2 1619.4 288.7 1619.4 289.2 1618.6 289.7 1618.0 290.2 1616.7 290.7 1617.3 291.2 1617.4 291.7 1618.3 292.2 1618.2 292.7 1619.1 293.2 1621.5 293.7 1621.8 294.2 1618.9 294.7 1619.9 295.2 1622.0 295.7 1620.5 296.2 1617.1 296.7 1619.2 297.2 1621.2 297.7 1619.1 298.2 1622.1 298.7 1618.1 299.2 1621.3 299.7 1620.7 300.2 1620.7 300.7 1618.8 301.2 1618.7 301.7 1619.4 302.2 1620.9 302.7 1619.1 303.2 1622.4 303.7 1620.3 304.2 1619.5 304.7 1620.6 305.2 1617.8 305.7 1621.0 306.2 1617.9 306.7 1621.7 307.2 1617.4 307.7 1620.8 308.2 1621.3 308.7 1618.2 309.2 1617.8 309.7 1621.4 310.2 1618.8 310.7 1620.0 311.2 1619.0 311.7 1618.1 312.2 1622.5 312.7 1618.9 313.2 1619.9 313.7 1619.3 314.2 1621.8 314.7 1621.8 315.2 1622.1 315.7 1618.9 316.2 1620.8 316.7 1617.3 317.2 1618.8 317.7 1620.2 318.2 1619.2 318.7 1622.8 319.2 1621.0 319.7 1622.5 320.2 1618.6 320.7 1620.9 321.2 1619.5 321.7 1621.1 322.2 1621.5 322.7 1621.4 323.2 1618.9 323.7 1622.3 324.2 1619.5 324.7 1620.7 325.2 1622.7 325.7 1621.8 326.2 1618.4 326.7 1621.9 327.2 1619.2 327.7 1619.2 328.2 1619.6 328.7 1619.8 329.2 1622.5 329.7 1620.9 330.2 1619.3 330.7 1619.0 331.2 1622.5 331.7 1617.8 332.2 1618.2 332.7 1622.8 333.2 1621.5 333.7 1621.4 334.2 1620.8 334.7 1618.1 335.2 1619.7 335.7 1619.6 336.2 1619.9 336.7 1620.1 337.2 1621.6 337.7 1617.7 338.2 1621.0 338.7 1621.7 339.2 1621.8 339.7 1618.1 340.2 1618.4 340.7 1618.4 341.2 1619.7 341.7 1619.3 342.2 1619.5 342.7 1619.3 343.2 1619.1 343.7 1621.0 344.2 1619.7 344.7 1620.0 345.2 1619.9 345.7 1622.1 346.2 1621.0 346.7 1621.4 347.2 1621.3 347.7 1619.3 348.2 1621.1 348.7 1622.4 349.2 1620.2 349.7 1619.8 350.2 1620.4 350.7 1619.4 351.2 1622.2 351.7 1621.8 352.2 1623.1 352.7 1619.5 353.2 1621.4 353.7 1621.0 354.2 1618.2 354.7 1618.3 355.2 1622.0 355.7 1618.8 356.2 1621.6 356.7 1620.9 357.2 1622.2 357.7 1618.7 358.2 1621.5 358.7 1621.1 359.2 1618.5 359.7 1623.5 360.2 1618.8 360.7 1623.5 361.2 1618.1 361.7 1619.1 362.2 1621.4 362.7 1623.1 363.2 1623.4 363.7 1620.3 364.2 1618.7 364.7 1621.9 365.2 1623.2 365.7 1623.6 366.2 1619.7 366.7 1618.3 367.2 1620.9 367.7 1623.4 368.2 1621.7 368.7 1621.1 369.2 1623.8 369.7 1619.6 370.2 1618.8 370.7 1620.9 371.2 1623.3 371.7 1619.6 372.2 1621.4 372.7 1623.6 373.2 1618.9 373.7 1623.6 374.2 1619.0 374.7 1618.7 375.2 1620.4 375.7 1623.0 376.2 1621.5 376.7 1618.5 377.2 1621.6 377.7 1619.2 378.2 1619.4 378.7 1622.8 379.2 1621.6 379.7 1622.5 380.2 1618.6 380.7 1619.6 381.2 1623.9 381.7 1623.6 382.2 1621.0 382.7 1623.2 383.2 1622.0 383.7 1623.5 384.2 1621.2 384.7 1621.8 385.2 1621.2 385.7 1618.7 386.2 1621.5 386.7 1621.1 387.2 1620.8 387.7 1619.6 388.2 1621.1 388.7 1623.1 389.2 1620.6 389.7 1618.6 390.2 1621.9 390.7 1623.2 391.2 1620.8 391.7 1620.4 392.2 1621.1 392.7 1619.3 393.2 1623.5 393.7 1619.9 394.2 1622.0 394.7 1620.8 395.2 1622.8 395.7 1623.0 396.2 1621.1 396.7 1618.8 397.2 1620.0 397.7 1619.0 398.2 1620.1 398.7 1619.1 399.2 1618.0 399.7 1621.2 400.2 1619.5 400.7 1620.8 401.2 1616.6 401.7 1620.0 402.2 1619.6 402.7 1613.1 403.2 1614.6 403.7 1612.6 404.2 1607.4 404.7 1604.2 405.2 1601.9 405.6 1601.2 406.2 1602.6 406.7 1605.4 407.2 1608.7 407.7 1612.9 408.2 1616.8 408.7 1615.9 409.2 1618.8 409.7 1618.1 410.2 1617.1 410.7 1622.2 411.2 1622.6 411.7 1617.4 412.2 1621.9 412.7 1620.3 413.2 1618.6 413.7 1622.9 414.2 1619.4 414.7 1619.6 415.2 1623.3 415.7 1620.1 416.2 1623.3 416.7 1617.9 417.2 1618.7 417.7 1621.1 418.2 1621.2 418.7 1620.8 419.2 1622.3 419.7 1621.6 420.2 1620.7 420.7 1619.2 421.2 1618.3 421.7 1619.7 422.2 1618.8 422.7 1621.5 423.2 1622.3 423.7 1622.4 424.2 1622.5 424.7 1620.0 425.2 1623.3 425.7 1621.2 426.2 1622.5 426.7 1623.4 427.2 1621.9 427.7 1622.2 428.2 1622.3 428.7 1622.1 429.2 1623.0 429.7 1619.5 430.2 1621.0 430.7 1619.7 431.2 1621.2 431.7 1619.2 432.2 1622.5 432.7 1620.2 433.2 1623.2 433.7 1619.2 434.2 1621.9 434.7 1619.5 435.2 1620.9 435.7 1620.1 436.2 1618.0 436.7 1621.2 437.2 1622.6 437.7 1618.6 438.2 1617.8 438.7 1617.5 439.2 1621.0 439.7 1622.4 440.2 1617.6 440.7 1617.9 441.2 1621.2 441.7 1618.9 442.2 1621.7 442.7 1620.4 443.2 1620.8 443.7 1621.6 444.2 1618.4 444.7 1616.7 445.2 1616.7 445.7 1620.9 446.2 1618.5 446.7 1616.6 447.2 1620.7 447.7 1615.8 448.2 1615.3 448.7 1615.4 449.2 1614.3 449.7 1616.1 450.2 1615.3 450.7 1617.6 451.2 1613.4 451.7 1612.7 452.2 1614.7 452.7 1612.5 453.2 1614.0 453.7 1608.7 454.2 1607.0 454.7 1607.7 455.2 1604.2 455.7 1601.2 456.2 1596.6 456.7 1593.4 457.2 1583.5 457.7 1578.6 458.2 1563.7 458.7 1551.5 459.2 1537.8 459.7 1521.7 460.2 1505.2 460.7 1493.8 461.2 1479.0 461.7 1469.4 462.2 1465.1 462.7 1467.0 463.2 1474.6 463.7 1486.7 464.2 1501.8 464.7 1519.9 465.2 1531.0 465.7 1548.5 466.2 1561.2 466.7 1573.8 467.2 1579.2 467.7 1589.5 468.2 1593.5 468.7 1600.6 469.2 1601.8 469.7 1605.2 470.2 1610.8 470.7 1612.2 471.2 1609.9 471.7 1613.1 472.2 1614.1 472.7 1613.0 473.2 1615.3 473.7 1617.7 474.2 1617.9 474.7 1615.2 475.2 1615.2 475.7 1618.6 476.2 1619.1 476.7 1619.1 477.2 1617.7 477.7 1617.1 478.2 1618.9 478.7 1617.3 479.2 1617.3 479.7 1621.0 480.2 1621.4 480.7 1617.0 481.2 1620.9 481.7 1618.5 482.2 1618.9 482.7 1621.3 483.2 1618.3 483.7 1619.0 484.2 1620.1 484.7 1619.2 485.2 1620.5 485.7 1621.1 486.2 1619.7 486.7 1620.5 487.2 1618.6 487.7 1618.8 488.2 1617.4 488.7 1618.8 489.2 1620.5 489.7 1618.4 490.2 1621.4 490.7 1617.2 491.2 1618.9 491.7 1617.9 492.2 1619.7 492.7 1620.2 493.2 1622.1 493.7 1621.8 494.2 1618.8 494.7 1618.7 495.2 1621.8 495.7 1619.1 496.2 1620.7 496.7 1617.7 497.2 1619.0 497.7 1617.5 498.2 1619.1 498.7 1622.1 499.2 1619.4 499.7 1620.6 500.2 1616.8 500.7 1617.7 501.2 1619.5 501.7 1620.7 502.2 1621.5 502.7 1619.5 503.2 1620.2 503.7 1616.8 504.2 1619.5 504.7 1619.1 505.2 1617.8 505.7 1616.0 506.2 1619.5 506.7 1618.0 507.2 1614.6 507.7 1616.0 508.2 1615.8 508.7 1617.3 509.2 1614.0 509.7 1617.2 510.2 1612.6 510.7 1612.5 511.2 1615.3 511.7 1613.1 512.2 1613.7 512.7 1610.4 513.2 1608.1 513.7 1611.1 514.2 1606.0 514.7 1606.6 515.2 1602.9 515.7 1596.7 516.2 1595.1 516.7 1589.4 517.2 1580.8 517.7 1574.4 518.2 1560.6 518.7 1553.6 519.2 1540.0 519.7 1528.0 520.2 1515.8 520.7 1500.1 521.2 1489.2 521.7 1479.5 522.2 1473.1 522.7 1470.9 523.2 1473.1 523.7 1479.5 524.2 1489.2 524.7 1499.6 525.2 1515.5 525.7 1526.5 526.2 1538.2 526.7 1554.1 527.2 1561.4 527.7 1574.5 528.2 1578.7 528.7 1588.1 529.2 1595.8 529.7 1596.6 530.2 1599.3 530.7 1604.0 531.2 1607.9 531.7 1607.3 532.2 1610.1 532.7 1612.9 533.2 1610.7 533.7 1615.3 534.2 1614.9 534.7 1616.8 535.2 1617.4 535.7 1613.5 536.2 1618.0 536.7 1616.1 537.2 1617.0 537.7 1617.8 538.2 1619.0 538.7 1618.3 539.2 1617.5 539.7 1617.3 540.2 1620.5 540.7 1616.5 541.2 1617.9 541.7 1617.9 542.2 1616.9 542.7 1617.2 543.2 1622.1 543.7 1618.2 544.2 1617.4 544.7 1620.7 545.2 1620.9 545.7 1620.2 546.2 1617.6 546.7 1622.8 547.2 1617.7 547.7 1618.9 548.2 1620.0 548.7 1619.0 549.2 1621.2 549.7 1620.4 550.2 1621.6 550.7 1622.1 551.2 1621.2 551.7 1621.3 552.2 1619.5 552.7 1618.3 553.2 1623.0 553.7 1620.9 554.2 1618.8 554.7 1619.2 555.2 1619.6 555.7 1622.7 556.2 1622.1 556.7 1622.5 557.2 1622.8 557.7 1623.2 558.2 1621.6 558.7 1621.1 559.2 1620.1 559.7 1622.5 560.2 1618.8 560.7 1619.6 561.2 1619.0 561.7 1621.7 562.2 1621.8 562.7 1624.0 563.2 1620.2 563.7 1619.6 564.2 1620.1 564.7 1622.5 565.2 1620.6 565.7 1618.6 566.2 1619.4 566.7 1619.5 567.2 1623.4 567.7 1624.1 568.2 1621.3 568.7 1621.2 569.2 1622.3 569.7 1623.2 570.2 1622.3 570.7 1621.1 571.2 1623.7 571.7 1620.8 572.2 1620.4 572.7 1618.7 573.2 1620.4 573.7 1619.5 574.2 1622.5 574.7 1619.4 575.2 1619.7 575.7 1622.9 576.2 1623.9 576.7 1620.6 577.2 1621.4 577.7 1622.7 578.2 1619.9 578.7 1620.9 579.2 1622.5 579.7 1623.7 580.2 1623.1 580.7 1624.1 581.2 1621.0 581.7 1619.7 582.2 1624.3 582.7 1618.9 583.2 1620.6 583.7 1618.8 584.2 1621.3 584.7 1622.2 585.2 1623.5 585.7 1621.6 586.2 1622.3 586.7 1620.9 587.2 1622.2 587.7 1622.3 588.2 1623.4 588.7 1619.2 589.2 1620.9 589.7 1619.2 590.2 1620.5 590.7 1619.5 591.2 1620.5 591.7 1622.2 592.2 1622.7 592.7 1621.4 593.2 1620.1 593.7 1620.5 594.2 1619.0 594.7 1621.9 595.2 1620.2 595.7 1622.4 596.2 1619.8 596.7 1620.1 597.2 1618.7 597.7 1622.7 598.2 1622.9 598.7 1622.8 599.2 1622.8 599.7 1620.2 600.2 1619.6 600.7 1623.4 601.2 1623.1 601.7 1621.8 602.2 1623.6 602.7 1624.2 603.2 1622.1 603.7 1618.8 604.2 1622.2 604.7 1619.0 605.2 1619.2 605.7 1623.0 606.2 1622.4 606.7 1623.9 607.2 1621.3 607.7 1620.0 608.2 1620.4 608.7 1622.6 609.2 1619.0 609.7 1623.9 610.2 1622.5 610.7 1622.3 611.2 1622.8 611.7 1620.9 612.2 1623.1 612.7 1620.6 613.2 1623.9 613.7 1622.9 614.2 1619.0 614.7 1620.6 615.2 1621.3 615.7 1621.4 616.2 1621.1 616.7 1619.6 617.2 1619.4 617.7 1622.6 618.2 1621.7 618.7 1622.9 619.2 1619.9 619.7 1619.8 620.2 1622.6 620.7 1623.2 621.2 1618.8 621.7 1624.0 622.2 1622.5 622.7 1623.1 623.2 1622.6 623.7 1621.7 624.2 1618.8 624.7 1620.3 625.2 1620.2 625.7 1619.2 626.2 1618.9 626.7 1620.7 627.2 1619.0 627.7 1620.4 628.2 1619.5 628.7 1619.8 629.2 1623.1 629.7 1621.4 630.2 1622.3 630.7 1619.5 631.2 1619.7 631.7 1622.0 632.2 1622.7 632.7 1623.1 633.2 1622.1 633.7 1622.0 634.2 1618.6 634.7 1622.0 635.2 1622.2 635.7 1620.9 636.2 1619.0 636.7 1623.0 637.2 1618.7 637.7 1624.0 638.2 1623.4 638.7 1621.4 639.2 1623.5 639.7 1619.1 640.2 1621.1 640.7 1623.4 641.2 1620.2 641.7 1622.1 642.2 1621.4 642.7 1622.6 643.2 1620.7 643.7 1622.3 644.2 1619.9 644.7 1622.4 645.2 1623.0 645.7 1620.9 646.2 1619.1 646.7 1621.3 647.2 1621.6 647.7 1620.1 648.2 1619.1 648.7 1619.6 649.2 1621.1 649.7 1622.3 650.2 1622.9 650.7 1620.0 651.2 1621.6 651.7 1623.6 652.2 1621.6 652.7 1618.8 653.2 1618.7 653.7 1623.6 654.2 1619.3 654.7 1620.7 655.2 1621.4 655.7 1620.6 656.2 1619.7 656.7 1623.4 657.2 1623.6 657.7 1621.2 658.2 1623.6 658.7 1620.1 659.2 1619.6 659.7 1621.3 660.2 1623.8 660.7 1619.3 661.2 1621.6 661.7 1621.5 662.2 1622.5 662.7 1620.9 663.2 1622.2 663.7 1622.8 664.2 1620.2 664.7 1623.5 665.2 1621.5 665.7 1620.8 666.2 1619.4 666.7 1620.2 667.2 1621.7 667.7 1620.9 668.2 1619.4 668.7 1621.4 669.2 1621.8 669.7 1620.6 670.2 1619.6 670.7 1620.6 671.2 1619.3 671.7 1620.4 672.2 1623.3 672.7 1619.3 673.2 1621.8 673.7 1619.0 674.2 1623.1 674.7 1619.1 675.2 1618.4 675.7 1622.7 676.2 1622.9 676.7 1618.6 677.2 1623.0 677.7 1618.4 678.2 1620.9 678.7 1622.7 679.2 1618.0 679.7 1622.3 680.2 1623.1 680.7 1619.6 681.2 1622.5 681.7 1620.1 682.2 1622.2 682.7 1621.1 683.2 1619.1 683.7 1621.9 684.2 1621.6 684.7 1617.9 685.2 1622.3 685.7 1621.0 686.2 1618.4 686.7 1619.6 687.2 1620.3 687.7 1622.6 688.2 1619.8 688.7 1620.2 689.2 1620.7 689.7 1618.8 690.2 1622.9 690.7 1622.7 691.2 1621.6 691.7 1621.1 692.2 1622.2 692.7 1621.6 693.2 1618.9 693.7 1618.3 694.2 1620.2 694.7 1619.8 695.2 1621.1 695.7 1618.6 696.2 1618.1 696.7 1621.5 697.2 1617.7 697.7 1621.5 698.2 1622.1 698.7 1618.0 699.2 1616.9 699.7 1619.5 700.2 1617.0 700.7 1617.0 701.2 1618.2 701.7 1620.3 702.2 1617.1 702.7 1616.8 703.2 1618.6 703.7 1618.5 704.2 1617.9 704.7 1620.3 705.2 1616.5 705.7 1619.3 706.2 1617.9 706.7 1617.1 707.2 1616.1 707.7 1613.4 708.2 1610.7 708.7 1606.4 709.2 1606.6 709.7 1602.1 710.2 1598.9 710.7 1593.5 711.2 1588.2 711.7 1584.8 712.2 1582.7 712.6 1582.1 713.2 1583.3 713.7 1586.0 714.2 1587.9 714.7 1594.9 715.2 1599.5 715.7 1600.1 716.2 1605.6 716.7 1609.9 717.2 1611.5 717.7 1613.6 718.2 1611.3 718.7 1613.6 719.2 1616.1 719.7 1614.9 720.2 1618.0 720.7 1614.9 721.2 1616.2 721.7 1617.3 722.2 1616.7 722.7 1619.5 723.2 1619.3 723.7 1618.7 724.2 1617.4 724.7 1620.7 725.2 1621.2 725.7 1619.3 726.2 1619.1 726.7 1621.3 727.2 1618.7 727.7 1621.7 728.2 1618.6 728.7 1616.8 729.2 1620.5 729.7 1616.8 730.2 1617.0 730.7 1619.4 731.2 1621.8 731.7 1617.3 732.2 1618.4 732.7 1617.9 733.2 1617.8 733.7 1621.9 734.2 1619.0 734.7 1617.0 735.2 1621.4 735.7 1618.0 736.2 1617.2 736.7 1619.9 737.2 1620.4 737.7 1621.7 738.2 1617.9 738.7 1621.5 739.2 1620.5 739.7 1621.8 740.2 1618.5 740.7 1620.2 741.2 1621.9 741.7 1620.3 742.2 1616.8 742.7 1619.3 743.2 1618.3 743.7 1620.0 744.2 1617.4 744.7 1618.4 745.2 1617.1 745.7 1621.1 746.2 1619.5 746.7 1621.2 747.2 1617.4 747.7 1619.7 748.2 1619.3 748.7 1618.9 749.2 1621.7 749.7 1618.0 750.2 1616.8 750.7 1619.4 751.2 1616.6 751.7 1618.3 752.2 1620.3 752.7 1619.0 753.2 1619.3 753.7 1620.5 754.2 1616.4 754.7 1619.1 755.2 1617.4 755.7 1620.2 756.2 1617.9 756.7 1619.7 757.2 1617.4 757.7 1619.8 758.2 1618.0 758.7 1619.2 759.2 1620.1 759.7 1620.3 760.2 1621.9 760.7 1619.2 761.2 1616.7 761.7 1618.9 762.2 1621.9 762.7 1621.9 763.2 1620.9 763.7 1617.1 764.2 1617.7 764.7 1620.7 765.2 1620.9 765.7 1616.7 766.2 1619.5 766.7 1618.9 767.2 1620.2 767.7 1618.1 768.2 1618.5 768.7 1617.0 769.2 1616.9 769.7 1617.9 770.2 1621.2 770.7 1618.2 771.2 1619.4 771.7 1619.3 772.2 1618.0 772.7 1617.1 773.2 1620.1 773.7 1619.3 774.2 1621.3 774.7 1617.7 775.2 1616.8 775.7 1617.1 776.2 1616.8 776.7 1619.4 777.2 1619.1 777.7 1619.7 778.2 1621.6 778.7 1618.6 779.2 1617.3 779.7 1617.2 780.2 1617.0 780.7 1618.5 781.2 1618.3 781.7 1618.9 782.2 1617.1 782.7 1617.6 783.2 1618.6 783.7 1619.2 784.2 1616.0 784.7 1616.9 785.2 1617.2 785.7 1618.1 786.2 1618.5 786.7 1616.7 787.2 1616.9 787.7 1616.7 788.2 1619.8 788.7 1620.0 789.2 1619.4 789.7 1620.4 790.2 1617.4 790.7 1614.8 791.2 1618.4 791.7 1614.4 792.2 1617.7 792.7 1619.1 793.2 1613.2 793.7 1616.4 794.2 1614.3 794.7 1612.5 795.2 1613.4 795.7 1611.4 796.2 1611.9 796.7 1608.3 797.2 1610.0 797.7 1606.1 798.2 1608.5 798.7 1604.8 799.2 1605.7 799.7 1602.0 800.2 1601.1 800.7 1600.5 801.2 1600.3 801.7 1600.5 802.2 1601.1 802.7 1601.9 803.2 1601.6 803.7 1601.8 804.2 1604.8 804.7 1609.6 805.2 1607.7 805.7 1610.5 806.2 1611.4 806.7 1611.8 807.2 1613.0 807.7 1616.5 808.2 1613.2 808.7 1615.3 809.2 1618.5 809.7 1616.1 810.2 1618.5 810.7 1616.7 811.2 1615.5 811.7 1619.8 812.2 1615.5 812.7 1618.6 813.2 1615.8 813.7 1617.2 814.2 1620.5 814.7 1615.5 815.2 1617.7 815.7 1619.9 816.2 1620.6 816.7 1616.1 817.2 1617.4 817.7 1616.4 818.2 1618.7 818.7 1616.9 819.2 1618.4 819.7 1616.4 820.2 1618.6 820.7 1617.4 821.2 1616.8 821.7 1615.9 822.2 1618.0 822.7 1618.5 823.2 1619.0 823.7 1616.5 824.2 1618.2 824.7 1617.6 825.2 1621.5 825.7 1617.4 826.2 1618.2 826.7 1617.0 827.2 1616.8 827.7 1618.1 828.2 1620.7 828.7 1619.8 829.2 1620.6 829.7 1619.8 830.2 1618.0 830.7 1618.2 831.2 1616.5 831.7 1617.2 832.2 1616.3 832.7 1617.8 833.2 1617.4 833.7 1620.0 834.2 1618.3 834.7 1616.4 835.2 1618.1 835.7 1617.9 836.2 1617.8 836.7 1618.9 837.2 1620.0 837.7 1616.6 838.2 1621.6 838.7 1617.5 839.2 1618.7 839.7 1619.3 840.2 1621.2 840.7 1616.7 841.2 1619.1 841.7 1620.2 842.2 1617.5 842.7 1617.7 843.2 1618.7 843.7 1621.1 844.2 1620.4 844.7 1621.5 845.2 1619.7 845.7 1618.0 846.2 1621.7 846.7 1618.6 847.2 1618.1 847.7 1617.8 848.2 1616.5 848.7 1618.4 849.2 1621.6 849.7 1619.6 850.2 1618.4 850.7 1617.1 851.2 1618.2 851.7 1620.1 852.2 1616.2 852.7 1617.7 853.2 1616.3 853.7 1620.7 854.2 1618.7 854.7 1620.8 855.2 1621.4 855.7 1620.9 856.2 1617.6 856.7 1618.9 857.2 1617.5 857.7 1616.3 858.2 1620.5 858.7 1618.8 859.2 1617.8 859.7 1621.3 860.2 1617.1 860.7 1617.8 861.2 1616.7 861.7 1620.0 862.2 1617.1 862.7 1619.4 863.2 1620.9 863.7 1617.7 864.2 1619.6 864.7 1620.5 865.2 1617.9 865.7 1618.0 866.2 1617.7 866.7 1615.8 867.2 1616.8 867.7 1616.4 868.2 1618.6 868.7 1617.8 869.2 1620.7 869.7 1616.2 870.2 1617.0 870.7 1617.6 871.2 1620.6 871.7 1615.4 872.2 1615.8 872.7 1617.6 873.2 1620.5 873.7 1615.4 874.2 1620.7 874.7 1617.3 875.2 1618.0 875.7 1618.6 876.2 1618.9 876.7 1618.9 877.2 1618.0 877.7 1619.0 878.2 1617.2 878.7 1617.5 879.2 1617.5 879.7 1617.4 880.2 1618.8 880.7 1615.9 881.2 1618.2 881.7 1615.5 882.2 1618.5 882.7 1618.4 883.2 1614.4 883.7 1613.6 884.2 1614.2 884.7 1613.2 885.2 1617.2 885.7 1615.8 886.2 1612.7 886.7 1615.3 887.2 1610.7 887.7 1612.4 888.2 1607.0 888.7 1609.1 889.2 1604.9 889.7 1606.7 890.2 1602.8 890.7 1603.1 891.2 1601.2 891.7 1600.1 892.2 1599.1 892.7 1598.5 893.2 1598.3 893.7 1598.5 894.2 1599.1 894.7 1600.0 895.2 1599.7 895.7 1605.2 896.2 1602.2 896.7 1605.1 897.2 1608.1 897.7 1606.9 898.2 1607.3 898.7 1612.6 899.2 1614.3 899.7 1613.5 900.2 1615.3 900.7 1613.1 901.2 1612.0 901.7 1613.1 902.2 1613.9 902.7 1613.5 903.2 1615.6 903.7 1615.6 904.2 1617.4 904.7 1614.6 905.2 1616.0 905.7 1618.3 906.2 1617.7 906.7 1618.1 907.2 1615.1 907.7 1617.5 908.2 1614.7 908.7 1615.4 909.2 1617.0 909.7 1618.2 910.2 1617.3 910.7 1618.0 911.2 1614.7 911.7 1619.5 912.2 1615.4 912.7 1620.0 913.2 1617.7 913.7 1616.6 914.2 1615.5 914.7 1618.9 915.2 1616.5 915.7 1615.0 916.2 1616.9 916.7 1620.0 917.2 1615.5 917.7 1616.9 918.2 1619.2 918.7 1615.5 919.2 1619.8 919.7 1616.7 920.2 1617.4 920.7 1619.3 921.2 1615.7 921.7 1618.7 922.2 1615.2 922.7 1620.2 923.2 1617.9 923.7 1618.3 924.2 1616.4 924.7 1616.1 925.2 1619.3 925.7 1617.0 926.2 1619.5 926.7 1616.6 927.2 1615.1 927.7 1619.6 928.2 1619.2 928.7 1617.0 929.2 1614.8 929.7 1615.8 930.2 1617.5 930.7 1618.6 931.2 1617.0 931.7 1619.1 932.2 1618.7 932.7 1619.5 933.2 1618.2 933.7 1616.5 934.2 1618.3 934.7 1614.3 935.2 1614.5 935.7 1617.8 936.2 1617.4 936.7 1614.2 937.2 1616.9 937.7 1618.4 938.2 1619.3 938.7 1615.0 939.2 1619.0 939.7 1616.3 940.2 1614.1 940.7 1615.3 941.2 1618.4 941.7 1617.6 942.2 1615.4 942.7 1615.1 943.2 1615.2 943.7 1617.4 944.2 1613.5 944.7 1614.0 945.2 1613.7 945.7 1615.7 946.2 1612.7 946.7 1613.6 947.2 1614.7 947.7 1609.2 948.2 1611.8 948.7 1610.1 949.2 1605.1 949.7 1605.7 950.2 1601.5 950.7 1597.5 951.2 1596.8 951.7 1592.7 952.2 1591.4 952.7 1589.3 953.2 1587.8 953.7 1587.3 954.2 1587.8 954.7 1589.2 955.2 1591.4 955.7 1596.2 956.2 1598.4 956.7 1599.4 957.2 1602.2 957.7 1603.5 958.2 1606.0 958.7 1609.1 959.2 1609.7 959.7 1612.3 960.2 1611.6 960.7 1613.0 961.2 1612.6 961.7 1614.7 962.2 1612.9 962.7 1615.5 963.2 1618.0 963.7 1616.3 964.2 1614.7 964.7 1617.0 965.2 1616.8 965.7 1617.3 966.2 1613.6 966.7 1618.1 967.2 1614.7 967.7 1614.3 968.2 1616.3 968.7 1613.6 969.2 1613.8 969.7 1618.9 970.2 1617.4 970.7 1614.0 971.2 1618.0 971.7 1616.8 972.2 1614.2 972.7 1614.6 973.2 1616.8 973.7 1619.3 974.2 1615.8 974.7 1618.7 975.2 1616.4 975.7 1614.7 976.2 1617.4 976.7 1618.6 977.2 1618.8 977.7 1616.9 978.2 1615.2 978.7 1615.7 979.2 1614.8 979.7 1614.8 980.2 1617.0 980.7 1615.0 981.2 1618.1 981.7 1618.5 982.2 1618.9 982.7 1617.6 983.2 1615.7 983.7 1615.6 984.2 1618.6 984.7 1618.2 985.2 1618.5 985.7 1618.2 986.2 1618.8 986.7 1614.3 987.2 1614.7 987.7 1614.1 988.2 1617.0 988.7 1616.5 989.2 1619.1 989.7 1616.1 990.2 1615.8 990.7 1614.0 991.2 1618.8 991.7 1613.9 992.2 1617.8 992.7 1615.7 993.2 1616.0 993.7 1616.8 994.2 1617.4 994.7 1614.8 995.2 1614.6 995.7 1616.1 996.2 1614.8 996.7 1615.7 997.2 1615.2 997.7 1616.1 998.2 1619.1 998.7 1615.3 999.2 1614.9 999.7 1614.4 1000.2 1613.7 1000.7 1616.8 1001.2 1617.2 1001.7 1615.2 1002.2 1618.5 1002.7 1617.4 1003.2 1617.9 1003.7 1618.6 1004.2 1614.0 1004.7 1616.4 1005.2 1614.3 1005.7 1617.8 1006.2 1616.9 1006.7 1617.1 1007.2 1615.0 1007.7 1617.7 1008.2 1615.4 1008.7 1615.8 1009.2 1615.2 1009.7 1614.0 1010.2 1614.2 1010.7 1614.8 1011.2 1615.3 1011.7 1617.0 1012.2 1613.0 1012.7 1613.8 1013.2 1614.2 1013.7 1616.7 1014.2 1613.9 1014.7 1615.9 1015.2 1615.2 1015.7 1613.1 1016.2 1615.2 1016.7 1617.7 1017.2 1615.1 1017.7 1616.8 1018.2 1617.3 1018.7 1616.1 1019.2 1617.2 1019.7 1614.1 1020.2 1612.1 1020.7 1615.1 1021.2 1612.0 1021.7 1614.8 1022.2 1611.7 1022.7 1610.7 1023.2 1613.8 1023.7 1610.0 1024.2 1613.6 1024.7 1610.2 1025.2 1613.6 1025.7 1613.1 1026.2 1609.3 1026.7 1607.3 1027.2 1608.3 1027.7 1604.5 1028.2 1605.8 1028.7 1601.7 1029.2 1604.3 1029.7 1601.1 1030.2 1600.2 1030.7 1598.3 1031.2 1597.4 1031.7 1593.4 1032.2 1594.4 1032.7 1593.5 1033.2 1593.0 1033.5 1592.8 1033.7 1592.8 1034.2 1592.9 1034.7 1593.2 1035.2 1591.5 1035.7 1594.9 1036.2 1598.1 1036.7 1594.3 1037.2 1597.8 1037.7 1599.2 1038.2 1596.0 1038.7 1595.0 1039.2 1598.9 1039.7 1597.6 1040.2 1593.0 1040.7 1592.5 1041.2 1592.9 1041.7 1590.2 1042.2 1589.3 1042.7 1590.3 1043.2 1586.2 1043.7 1585.1 1044.2 1584.6 1044.5 1584.6 1044.7 1584.7 1045.2 1585.6 1045.7 1587.1 1046.2 1589.2 1046.7 1590.7 1047.2 1594.2 1047.7 1598.4 1048.2 1598.9 1048.7 1600.8 1049.2 1601.1 1049.7 1605.4 1050.2 1604.7 1050.7 1604.8 1051.2 1610.3 1051.7 1608.8 1052.2 1611.3 1052.7 1608.8 1053.2 1613.2 1053.7 1613.2 1054.2 1610.5 1054.7 1614.5 1055.2 1611.5 1055.7 1611.2 1056.2 1615.4 1056.7 1610.3 1057.2 1612.2 1057.7 1610.8 1058.2 1612.5 1058.7 1613.1 1059.2 1612.3 1059.7 1613.8 1060.2 1610.5 1060.7 1611.8 1061.2 1612.1 1061.7 1613.6 1062.2 1610.7 1062.7 1610.7 1063.2 1610.5 1063.7 1615.4 1064.2 1613.6 1064.7 1611.2 1065.2 1614.4 1065.7 1611.4 1066.2 1611.1 1066.7 1614.8 1067.2 1611.9 1067.7 1610.1 1068.2 1614.4 1068.7 1613.5 1069.2 1612.1 1069.7 1610.9 1070.2 1608.7 1070.7 1610.9 1071.2 1610.9 1071.7 1609.8 1072.2 1607.2 1072.7 1607.7 1073.2 1601.6 1073.7 1603.0 1074.2 1597.0 1074.7 1595.9 1075.2 1593.1 1075.7 1589.0 1076.2 1591.0 1076.7 1585.8 1077.2 1584.1 1077.7 1582.6 1078.2 1581.9 1078.4 1581.8 1078.7 1582.0 1079.2 1582.9 1079.7 1584.5 1080.2 1584.9 1080.7 1589.9 1081.2 1592.8 1081.7 1596.2 1082.2 1598.6 1082.7 1599.5 1083.2 1603.2 1083.7 1601.2 1084.2 1607.8 1084.7 1604.9 1085.2 1606.9 1085.7 1607.2 1086.2 1608.5 1086.7 1608.2 1087.2 1609.4 1087.7 1608.8 1088.2 1611.1 1088.7 1614.4 1089.2 1610.8 1089.7 1611.8 1090.2 1613.8 1090.7 1612.2 1091.2 1613.1 1091.7 1611.5 1092.2 1612.9 1092.7 1611.0 1093.2 1613.6 1093.7 1614.9 1094.2 1612.2 1094.7 1612.7 1095.2 1615.1 1095.7 1610.8 1096.2 1611.9 1096.7 1614.6 1097.2 1615.5 1097.7 1613.9 1098.2 1612.4 1098.7 1613.8 1099.2 1614.0 1099.7 1613.2 1100.2 1614.2 1100.7 1614.1 1101.2 1613.1 1101.7 1612.5 1102.2 1613.5 1102.7 1612.8 1103.2 1615.7 1103.7 1616.3 1104.2 1615.5 1104.7 1614.6 1105.2 1615.3 1105.7 1614.8 1106.2 1612.2 1106.7 1613.6 1107.2 1614.7 1107.7 1616.0 1108.2 1612.3 1108.7 1614.2 1109.2 1613.9 1109.7 1612.7 1110.2 1613.4 1110.7 1616.4 1111.2 1611.8 1111.7 1612.1 1112.2 1615.1 1112.7 1614.6 1113.2 1613.1 1113.7 1613.1 1114.2 1614.0 1114.7 1611.7 1115.2 1613.9 1115.7 1613.8 1116.2 1613.2 1116.7 1611.6 1117.2 1615.8 1117.7 1615.8 1118.2 1616.4 1118.7 1614.2 1119.2 1612.5 1119.7 1611.7 1120.2 1614.6 1120.7 1611.0 1121.2 1615.1 1121.7 1612.9 1122.2 1613.6 1122.7 1616.2 1123.2 1612.3 1123.7 1613.6 1124.2 1614.0 1124.7 1611.6 1125.2 1613.1 1125.7 1613.1 1126.2 1615.9 1126.7 1616.1 1127.2 1614.3 1127.7 1610.9 1128.2 1614.7 1128.7 1615.7 1129.2 1615.5 1129.7 1611.2 1130.2 1614.6 1130.7 1610.9 1131.2 1613.8 1131.7 1615.3 1132.2 1613.6 1132.7 1613.0 1133.2 1612.0 1133.7 1615.8 1134.2 1612.6 1134.7 1613.4 1135.2 1612.7 1135.7 1615.3 1136.2 1615.0 1136.7 1614.5 1137.2 1612.3 1137.7 1614.5 1138.2 1615.9 1138.7 1614.3 1139.2 1615.6 1139.7 1615.1 1140.2 1616.2 1140.7 1613.1 1141.2 1613.5 1141.7 1611.1 1142.2 1614.8 1142.7 1611.7 1143.2 1613.1 1143.7 1614.3 1144.2 1611.5 1144.7 1612.9 1145.2 1614.8 1145.7 1613.4 1146.2 1612.3 1146.7 1612.5 1147.2 1612.0 1147.7 1612.4 1148.2 1614.3 1148.7 1612.2 1149.2 1612.4 1149.7 1611.0 1150.2 1611.2 1150.7 1613.4 1151.2 1612.2 1151.7 1613.0 1152.2 1609.8 1152.7 1608.4 1153.2 1612.5 1153.7 1607.3 1154.2 1607.7 1154.7 1608.3 1155.2 1606.7 1155.7 1608.2 1156.2 1606.5 1156.7 1607.4 1157.2 1602.9 1157.7 1605.8 1158.2 1602.3 1158.7 1602.2 1159.2 1601.8 1159.7 1601.6 1159.9 1601.6 1160.2 1601.6 1160.7 1601.8 1161.2 1602.2 1161.7 1600.2 1162.2 1604.2 1162.7 1602.0 1163.2 1607.6 1163.7 1604.3 1164.2 1607.8 1164.7 1608.7 1165.2 1610.1 1165.7 1610.9 1166.2 1607.2 1166.7 1608.0 1167.2 1610.2 1167.7 1609.8 1168.2 1609.0 1168.7 1612.0 1169.2 1612.7 1169.7 1610.4 1170.2 1612.6 1170.7 1609.4 1171.2 1610.1 1171.7 1615.0 1172.2 1610.4 1172.7 1612.7 1173.2 1610.6 1173.7 1610.0 1174.2 1611.1 1174.7 1611.0 1175.2 1614.3 1175.7 1614.2 1176.2 1613.5 1176.7 1613.3 1177.2 1615.3 1177.7 1615.2 1178.2 1613.0 1178.7 1614.7 1179.2 1610.2 1179.7 1614.0 1180.2 1611.4 1180.7 1612.8 1181.2 1612.0 1181.7 1610.8 1182.2 1610.5 1182.7 1615.7 1183.2 1611.6 1183.7 1611.6 1184.2 1614.1 1184.7 1610.3 1185.2 1613.5 1185.7 1612.2 1186.2 1610.5 1186.7 1610.5 1187.2 1615.4 1187.7 1615.1 1188.2 1615.0 1188.7 1610.8 1189.2 1615.1 1189.7 1611.2 1190.2 1610.8 1190.7 1613.4 1191.2 1614.9 1191.7 1615.1 1192.2 1610.2 1192.7 1615.1 1193.2 1612.1 1193.7 1611.3 1194.2 1614.9 1194.7 1613.3 1195.2 1610.1 1195.7 1614.4 1196.2 1614.8 1196.7 1614.7 1197.2 1610.0 1197.7 1612.3 1198.2 1611.6 1198.7 1610.1 1199.2 1613.3 1199.7 1610.9 1200.2 1612.0 1200.7 1614.1 1201.2 1609.3 1201.7 1609.1 1202.2 1609.8 1202.7 1611.0 1203.2 1613.0 1203.7 1608.4 1204.2 1610.4 1204.7 1611.4 1205.2 1611.2 1205.7 1608.4 1206.2 1607.6 1206.7 1606.2 1207.2 1608.6 1207.7 1604.9 1208.2 1606.8 1208.7 1602.3 1209.2 1602.5 1209.7 1601.5 1210.2 1601.9 1210.7 1603.7 1211.2 1600.4 1211.7 1599.9 1212.2 1599.5 1212.7 1599.4 1213.2 1599.5 1213.7 1599.8 1214.2 1600.4 1214.7 1603.0 1215.2 1601.0 1215.7 1604.6 1216.2 1604.4 1216.7 1602.8 1217.2 1605.0 1217.7 1605.4 1218.2 1604.9 1218.7 1610.3 1219.2 1606.4 1219.7 1606.8 1220.2 1609.4 1220.7 1611.9 1221.2 1612.2 1221.7 1608.7 1222.2 1613.2 1222.7 1610.6 1223.2 1609.8 1223.7 1610.6 1224.2 1609.7 1224.7 1612.3 1225.2 1609.5 1225.7 1612.0 1226.2 1609.4 1226.7 1611.7 1227.2 1611.3 1227.7 1610.9 1228.2 1610.6 1228.7 1614.4 1229.2 1611.4 1229.7 1610.9 1230.2 1610.7 1230.7 1614.6 1231.2 1610.7 1231.7 1611.8 1232.2 1612.5 1232.7 1610.8 1233.2 1614.7 1233.7 1614.9 1234.2 1613.4 1234.7 1611.4 1235.2 1612.6 1235.7 1613.0 1236.2 1614.3 1236.7 1612.9 1237.2 1613.2 1237.7 1610.3 1238.2 1614.1 1238.7 1610.4 1239.2 1610.4 1239.7 1610.6 1240.2 1609.7 1240.7 1611.4 1241.2 1614.7 1241.7 1612.3 1242.2 1610.5 1242.7 1611.5 1243.2 1612.9 1243.7 1614.6 1244.2 1612.7 1244.7 1614.2 1245.2 1613.9 1245.7 1614.9 1246.2 1614.0 1246.7 1612.8 1247.2 1613.5 1247.7 1609.8 1248.2 1611.8 1248.7 1612.4 1249.2 1614.0 1249.7 1610.4 1250.2 1613.9 1250.7 1610.0 1251.2 1613.9 1251.7 1614.3 1252.2 1615.0 1252.7 1609.8 1253.2 1615.0 1253.7 1610.8 1254.2 1615.1 1254.7 1613.6 1255.2 1613.1 1255.7 1613.9 1256.2 1612.8 1256.7 1611.9 1257.2 1614.8 1257.7 1612.2 1258.2 1614.5 1258.7 1610.5 1259.2 1609.7 1259.7 1613.5 1260.2 1613.7 1260.7 1612.3 1261.2 1611.4 1261.7 1612.5 1262.2 1610.2 1262.7 1611.4 1263.2 1613.1 1263.7 1613.5 1264.2 1609.8 1264.7 1613.5 1265.2 1611.8 1265.7 1609.4 1266.2 1612.3 1266.7 1611.9 1267.2 1614.1 1267.7 1611.9 1268.2 1614.9 1268.7 1611.7 1269.2 1612.5 1269.7 1610.7 1270.2 1614.0 1270.7 1609.2 1271.2 1614.7 1271.7 1609.7 1272.2 1611.0 1272.7 1612.8 1273.2 1612.9 1273.7 1610.1 1274.2 1609.1 1274.7 1613.3 1275.2 1612.8 1275.7 1611.7 1276.2 1613.7 1276.7 1613.0 1277.2 1611.7 1277.7 1613.7 1278.2 1613.6 1278.7 1609.4 1279.2 1613.1 1279.7 1613.7 1280.2 1612.9 1280.7 1610.0 1281.2 1614.3 1281.7 1611.7 1282.2 1611.7 1282.7 1610.5 1283.2 1611.7 1283.7 1612.2 1284.2 1613.1 1284.7 1613.6 1285.2 1613.3 1285.7 1612.8 1286.2 1613.4 1286.7 1612.7 1287.2 1608.7 1287.7 1612.2 1288.2 1613.3 1288.7 1608.7 1289.2 1612.3 1289.7 1614.0 1290.2 1613.6 1290.7 1610.1 1291.2 1612.9 1291.7 1612.1 1292.2 1614.0 1292.7 1610.6 1293.2 1609.0 1293.7 1613.1 1294.2 1611.2 1294.7 1611.1 1295.2 1613.3 1295.7 1610.7 1296.2 1609.7 1296.7 1610.2 1297.2 1612.2 1297.7 1612.0 1298.2 1610.0 1298.7 1613.0 1299.2 1609.7 1299.7 1609.0 1300.2 1613.0 1300.7 1613.3 1301.2 1610.8 1301.7 1608.6 1302.2 1613.4 1302.7 1609.7 1303.2 1612.1 1303.7 1613.5 1304.2 1611.7 1304.7 1609.5 1305.2 1609.3 1305.7 1610.8 1306.2 1613.4 1306.7 1610.6" stroke="#f60000"/>
<g fill="#f60000" stroke="none"><circle cx="405.6" cy="1601.2" r="4.5"/><circle cx="462.3" cy="1465.5" r="4.5"/><circle cx="522.7" cy="1470.9" r="4.5"/><circle cx="712.6" cy="1582.1" r="4.5"/><circle cx="801.2" cy="1600.3" r="4.5"/><circle cx="893.2" cy="1598.3" r="4.5"/><circle cx="953.7" cy="1587.3" r="4.5"/><circle cx="1033.5" cy="1592.8" r="4.5"/><circle cx="1044.5" cy="1584.6" r="4.5"/><circle cx="1078.4" cy="1581.8" r="4.5"/><circle cx="1159.9" cy="1601.6" r="4.5"/><circle cx="1212.7" cy="1599.4" r="4.5"/></g>
</g>
<g font-size="63.5"><text x="170.7" y="1752" text-anchor="middle">20</text><text x="360.0" y="1752" text-anchor="middle">30</text><text x="549.4" y="1752" text-anchor="middle">40</text><text x="738.8" y="1752" text-anchor="middle">50</text><text x="928.1" y="1752" text-anchor="middle">60</text><text x="1117.4" y="1752" text-anchor="middle">70</text><text x="1306.8" y="1752" text-anchor="middle">80</text></g>
<g font-size="63.3"><text x="833.8" y="409.5"><tspan>Pt/CuAlGaO</tspan><tspan font-size="40" dy="20">4</tspan><tspan dy="-20"> (e)</tspan></text><text x="909.7" y="775.8"><tspan>CuAlGaO</tspan><tspan font-size="40" dy="20">4</tspan><tspan dy="-20"> (d)</tspan></text><text x="1054.3" y="1193"><tspan>Al</tspan><tspan font-size="40" dy="20">2</tspan><tspan dy="-20">O</tspan><tspan font-size="40" dy="20">3</tspan><tspan dy="-20"> (c)</tspan></text><text x="1028.9" y="1371"><tspan>Ga</tspan><tspan font-size="40" dy="20">2</tspan><tspan dy="-20">O</tspan><tspan font-size="40" dy="20">3</tspan><tspan dy="-20"> (b)</tspan></text><text x="1075.5" y="1566.2"><tspan>CuO (a)</tspan></text></g>
<g font-size="45"><text transform="translate(383.5,567.7) rotate(-90)">(220)</text><g transform="translate(445.3,470.9) rotate(-90)"><text x="0.00" y="0">(3</text><path transform="translate(40.01,0) scale(0.02197,-0.02197)" d="M763 0L583 0L583 1147C540 1106 483 1064 413 1023C342 982 279 951 223 930L223 1104C323 1151 411 1208 486 1275C561 1342 614 1406 645 1466L763 1466Z"/><path transform="translate(65.04,0) scale(0.02197,-0.02197)" d="M763 0L583 0L583 1147C540 1106 483 1064 413 1023C342 982 279 951 223 930L223 1104C323 1151 411 1208 486 1275C561 1342 614 1406 645 1466L763 1466Z"/><text x="90.07" y="0">)</text></g><text transform="translate(542.2,625.1) rotate(-90)">(222)</text><text transform="translate(634.8,634.6) rotate(-90)">(400)</text><text transform="translate(832.3,665.5) rotate(-90)">(422)</text><g transform="translate(899.7,613.8) rotate(-90)"><text x="0.00" y="0">(5</text><path transform="translate(40.01,0) scale(0.02197,-0.02197)" d="M763 0L583 0L583 1147C540 1106 483 1064 413 1023C342 982 279 951 223 930L223 1104C323 1151 411 1208 486 1275C561 1342 614 1406 645 1466L763 1466Z"/><path transform="translate(65.04,0) scale(0.02197,-0.02197)" d="M763 0L583 0L583 1147C540 1106 483 1064 413 1023C342 982 279 951 223 930L223 1104C323 1151 411 1208 486 1275C561 1342 614 1406 645 1466L763 1466Z"/><text x="90.07" y="0">)</text></g><text transform="translate(1008.7,608.1) rotate(-90)">(440)</text></g>
<text font-size="72" x="479.4" y="1870">2-theta (degree)</text>
<text font-size="72" transform="translate(75.8,1058.6) rotate(-90)">Intensity (a.u.)</text>
</svg>
</body></html>
